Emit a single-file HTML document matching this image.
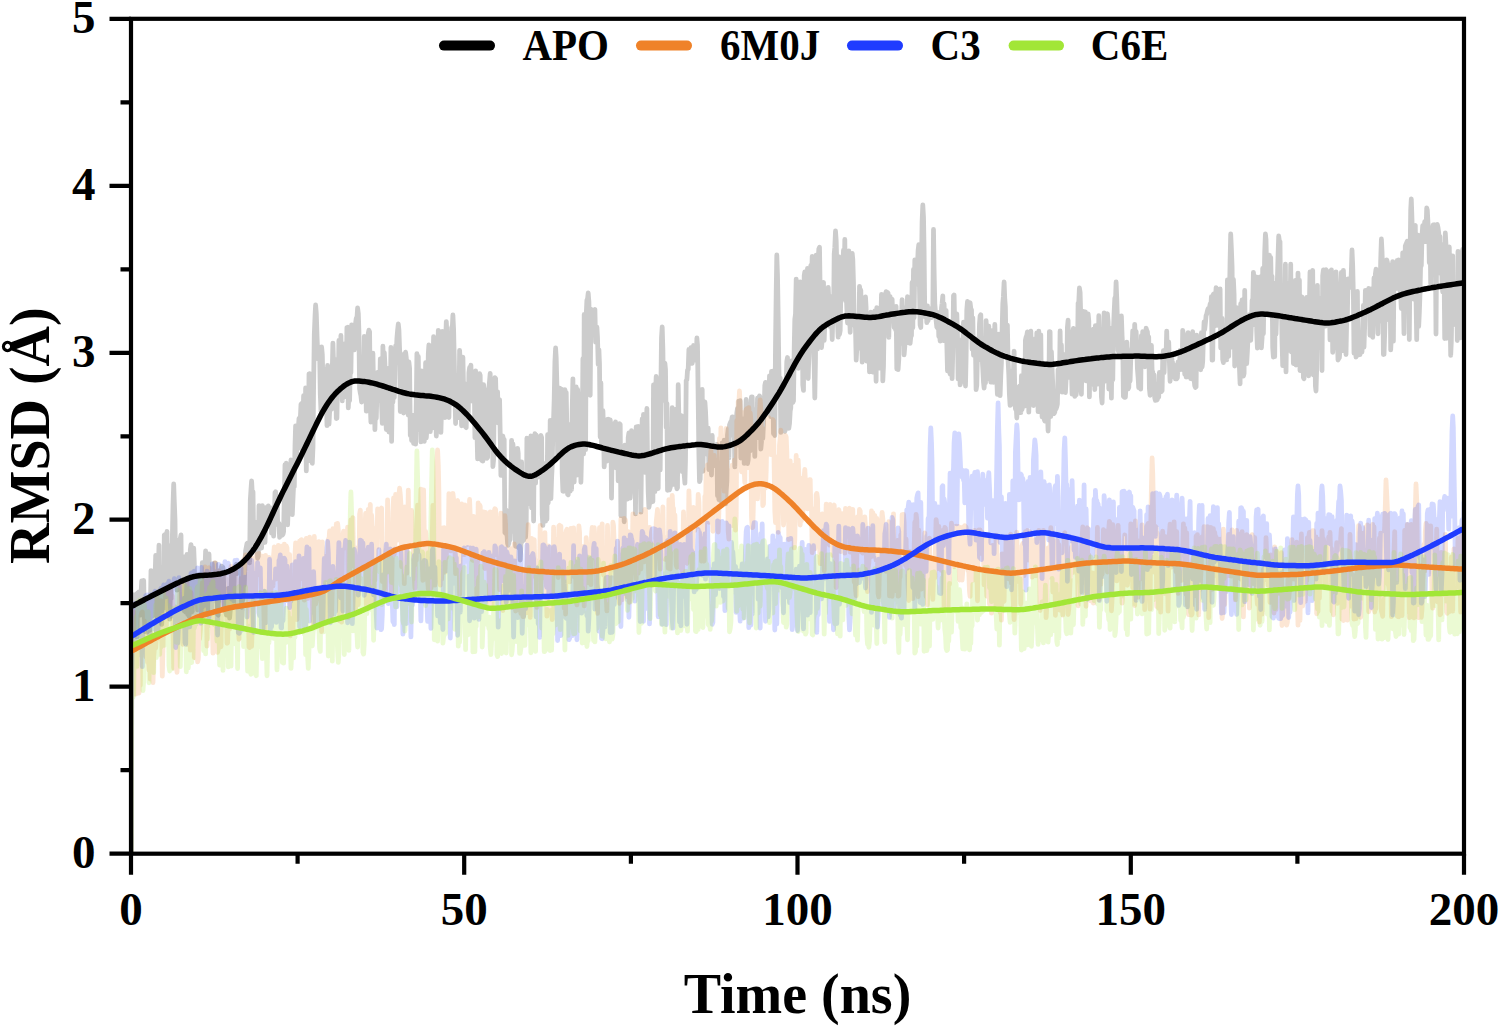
<!DOCTYPE html><html><head><meta charset="utf-8"><style>html,body{margin:0;padding:0;background:#fff;overflow:hidden}svg{display:block}</style></head><body><svg width="1499" height="1027" viewBox="0 0 1499 1027">
<rect width="1499" height="1027" fill="#fff"/>
<defs><clipPath id="c"><rect x="131.0" y="18.8" width="1333.0" height="834.9"/></clipPath></defs>
<g clip-path="url(#c)" fill="none" stroke-linejoin="round" stroke-linecap="round" stroke-width="4.8">
<path d="M131.5 853.7L131.7 599.5 132.3 594.3 133.0 613.9 133.7 620.2 134.3 629.5 135.0 609.3 135.7 610.5 136.3 594.2 137.0 636.9 137.7 592.8 138.3 610.1 139.0 591.9 139.7 607.0 140.3 615.2 141.0 594.2 141.7 580.8 142.3 593.6 143.0 601.0 143.7 580.5 144.3 615.9 145.0 631.5 145.7 601.6 146.3 618.8 147.0 632.0 147.7 629.7 148.3 623.9 149.0 629.1 149.7 630.3 150.3 613.5 151.0 570.6 151.7 582.2 152.3 616.3 153.0 591.4 153.7 577.4 154.3 605.0 155.0 579.5 155.7 555.4 156.3 583.9 157.0 617.0 157.7 581.8 158.3 571.0 159.0 545.1 159.7 615.4 160.3 615.7 161.0 619.1 161.7 624.4 162.3 607.6 163.0 566.9 163.7 608.1 164.3 535.1 165.0 534.5 165.7 539.8 166.3 546.3 167.0 531.4 167.7 611.0 168.3 564.7 169.0 545.6 169.7 619.2 170.3 597.5 171.0 598.6 171.7 558.1 172.3 541.2 173.0 505.2 173.7 484.0 174.3 501.8 175.0 519.5 175.7 581.7 176.3 558.8 177.0 590.1 177.7 540.4 178.3 545.6 179.0 570.9 179.7 554.3 180.3 538.5 181.0 534.9 181.7 608.1 182.3 561.1 183.0 558.0 183.7 578.7 184.3 611.0 185.0 556.7 185.7 612.2 186.3 583.8 187.0 554.5 187.7 614.4 188.3 607.5 189.0 616.1 189.7 597.3 190.3 549.8 191.0 544.6 191.7 612.2 192.3 611.1 193.0 577.9 193.7 548.2 194.3 562.4 195.0 603.3 195.7 583.1 196.3 585.4 197.0 596.0 197.6 609.8 198.3 582.2 199.0 574.4 199.6 584.2 200.3 591.7 201.0 613.7 201.6 608.1 202.3 562.7 203.0 585.8 203.6 613.9 204.3 568.4 205.0 567.9 205.6 550.8 206.3 564.9 207.0 598.1 207.6 614.5 208.3 566.3 209.0 554.0 209.6 577.1 210.3 597.0 211.0 569.0 211.6 594.6 212.3 592.5 213.0 595.2 213.6 579.6 214.3 563.1 215.0 568.9 215.6 563.2 216.3 575.9 217.0 570.1 217.6 614.1 218.3 615.1 219.0 579.6 219.6 593.3 220.3 573.7 221.0 570.9 221.6 566.2 222.3 567.4 223.0 567.5 223.6 582.7 224.3 604.6 225.0 611.1 225.6 609.4 226.3 615.0 227.0 614.0 227.6 601.4 228.3 588.3 229.0 597.6 229.6 618.1 230.3 609.8 231.0 593.9 231.6 574.9 232.3 574.9 233.0 595.0 233.6 606.6 234.3 568.1 235.0 568.0 235.6 565.4 236.3 564.4 237.0 573.5 237.6 569.3 238.3 567.2 239.0 564.9 239.6 564.3 240.3 566.5 241.0 567.6 241.6 607.3 242.3 593.0 243.0 599.6 243.6 577.8 244.3 585.0 245.0 560.8 245.6 550.8 246.3 547.2 247.0 543.4 247.6 543.0 248.3 553.1 249.0 555.4 249.6 562.8 250.3 500.1 251.0 489.4 251.6 481.0 252.3 494.2 253.0 491.9 253.6 535.9 254.3 543.9 255.0 531.2 255.6 545.5 256.3 522.4 257.0 540.0 257.6 558.1 258.3 556.2 259.0 505.6 259.6 512.2 260.3 543.7 261.0 526.1 261.6 548.0 262.3 505.6 263.0 543.0 263.6 518.8 264.3 511.5 265.0 542.3 265.6 525.7 266.3 507.5 267.0 508.7 267.6 512.4 268.3 506.0 269.0 511.5 269.6 512.6 270.3 518.2 271.0 507.8 271.6 533.1 272.3 508.5 273.0 522.3 273.6 536.1 274.3 517.6 275.0 492.7 275.6 491.8 276.3 513.9 277.0 497.1 277.6 520.5 278.3 525.2 279.0 523.4 279.6 537.3 280.3 530.0 281.0 534.2 281.6 532.7 282.3 535.2 283.0 534.2 283.6 531.7 284.3 497.1 285.0 464.7 285.6 479.3 286.3 463.1 287.0 485.1 287.6 524.8 288.3 504.4 289.0 478.9 289.6 499.1 290.3 480.1 291.0 459.9 291.6 501.3 292.3 514.6 293.0 498.4 293.6 485.4 294.3 486.7 295.0 445.8 295.6 425.8 296.3 462.8 297.0 443.4 297.6 431.0 298.3 428.5 299.0 418.4 299.6 447.9 300.3 418.8 301.0 404.2 301.6 403.5 302.3 451.3 303.0 416.4 303.6 395.7 304.3 403.1 305.0 450.5 305.6 388.0 306.3 470.9 307.0 414.4 307.6 403.9 308.3 461.0 309.0 373.8 309.6 373.7 310.3 444.3 311.0 374.1 311.6 397.8 312.3 463.3 313.0 446.7 313.6 386.4 314.3 334.0 315.0 316.9 315.6 305.0 316.3 313.6 317.0 335.2 317.6 351.1 318.3 359.0 319.0 356.0 319.6 350.6 320.3 394.4 321.0 411.4 321.6 346.9 322.3 354.4 323.0 385.3 323.6 369.0 324.3 392.0 325.0 377.4 325.6 411.2 326.3 388.4 327.0 425.7 327.6 365.4 328.3 394.9 329.0 424.2 329.6 412.1 330.3 409.3 330.9 378.0 331.6 409.2 332.3 369.1 332.9 343.1 333.6 364.1 334.3 358.8 334.9 379.0 335.6 362.1 336.3 418.5 336.9 418.3 337.6 381.6 338.3 381.7 338.9 340.5 339.6 382.7 340.3 376.9 340.9 335.5 341.6 363.7 342.3 400.9 342.9 386.8 343.6 379.0 344.3 343.9 344.9 353.2 345.6 396.5 346.3 373.5 346.9 327.7 347.6 327.3 348.3 407.9 348.9 395.5 349.6 400.8 350.3 367.1 350.9 372.8 351.6 325.0 352.3 326.3 352.9 327.5 353.6 338.3 354.3 349.8 354.9 338.9 355.6 323.2 356.3 318.1 356.9 319.3 357.6 308.0 358.3 313.2 358.9 330.9 359.6 388.6 360.3 393.1 360.9 395.8 361.6 402.1 362.3 382.4 362.9 360.6 363.6 380.2 364.3 336.3 364.9 347.2 365.6 355.7 366.3 411.2 366.9 404.3 367.6 365.4 368.3 333.3 368.9 330.2 369.6 331.7 370.3 405.2 370.9 422.1 371.6 395.6 372.3 387.6 372.9 353.2 373.6 388.5 374.3 388.5 374.9 429.6 375.6 406.7 376.3 418.3 376.9 393.5 377.6 372.5 378.3 400.5 378.9 386.4 379.6 396.0 380.3 358.8 380.9 360.3 381.6 405.1 382.3 423.4 382.9 346.2 383.6 372.9 384.3 352.6 384.9 363.6 385.6 412.8 386.3 429.5 386.9 411.5 387.6 388.5 388.3 368.3 388.9 432.1 389.6 426.1 390.3 407.1 390.9 347.5 391.6 441.4 392.3 384.0 392.9 402.1 393.6 367.3 394.3 397.5 394.9 366.2 395.6 346.0 396.3 352.1 396.9 338.5 397.6 330.2 398.3 324.0 398.9 329.7 399.6 349.0 400.3 411.5 400.9 392.0 401.6 391.5 402.3 362.2 402.9 376.2 403.6 413.0 404.3 353.6 404.9 355.5 405.6 352.2 406.3 357.8 406.9 383.7 407.6 406.2 408.3 415.0 408.9 361.9 409.6 368.3 410.3 435.6 410.9 416.6 411.6 440.5 412.3 415.2 412.9 438.4 413.6 443.3 414.3 425.5 414.9 418.1 415.6 444.1 416.3 401.2 416.9 353.6 417.6 429.8 418.3 356.5 418.9 408.4 419.6 419.9 420.3 409.0 420.9 441.9 421.6 370.9 422.3 371.7 422.9 421.5 423.6 420.4 424.3 441.3 424.9 428.1 425.6 362.7 426.3 437.8 426.9 429.3 427.6 399.3 428.3 353.6 428.9 345.0 429.6 407.4 430.3 431.6 430.9 399.2 431.6 420.4 432.3 428.1 432.9 368.9 433.6 336.6 434.3 359.0 434.9 401.6 435.6 365.9 436.3 436.1 436.9 421.4 437.6 430.5 438.3 330.3 438.9 335.6 439.6 365.5 440.3 399.6 440.9 432.4 441.6 406.7 442.3 331.3 442.9 402.1 443.6 358.8 444.3 337.8 444.9 417.7 445.6 342.6 446.3 321.6 446.9 334.1 447.6 361.7 448.3 334.0 448.9 417.5 449.6 382.6 450.3 336.0 450.9 404.4 451.6 327.5 452.3 327.7 452.9 315.0 453.6 329.2 454.3 362.2 454.9 393.5 455.6 423.5 456.3 375.5 456.9 417.4 457.6 394.1 458.3 417.5 458.9 413.8 459.6 350.3 460.3 365.7 460.9 400.3 461.6 425.8 462.3 368.1 462.9 357.2 463.6 390.1 464.2 383.1 464.9 422.2 465.6 426.8 466.2 427.6 466.9 399.9 467.6 387.2 468.2 417.0 468.9 372.5 469.6 367.5 470.2 379.9 470.9 365.1 471.6 395.0 472.2 401.1 472.9 381.7 473.6 392.2 474.2 373.6 474.9 437.7 475.6 370.9 476.2 425.5 476.9 427.5 477.6 458.9 478.2 408.9 478.9 375.0 479.6 373.7 480.2 375.4 480.9 456.9 481.6 460.3 482.2 451.7 482.9 461.0 483.6 384.7 484.2 391.8 484.9 403.4 485.6 389.8 486.2 446.3 486.9 458.3 487.6 457.4 488.2 393.2 488.9 388.3 489.6 380.4 490.2 373.4 490.9 444.9 491.6 447.6 492.2 418.3 492.9 466.6 493.6 459.8 494.2 392.3 494.9 377.6 495.6 378.5 496.2 401.3 496.9 419.3 497.6 391.8 498.2 423.0 498.9 416.4 499.6 399.7 500.2 433.7 500.9 475.4 501.6 467.0 502.2 439.3 502.9 436.2 503.6 447.6 504.2 439.5 504.9 532.5 505.6 533.2 506.2 510.2 506.9 533.1 507.6 543.5 508.2 545.2 508.9 542.8 509.6 524.6 510.2 539.6 510.9 498.9 511.6 440.3 512.2 467.4 512.9 444.0 513.6 452.1 514.2 531.7 514.9 523.0 515.6 546.3 516.2 473.0 516.9 528.4 517.6 448.4 518.2 453.3 518.9 547.9 519.6 539.5 520.2 560.0 520.9 545.9 521.6 461.9 522.2 541.6 522.9 524.2 523.6 540.3 524.2 517.5 524.9 537.3 525.6 537.1 526.2 524.5 526.9 438.2 527.6 492.8 528.2 454.7 528.9 479.8 529.6 503.7 530.2 461.6 530.9 436.0 531.6 507.8 532.2 467.9 532.9 468.3 533.6 521.0 534.2 442.2 534.9 433.7 535.6 483.1 536.2 435.2 536.9 455.6 537.6 477.3 538.2 437.9 538.9 451.2 539.6 459.4 540.2 437.3 540.9 435.4 541.6 437.6 542.2 514.5 542.9 525.4 543.6 463.3 544.2 512.2 544.9 499.9 545.6 521.2 546.2 511.8 546.9 519.3 547.6 434.7 548.2 502.8 548.9 482.4 549.6 477.9 550.2 420.3 550.9 498.7 551.6 478.1 552.2 465.9 552.9 428.1 553.6 418.3 554.2 398.5 554.9 362.1 555.6 348.0 556.2 357.9 556.9 384.8 557.6 454.6 558.2 420.8 558.9 403.1 559.6 388.2 560.2 399.8 560.9 396.5 561.6 389.2 562.2 473.5 562.9 491.1 563.6 491.3 564.2 469.2 564.9 389.6 565.6 394.2 566.2 392.6 566.9 429.9 567.6 494.2 568.2 494.8 568.9 463.0 569.6 444.6 570.2 491.1 570.9 424.1 571.6 489.4 572.2 409.3 572.9 378.8 573.6 449.3 574.2 482.1 574.9 400.0 575.6 471.1 576.2 386.9 576.9 475.2 577.6 389.3 578.2 398.1 578.9 422.7 579.6 461.2 580.2 402.0 580.9 482.3 581.6 454.3 582.2 441.4 582.9 358.7 583.6 454.0 584.2 314.5 584.9 346.7 585.6 449.7 586.2 315.0 586.9 300.2 587.6 298.6 588.2 293.0 588.9 302.0 589.6 345.7 590.2 395.3 590.9 309.1 591.6 313.5 592.2 324.8 592.9 316.6 593.6 325.3 594.2 311.1 594.9 309.4 595.6 342.1 596.2 340.3 596.9 327.2 597.5 337.3 598.2 364.5 598.9 349.7 599.5 364.2 600.2 437.0 600.9 383.0 601.5 446.3 602.2 447.9 602.9 410.6 603.5 428.4 604.2 466.9 604.9 454.1 605.5 461.8 606.2 420.0 606.9 447.5 607.5 460.8 608.2 419.1 608.9 432.5 609.5 419.9 610.2 419.8 610.9 427.0 611.5 498.1 612.2 443.4 612.9 427.7 613.5 423.9 614.2 433.0 614.9 423.2 615.5 422.0 616.2 468.0 616.9 425.2 617.5 432.4 618.2 480.9 618.9 476.2 619.5 423.7 620.2 424.4 620.9 515.7 621.5 473.8 622.2 470.2 622.9 471.5 623.5 483.2 624.2 521.8 624.9 445.2 625.5 496.2 626.2 481.6 626.9 491.3 627.5 499.0 628.2 437.5 628.9 432.9 629.5 461.5 630.2 498.0 630.9 487.5 631.5 430.7 632.2 435.3 632.9 432.3 633.5 448.0 634.2 452.8 634.9 435.6 635.5 513.9 636.2 426.9 636.9 468.3 637.5 482.4 638.2 426.5 638.9 433.3 639.5 436.6 640.2 468.0 640.9 512.2 641.5 457.6 642.2 419.0 642.9 457.4 643.5 414.3 644.2 458.6 644.9 472.3 645.5 419.5 646.2 424.1 646.9 408.5 647.5 455.9 648.2 491.8 648.9 507.4 649.5 503.8 650.2 501.0 650.9 502.3 651.5 455.1 652.2 475.1 652.9 501.5 653.5 384.9 654.2 441.6 654.9 491.7 655.5 393.7 656.2 376.5 656.9 453.4 657.5 488.5 658.2 488.5 658.9 390.3 659.5 437.6 660.2 470.1 660.9 387.0 661.5 337.7 662.2 327.0 662.9 350.1 663.5 400.4 664.2 370.9 664.9 363.1 665.5 369.5 666.2 427.5 666.9 403.3 667.5 490.3 668.2 473.6 668.9 488.2 669.5 489.9 670.2 487.6 670.9 484.4 671.5 450.4 672.2 407.7 672.9 433.5 673.5 484.4 674.2 454.9 674.9 472.7 675.5 409.5 676.2 482.1 676.9 488.8 677.5 487.7 678.2 384.7 678.9 419.6 679.5 462.8 680.2 416.3 680.9 427.4 681.5 415.6 682.2 471.6 682.9 458.3 683.5 450.3 684.2 474.9 684.9 483.2 685.5 459.7 686.2 380.6 686.9 379.6 687.5 370.4 688.2 369.3 688.9 349.4 689.5 361.8 690.2 353.1 690.9 347.7 691.5 357.6 692.2 363.4 692.9 349.4 693.5 345.5 694.2 350.9 694.9 356.2 695.5 351.2 696.2 360.2 696.9 338.0 697.5 345.3 698.2 400.9 698.9 455.0 699.5 481.6 700.2 479.2 700.9 442.6 701.5 468.0 702.2 389.4 702.9 471.3 703.5 437.8 704.2 411.8 704.9 401.9 705.5 410.5 706.2 426.4 706.9 439.2 707.5 454.5 708.2 428.2 708.9 469.6 709.5 447.3 710.2 462.8 710.9 459.8 711.5 475.0 712.2 435.5 712.9 466.1 713.5 461.0 714.2 455.6 714.9 449.5 715.5 450.3 716.2 452.9 716.9 444.4 717.5 495.6 718.2 483.7 718.9 499.6 719.5 483.1 720.2 500.4 720.9 501.0 721.5 489.2 722.2 442.8 722.9 447.0 723.5 454.4 724.2 440.1 724.9 480.5 725.5 503.8 726.2 490.8 726.9 480.8 727.5 435.0 728.2 429.0 728.9 457.9 729.5 425.0 730.2 422.9 730.9 421.4 731.5 421.0 732.2 416.8 732.8 416.8 733.5 435.6 734.2 423.6 734.8 466.9 735.5 422.8 736.2 423.4 736.8 412.9 737.5 408.5 738.2 445.2 738.8 401.1 739.5 443.0 740.2 400.7 740.8 458.0 741.5 426.4 742.2 443.8 742.8 419.0 743.5 430.2 744.2 463.4 744.8 460.0 745.5 424.4 746.2 399.5 746.8 447.3 747.5 463.5 748.2 459.7 748.8 446.7 749.5 444.3 750.2 450.8 750.8 405.3 751.5 396.8 752.2 396.8 752.8 432.6 753.5 420.8 754.2 431.0 754.8 456.4 755.5 409.4 756.2 414.7 756.8 437.9 757.5 398.2 758.2 398.7 758.8 397.4 759.5 395.9 760.2 397.5 760.8 449.1 761.5 441.8 762.2 401.4 762.8 438.4 763.5 422.8 764.2 410.0 764.8 385.5 765.5 382.4 766.2 383.0 766.8 406.4 767.5 384.4 768.2 384.9 768.8 406.0 769.5 375.9 770.2 378.9 770.8 416.7 771.5 371.3 772.2 387.8 772.8 371.1 773.5 433.8 774.2 415.2 774.8 435.5 775.5 345.7 776.2 292.1 776.8 255.0 777.5 275.3 778.2 317.6 778.8 364.1 779.5 396.4 780.2 377.8 780.8 432.4 781.5 413.5 782.2 418.2 782.8 384.3 783.5 383.4 784.2 426.8 784.8 431.4 785.5 429.3 786.2 381.6 786.8 361.4 787.5 357.5 788.2 426.2 788.8 428.3 789.5 423.7 790.2 411.2 790.8 407.8 791.5 360.8 792.2 364.6 792.8 402.5 793.5 400.9 794.2 348.6 794.8 319.3 795.5 314.0 796.2 279.1 796.8 293.9 797.5 298.1 798.2 368.3 798.8 354.7 799.5 299.8 800.2 281.9 800.8 296.9 801.5 288.7 802.2 296.1 802.8 384.9 803.5 390.4 804.2 275.7 804.8 271.9 805.5 292.0 806.2 372.3 806.8 373.3 807.5 268.3 808.2 378.5 808.8 356.6 809.5 273.1 810.2 278.0 810.8 265.4 811.5 283.7 812.2 256.4 812.8 285.9 813.5 349.7 814.2 366.3 814.8 398.0 815.5 358.4 816.2 255.1 816.8 302.0 817.5 349.0 818.2 260.1 818.8 249.1 819.5 247.3 820.2 293.6 820.8 344.4 821.5 347.6 822.2 339.7 822.8 302.4 823.5 282.3 824.2 340.3 824.8 323.9 825.5 318.3 826.2 312.1 826.8 310.1 827.5 323.3 828.2 287.3 828.8 299.4 829.5 295.8 830.2 326.7 830.8 301.5 831.5 315.0 832.2 339.5 832.8 318.1 833.5 322.1 834.2 254.2 834.8 247.2 835.5 231.0 836.2 241.1 836.8 265.0 837.5 323.4 838.2 337.2 838.8 256.7 839.5 334.3 840.2 330.6 840.8 294.2 841.5 286.6 842.2 274.7 842.8 266.8 843.5 250.2 844.2 279.0 844.8 239.5 845.5 300.7 846.2 291.1 846.8 307.9 847.5 323.0 848.2 296.2 848.8 250.8 849.5 313.2 850.2 332.3 850.8 287.6 851.5 276.4 852.2 253.3 852.8 259.5 853.5 283.0 854.2 325.2 854.8 316.4 855.5 328.8 856.2 360.2 856.8 348.5 857.5 339.3 858.2 337.2 858.8 348.1 859.5 286.3 860.2 292.8 860.8 290.2 861.5 336.3 862.2 362.2 862.8 350.4 863.5 320.5 864.1 339.6 864.8 338.6 865.5 296.9 866.1 307.7 866.8 361.2 867.5 358.8 868.1 361.5 868.8 332.2 869.5 371.9 870.1 350.9 870.8 312.2 871.5 331.3 872.1 370.1 872.8 371.9 873.5 355.4 874.1 330.5 874.8 311.0 875.5 347.7 876.1 381.3 876.8 307.6 877.5 311.2 878.1 312.6 878.8 319.5 879.5 368.2 880.1 357.1 880.8 321.8 881.5 294.3 882.1 301.4 882.8 380.9 883.5 366.1 884.1 324.6 884.8 294.5 885.5 295.4 886.1 291.7 886.8 292.2 887.5 292.5 888.1 293.1 888.8 337.4 889.5 298.3 890.1 296.5 890.8 312.1 891.5 299.0 892.1 299.2 892.8 316.5 893.5 315.9 894.1 327.3 894.8 312.4 895.5 329.7 896.1 306.4 896.8 368.9 897.5 350.3 898.1 369.6 898.8 359.1 899.5 316.2 900.1 315.7 900.8 318.3 901.5 318.3 902.1 299.6 902.8 343.5 903.5 307.5 904.1 354.9 904.8 346.4 905.5 322.1 906.1 342.2 906.8 315.5 907.5 296.6 908.1 342.6 908.8 330.7 909.5 332.1 910.1 343.4 910.8 336.7 911.5 335.5 912.1 282.5 912.8 327.8 913.5 269.4 914.1 317.7 914.8 259.9 915.5 270.8 916.1 284.6 916.8 270.7 917.5 265.1 918.1 250.5 918.8 244.6 919.5 289.4 920.1 324.8 920.8 327.5 921.5 265.1 922.1 221.8 922.8 205.0 923.5 216.8 924.1 251.3 924.8 316.8 925.5 316.8 926.1 305.8 926.8 322.6 927.5 306.0 928.1 320.8 928.8 314.4 929.5 314.7 930.1 311.9 930.8 317.0 931.5 317.5 932.1 307.8 932.8 314.3 933.5 229.5 934.1 270.6 934.8 303.8 935.5 312.2 936.1 320.5 936.8 326.9 937.5 328.0 938.1 312.3 938.8 336.4 939.5 328.3 940.1 341.0 940.8 328.2 941.5 308.0 942.1 303.2 942.8 295.9 943.5 340.6 944.1 303.9 944.8 338.2 945.5 327.8 946.1 310.3 946.8 343.5 947.5 370.9 948.1 343.0 948.8 368.4 949.5 371.7 950.1 374.0 950.8 327.3 951.5 349.7 952.1 378.7 952.8 351.3 953.5 295.8 954.1 295.0 954.8 332.2 955.5 339.5 956.1 321.4 956.8 313.8 957.5 336.1 958.1 379.0 958.8 341.4 959.5 340.0 960.1 384.9 960.8 382.3 961.5 359.5 962.1 362.3 962.8 343.2 963.5 322.1 964.1 323.8 964.8 354.5 965.5 386.0 966.1 357.0 966.8 309.6 967.5 301.5 968.1 316.6 968.8 332.8 969.5 304.4 970.1 302.7 970.8 308.6 971.5 309.9 972.1 349.1 972.8 317.8 973.5 355.3 974.1 347.9 974.8 338.8 975.5 351.3 976.1 389.6 976.8 385.3 977.5 349.6 978.1 338.7 978.8 346.5 979.5 323.6 980.1 315.9 980.8 314.7 981.5 360.2 982.1 357.4 982.8 368.5 983.5 382.2 984.1 388.1 984.8 378.3 985.5 382.9 986.1 320.6 986.8 345.1 987.5 364.3 988.1 373.9 988.8 326.2 989.5 378.9 990.1 373.6 990.8 382.1 991.5 376.4 992.1 366.0 992.8 330.3 993.5 382.4 994.1 367.2 994.8 324.5 995.5 346.4 996.1 352.9 996.8 379.1 997.4 394.3 998.1 388.4 998.8 334.1 999.4 367.7 1000.1 395.7 1000.8 376.0 1001.4 362.8 1002.1 329.8 1002.8 303.7 1003.4 296.4 1004.1 282.0 1004.8 299.5 1005.4 307.2 1006.1 350.9 1006.8 328.2 1007.4 325.1 1008.1 360.7 1008.8 374.9 1009.4 394.6 1010.1 405.4 1010.8 398.6 1011.4 389.9 1012.1 404.1 1012.8 370.8 1013.4 372.1 1014.1 351.2 1014.8 392.1 1015.4 408.8 1016.1 404.1 1016.8 418.0 1017.4 404.1 1018.1 387.7 1018.8 387.2 1019.4 386.3 1020.1 398.2 1020.8 412.7 1021.4 375.7 1022.1 409.4 1022.8 396.1 1023.4 386.2 1024.1 360.2 1024.8 406.1 1025.4 340.2 1026.1 337.1 1026.8 335.4 1027.4 331.8 1028.1 359.8 1028.8 412.2 1029.4 379.1 1030.1 333.3 1030.8 331.1 1031.4 353.1 1032.1 359.7 1032.8 345.5 1033.4 405.6 1034.1 400.5 1034.8 403.2 1035.4 338.6 1036.1 381.8 1036.8 332.8 1037.4 351.4 1038.1 411.7 1038.8 331.1 1039.4 396.6 1040.1 371.2 1040.8 334.8 1041.4 392.5 1042.1 416.9 1042.8 363.7 1043.4 379.2 1044.1 419.0 1044.8 421.1 1045.4 417.4 1046.1 364.1 1046.8 396.5 1047.4 411.6 1048.1 431.0 1048.8 401.5 1049.4 331.6 1050.1 331.8 1050.8 416.5 1051.4 351.6 1052.1 369.6 1052.8 385.6 1053.4 411.0 1054.1 413.6 1054.8 412.0 1055.4 404.0 1056.1 408.8 1056.8 406.6 1057.4 404.0 1058.1 369.6 1058.8 382.3 1059.4 383.0 1060.1 331.0 1060.8 371.3 1061.4 345.0 1062.1 392.2 1062.8 366.3 1063.4 358.5 1064.1 354.7 1064.8 369.7 1065.4 392.5 1066.1 379.3 1066.8 374.4 1067.4 327.3 1068.1 320.2 1068.8 377.3 1069.4 332.2 1070.1 363.6 1070.8 336.1 1071.4 367.4 1072.1 394.2 1072.8 332.0 1073.4 328.3 1074.1 388.5 1074.8 396.4 1075.4 393.9 1076.1 394.9 1076.8 390.0 1077.4 360.9 1078.1 303.2 1078.8 301.8 1079.4 288.0 1080.1 292.3 1080.8 317.0 1081.4 394.3 1082.1 355.7 1082.8 342.5 1083.4 311.5 1084.1 312.2 1084.8 317.2 1085.4 312.0 1086.1 380.9 1086.8 358.4 1087.4 370.9 1088.1 313.8 1088.8 321.1 1089.4 396.9 1090.1 345.7 1090.8 384.8 1091.4 340.1 1092.1 369.7 1092.8 352.3 1093.4 329.2 1094.1 341.5 1094.8 389.6 1095.4 325.6 1096.1 335.2 1096.8 359.0 1097.4 335.9 1098.1 384.1 1098.8 315.7 1099.4 344.4 1100.1 349.4 1100.8 350.6 1101.4 396.8 1102.1 403.0 1102.8 379.6 1103.4 354.8 1104.1 313.0 1104.8 319.3 1105.4 381.2 1106.1 338.3 1106.8 316.8 1107.4 313.8 1108.1 321.6 1108.8 389.0 1109.4 327.9 1110.1 384.7 1110.8 343.1 1111.4 398.1 1112.1 340.8 1112.8 379.8 1113.4 331.3 1114.1 313.1 1114.8 298.2 1115.4 302.5 1116.1 282.0 1116.8 299.1 1117.4 319.6 1118.1 350.3 1118.8 352.3 1119.4 350.2 1120.1 339.5 1120.8 330.4 1121.4 316.0 1122.1 336.2 1122.8 349.0 1123.4 396.2 1124.1 397.1 1124.8 396.4 1125.4 397.1 1126.1 385.2 1126.8 342.2 1127.4 382.3 1128.1 388.9 1128.8 387.5 1129.4 368.9 1130.1 381.0 1130.8 357.6 1131.4 350.8 1132.1 346.6 1132.7 330.8 1133.4 345.6 1134.1 352.9 1134.7 324.3 1135.4 344.0 1136.1 331.4 1136.7 343.5 1137.4 368.5 1138.1 377.2 1138.7 387.6 1139.4 369.4 1140.1 385.3 1140.7 389.1 1141.4 335.6 1142.1 354.6 1142.7 331.6 1143.4 339.7 1144.1 331.6 1144.7 366.8 1145.4 352.3 1146.1 328.2 1146.7 330.1 1147.4 331.7 1148.1 341.8 1148.7 336.9 1149.4 388.6 1150.1 395.3 1150.7 372.4 1151.4 345.3 1152.1 370.5 1152.7 371.7 1153.4 379.1 1154.1 374.9 1154.7 397.6 1155.4 400.4 1156.1 388.7 1156.7 400.2 1157.4 399.4 1158.1 395.7 1158.7 397.1 1159.4 372.5 1160.1 383.7 1160.7 377.5 1161.4 391.5 1162.1 390.6 1162.7 359.6 1163.4 350.7 1164.1 372.7 1164.7 353.3 1165.4 349.6 1166.1 354.6 1166.7 331.1 1167.4 357.2 1168.1 347.7 1168.7 341.9 1169.4 362.3 1170.1 381.3 1170.7 355.9 1171.4 355.2 1172.1 360.9 1172.7 363.0 1173.4 364.4 1174.1 377.1 1174.7 365.6 1175.4 378.8 1176.1 375.9 1176.7 378.9 1177.4 377.7 1178.1 361.9 1178.7 369.0 1179.4 369.9 1180.1 350.3 1180.7 364.3 1181.4 369.3 1182.1 369.5 1182.7 330.4 1183.4 334.3 1184.1 338.9 1184.7 374.1 1185.4 356.3 1186.1 377.0 1186.7 361.3 1187.4 376.8 1188.1 332.7 1188.7 376.7 1189.4 342.9 1190.1 336.2 1190.7 378.6 1191.4 375.2 1192.1 336.8 1192.7 331.7 1193.4 379.8 1194.1 378.9 1194.7 385.6 1195.4 387.4 1196.1 386.9 1196.7 335.1 1197.4 344.0 1198.1 358.4 1198.7 366.6 1199.4 342.8 1200.1 339.0 1200.7 369.8 1201.4 332.7 1202.1 367.1 1202.7 361.8 1203.4 338.2 1204.1 321.9 1204.7 329.5 1205.4 323.3 1206.1 315.5 1206.7 314.3 1207.4 311.0 1208.1 308.7 1208.7 311.5 1209.4 308.5 1210.1 304.0 1210.7 309.9 1211.4 296.6 1212.1 360.1 1212.7 359.9 1213.4 294.2 1214.1 293.7 1214.7 326.1 1215.4 300.7 1216.1 287.7 1216.7 322.7 1217.4 291.5 1218.1 316.8 1218.7 325.5 1219.4 322.3 1220.1 289.0 1220.7 348.1 1221.4 347.8 1222.1 318.4 1222.7 359.4 1223.4 362.6 1224.1 344.4 1224.7 341.5 1225.4 345.1 1226.1 335.3 1226.7 359.9 1227.4 280.0 1228.1 346.8 1228.7 356.3 1229.4 299.9 1230.1 260.4 1230.7 234.0 1231.4 249.1 1232.1 267.3 1232.7 347.4 1233.4 279.3 1234.1 294.5 1234.7 366.0 1235.4 307.2 1236.1 346.0 1236.7 307.6 1237.4 318.4 1238.1 322.1 1238.7 320.6 1239.4 366.9 1240.1 383.8 1240.7 303.7 1241.4 312.3 1242.1 299.8 1242.7 339.3 1243.4 376.1 1244.1 373.5 1244.7 290.4 1245.4 349.5 1246.1 343.8 1246.7 363.7 1247.4 351.3 1248.1 335.4 1248.7 325.9 1249.4 314.6 1250.1 335.8 1250.7 340.3 1251.4 323.5 1252.1 300.4 1252.7 305.4 1253.4 272.3 1254.1 280.2 1254.7 288.5 1255.4 325.0 1256.1 276.9 1256.7 330.3 1257.4 348.1 1258.1 346.5 1258.7 300.9 1259.4 339.5 1260.1 276.9 1260.7 299.8 1261.4 347.9 1262.1 337.6 1262.7 268.5 1263.4 333.7 1264.0 293.0 1264.7 252.2 1265.4 234.0 1266.0 239.4 1266.7 271.7 1267.4 313.0 1268.0 298.5 1268.7 267.8 1269.4 255.2 1270.0 277.4 1270.7 257.3 1271.4 291.6 1272.0 276.1 1272.7 347.5 1273.4 357.0 1274.0 300.3 1274.7 356.7 1275.4 283.2 1276.0 334.1 1276.7 312.9 1277.4 279.9 1278.0 257.6 1278.7 236.0 1279.4 241.0 1280.0 241.6 1280.7 316.8 1281.4 299.4 1282.0 339.7 1282.7 365.6 1283.4 322.3 1284.0 356.7 1284.7 328.7 1285.4 264.2 1286.0 371.9 1286.7 326.0 1287.4 283.4 1288.0 350.5 1288.7 293.5 1289.4 286.2 1290.0 311.7 1290.7 264.2 1291.4 352.1 1292.0 295.1 1292.7 317.7 1293.4 363.5 1294.0 343.1 1294.7 337.6 1295.4 280.4 1296.0 365.0 1296.7 341.1 1297.4 343.8 1298.0 273.1 1298.7 337.3 1299.4 280.1 1300.0 370.6 1300.7 315.5 1301.4 312.8 1302.0 296.8 1302.7 339.5 1303.4 377.5 1304.0 378.8 1304.7 300.5 1305.4 301.0 1306.0 358.2 1306.7 297.4 1307.4 348.8 1308.0 366.1 1308.7 375.8 1309.4 303.5 1310.0 272.0 1310.7 338.6 1311.4 319.7 1312.0 285.8 1312.7 270.5 1313.4 375.1 1314.0 355.7 1314.7 317.8 1315.4 385.9 1316.0 391.0 1316.7 367.7 1317.4 285.4 1318.0 340.1 1318.7 307.9 1319.4 347.2 1320.0 298.5 1320.7 302.0 1321.4 329.8 1322.0 370.5 1322.7 275.6 1323.4 270.0 1324.0 271.0 1324.7 317.0 1325.4 326.2 1326.0 269.7 1326.7 270.6 1327.4 310.4 1328.0 297.7 1328.7 291.9 1329.4 301.1 1330.0 339.9 1330.7 271.1 1331.4 269.9 1332.0 285.9 1332.7 352.3 1333.4 341.8 1334.0 320.7 1334.7 276.5 1335.4 306.3 1336.0 271.8 1336.7 287.9 1337.4 338.7 1338.0 360.0 1338.7 358.5 1339.4 357.5 1340.0 348.5 1340.7 320.7 1341.4 272.3 1342.0 298.6 1342.7 350.7 1343.4 270.3 1344.0 287.5 1344.7 320.0 1345.4 332.0 1346.0 354.5 1346.7 318.9 1347.4 315.2 1348.0 278.9 1348.7 280.2 1349.4 284.7 1350.0 280.6 1350.7 287.4 1351.4 269.5 1352.0 250.0 1352.7 265.9 1353.4 296.3 1354.0 353.3 1354.7 333.8 1355.4 337.8 1356.0 357.1 1356.7 348.5 1357.4 291.4 1358.0 355.1 1358.7 353.9 1359.4 344.5 1360.0 354.5 1360.7 350.4 1361.4 333.2 1362.0 352.0 1362.7 325.0 1363.4 305.4 1364.0 347.3 1364.7 324.5 1365.4 290.4 1366.0 313.4 1366.7 302.6 1367.4 292.3 1368.0 311.7 1368.7 288.5 1369.4 290.1 1370.0 335.3 1370.7 307.2 1371.4 288.9 1372.0 288.9 1372.7 337.3 1373.4 315.5 1374.0 278.0 1374.7 287.5 1375.4 273.8 1376.0 269.2 1376.7 293.3 1377.4 293.7 1378.0 333.8 1378.7 288.4 1379.4 321.8 1380.0 293.9 1380.7 260.2 1381.4 239.0 1382.0 251.3 1382.7 272.0 1383.4 354.5 1384.0 354.3 1384.7 332.9 1385.4 303.5 1386.0 320.1 1386.7 259.8 1387.4 262.1 1388.0 290.6 1388.7 275.8 1389.4 264.9 1390.0 275.6 1390.7 349.9 1391.4 334.3 1392.0 326.4 1392.7 261.6 1393.4 341.2 1394.0 266.0 1394.7 287.1 1395.4 267.5 1396.0 288.5 1396.7 278.2 1397.3 260.3 1398.0 268.4 1398.7 260.0 1399.3 273.3 1400.0 290.4 1400.7 296.3 1401.3 308.5 1402.0 288.2 1402.7 252.8 1403.3 293.7 1404.0 333.6 1404.7 288.9 1405.3 245.9 1406.0 244.3 1406.7 242.6 1407.3 241.3 1408.0 264.0 1408.7 253.6 1409.3 339.6 1410.0 263.0 1410.7 210.1 1411.3 199.0 1412.0 220.2 1412.7 261.8 1413.3 299.0 1414.0 235.7 1414.7 226.1 1415.3 225.5 1416.0 295.4 1416.7 339.6 1417.3 300.1 1418.0 235.1 1418.7 326.4 1419.3 313.3 1420.0 293.5 1420.7 259.7 1421.3 265.8 1422.0 236.3 1422.7 225.7 1423.3 232.0 1424.0 228.4 1424.7 221.7 1425.3 241.5 1426.0 231.0 1426.7 208.0 1427.3 210.1 1428.0 223.4 1428.7 227.6 1429.3 262.6 1430.0 228.1 1430.7 283.7 1431.3 238.3 1432.0 241.2 1432.7 247.2 1433.3 224.9 1434.0 224.7 1434.7 270.8 1435.3 235.8 1436.0 334.1 1436.7 242.9 1437.3 224.5 1438.0 227.6 1438.7 232.5 1439.3 248.8 1440.0 236.5 1440.7 273.5 1441.3 244.1 1442.0 280.8 1442.7 291.8 1443.3 262.0 1444.0 261.9 1444.7 338.6 1445.3 233.0 1446.0 245.2 1446.7 338.3 1447.3 248.4 1448.0 263.8 1448.7 258.9 1449.3 247.0 1450.0 310.1 1450.7 355.4 1451.3 342.2 1452.0 301.0 1452.7 255.9 1453.3 324.8 1454.0 324.2 1454.7 290.5 1455.3 311.9 1456.0 321.4 1456.7 288.7 1457.3 340.5 1458.0 251.3 1458.7 314.9 1459.3 303.8 1460.0 314.6 1460.7 337.8 1461.3 276.4 1462.0 256.0 1462.7 249.5 1463.3 258.1 1464.0 311.8" stroke="#000" stroke-opacity="0.2"/>
<path d="M131.5 853.7L131.7 623.6 132.3 627.8 133.0 628.8 133.7 611.6 134.3 665.5 135.0 670.8 135.7 694.2 136.3 676.2 137.0 642.9 137.7 653.9 138.3 648.8 139.0 693.0 139.7 668.8 140.3 685.3 141.0 615.5 141.7 612.5 142.3 612.0 143.0 639.3 143.7 628.8 144.3 620.9 145.0 647.3 145.7 656.5 146.3 650.4 147.0 656.1 147.7 662.6 148.3 656.8 149.0 670.0 149.7 632.7 150.3 679.1 151.0 633.0 151.7 651.5 152.3 658.8 153.0 682.7 153.7 656.9 154.3 649.5 155.0 639.7 155.7 648.0 156.3 639.4 157.0 595.3 157.7 603.4 158.3 638.0 159.0 603.5 159.7 628.3 160.3 605.3 161.0 600.6 161.7 635.4 162.3 676.2 163.0 647.8 163.7 613.8 164.3 633.9 165.0 611.1 165.7 593.9 166.3 632.9 167.0 593.9 167.7 587.7 168.3 587.8 169.0 587.5 169.7 587.1 170.3 585.0 171.0 593.1 171.7 610.1 172.3 595.8 173.0 631.6 173.7 668.2 174.3 664.4 175.0 628.9 175.7 607.0 176.3 660.2 177.0 672.3 177.7 649.0 178.3 630.7 179.0 626.2 179.7 597.6 180.3 582.4 181.0 590.8 181.7 588.1 182.3 629.3 183.0 644.3 183.7 605.5 184.3 586.2 185.0 581.2 185.7 581.0 186.3 580.2 187.0 579.4 187.7 644.6 188.3 643.7 189.0 616.4 189.7 591.6 190.3 650.2 191.0 592.7 191.7 620.1 192.3 623.1 193.0 618.2 193.7 602.4 194.3 657.5 195.0 606.0 195.7 617.5 196.3 639.0 197.0 635.9 197.6 661.9 198.3 658.9 199.0 625.5 199.6 639.1 200.3 631.1 201.0 620.3 201.6 615.9 202.3 583.0 203.0 602.5 203.6 614.2 204.3 599.2 205.0 566.8 205.6 594.1 206.3 589.6 207.0 646.1 207.6 577.4 208.3 574.4 209.0 567.7 209.6 588.9 210.3 625.5 211.0 583.2 211.6 577.4 212.3 621.8 213.0 653.2 213.6 611.6 214.3 611.8 215.0 562.6 215.6 602.5 216.3 619.0 217.0 615.6 217.6 652.4 218.3 648.7 219.0 570.8 219.6 607.7 220.3 620.5 221.0 646.8 221.6 603.2 222.3 581.4 223.0 580.0 223.6 606.9 224.3 586.8 225.0 573.6 225.6 606.2 226.3 579.1 227.0 643.3 227.6 642.9 228.3 615.3 229.0 604.8 229.6 629.2 230.3 599.9 231.0 566.3 231.6 577.2 232.3 584.7 233.0 570.9 233.6 578.2 234.3 624.7 235.0 612.7 235.6 569.5 236.3 620.9 237.0 604.7 237.6 608.7 238.3 629.3 239.0 639.3 239.6 604.2 240.3 584.6 241.0 578.5 241.6 625.7 242.3 606.2 243.0 582.3 243.6 560.0 244.3 558.9 245.0 557.5 245.6 554.9 246.3 555.3 247.0 592.1 247.6 578.0 248.3 600.6 249.0 647.1 249.6 647.5 250.3 556.0 251.0 602.9 251.6 646.4 252.3 625.6 253.0 558.4 253.6 580.4 254.3 573.0 255.0 598.9 255.6 595.0 256.3 555.9 257.0 554.3 257.6 572.9 258.3 560.1 259.0 553.4 259.6 574.7 260.3 566.4 261.0 568.2 261.6 601.0 262.3 556.1 263.0 574.6 263.6 598.9 264.3 631.0 265.0 632.5 265.6 555.5 266.3 600.0 267.0 573.4 267.6 596.3 268.3 565.8 269.0 557.5 269.6 596.6 270.3 596.2 271.0 590.1 271.6 578.9 272.3 573.7 273.0 585.9 273.6 555.2 274.3 546.8 275.0 548.2 275.6 579.1 276.3 561.2 277.0 566.1 277.6 555.2 278.3 545.5 279.0 553.7 279.6 562.7 280.3 593.7 281.0 587.0 281.6 593.5 282.3 545.8 283.0 549.8 283.6 578.5 284.3 544.2 285.0 592.7 285.6 550.6 286.3 545.9 287.0 548.1 287.6 573.9 288.3 578.5 289.0 592.0 289.6 554.7 290.3 635.9 291.0 609.0 291.6 589.0 292.3 593.1 293.0 632.8 293.6 593.7 294.3 597.0 295.0 554.7 295.6 543.0 296.3 549.0 297.0 619.5 297.6 590.9 298.3 596.5 299.0 557.8 299.6 541.1 300.3 545.2 301.0 539.8 301.6 539.7 302.3 541.5 303.0 579.4 303.6 560.9 304.3 600.2 305.0 544.2 305.6 544.0 306.3 538.4 307.0 540.4 307.6 598.5 308.3 550.4 309.0 540.5 309.6 537.2 310.3 571.8 311.0 588.8 311.6 567.8 312.3 599.9 313.0 626.0 313.6 622.8 314.3 536.5 315.0 574.9 315.6 604.0 316.3 600.2 317.0 586.2 317.6 543.1 318.3 541.8 319.0 541.6 319.6 566.8 320.3 572.3 321.0 595.8 321.6 631.6 322.3 541.8 323.0 585.9 323.6 555.8 324.3 584.0 325.0 587.1 325.6 584.3 326.3 620.5 327.0 585.4 327.6 566.8 328.3 539.3 329.0 540.1 329.6 530.8 330.3 537.2 330.9 545.5 331.6 616.7 332.3 586.6 332.9 528.7 333.6 540.4 334.3 533.3 334.9 563.1 335.6 577.0 336.3 524.0 336.9 533.9 337.6 523.5 338.3 529.8 338.9 564.4 339.6 620.9 340.3 577.2 340.9 617.9 341.6 622.1 342.3 556.1 342.9 535.0 343.6 531.1 344.3 542.2 344.9 547.9 345.6 534.5 346.3 540.7 346.9 544.0 347.6 527.1 348.3 617.4 348.9 562.7 349.6 572.7 350.3 536.9 350.9 519.8 351.6 566.2 352.3 527.0 352.9 517.6 353.6 563.5 354.3 566.1 354.9 547.5 355.6 609.5 356.3 577.7 356.9 555.0 357.6 563.0 358.3 604.6 358.9 575.7 359.6 514.1 360.3 510.1 360.9 528.8 361.6 563.6 362.3 553.4 362.9 548.5 363.6 562.7 364.3 565.8 364.9 533.1 365.6 513.4 366.3 604.9 366.9 533.1 367.6 534.4 368.3 509.4 368.9 522.9 369.6 521.0 370.3 504.3 370.9 605.2 371.6 515.2 372.3 527.8 372.9 597.4 373.6 605.7 374.3 560.4 374.9 580.2 375.6 528.6 376.3 529.1 376.9 547.4 377.6 509.0 378.3 521.0 378.9 510.1 379.6 509.6 380.3 518.9 380.9 512.7 381.6 508.0 382.3 581.5 382.9 562.0 383.6 553.9 384.3 566.8 384.9 598.4 385.6 589.1 386.3 550.6 386.9 548.0 387.6 499.8 388.3 547.4 388.9 552.8 389.6 572.4 390.3 562.5 390.9 568.8 391.6 595.8 392.3 549.5 392.9 512.4 393.6 497.9 394.3 554.4 394.9 547.8 395.6 494.5 396.3 523.0 396.9 518.7 397.6 540.2 398.3 500.5 398.9 495.7 399.6 488.2 400.3 494.7 400.9 503.6 401.6 566.6 402.3 560.4 402.9 562.6 403.6 549.2 404.3 583.7 404.9 507.0 405.6 560.0 406.3 539.9 406.9 573.1 407.6 539.1 408.3 490.1 408.9 540.8 409.6 535.0 410.3 539.0 410.9 528.8 411.6 510.5 412.3 543.1 412.9 543.2 413.6 556.2 414.3 577.3 414.9 588.2 415.6 536.6 416.3 560.1 416.9 523.6 417.6 505.1 418.3 551.5 418.9 506.1 419.6 544.2 420.3 510.0 420.9 489.1 421.6 538.4 422.3 565.5 422.9 580.3 423.6 489.9 424.3 537.9 424.9 579.1 425.6 531.4 426.3 543.2 426.9 544.8 427.6 580.1 428.3 589.0 428.9 587.5 429.6 586.6 430.3 588.8 430.9 588.0 431.6 584.6 432.3 533.2 432.9 505.5 433.6 510.8 434.3 544.0 434.9 585.2 435.6 544.1 436.3 494.3 436.9 461.8 437.6 450.0 438.3 465.1 438.9 492.1 439.6 581.0 440.3 585.2 440.9 540.2 441.6 579.2 442.3 553.3 442.9 527.8 443.6 528.2 444.3 527.7 444.9 572.2 445.6 556.5 446.3 557.8 446.9 537.0 447.6 536.1 448.3 542.2 448.9 493.6 449.6 503.4 450.3 541.3 450.9 550.9 451.6 543.5 452.3 547.8 452.9 493.4 453.6 499.4 454.3 531.9 454.9 547.4 455.6 573.7 456.3 552.1 456.9 501.3 457.6 500.6 458.3 525.7 458.9 533.6 459.6 594.4 460.3 545.0 460.9 552.0 461.6 504.0 462.3 542.9 462.9 554.4 463.6 546.0 464.2 554.6 464.9 505.0 465.6 515.1 466.2 514.3 466.9 511.8 467.6 544.5 468.2 518.0 468.9 526.9 469.6 499.5 470.2 516.9 470.9 520.8 471.6 552.6 472.2 559.9 472.9 560.2 473.6 516.5 474.2 540.6 474.9 518.7 475.6 551.7 476.2 557.2 476.9 602.1 477.6 550.8 478.2 502.8 478.9 525.3 479.6 504.8 480.2 506.4 480.9 549.8 481.6 516.8 482.2 557.2 482.9 556.3 483.6 511.9 484.2 523.0 484.9 568.5 485.6 512.3 486.2 564.2 486.9 558.7 487.6 558.5 488.2 557.3 488.9 569.0 489.6 603.4 490.2 511.9 490.9 559.1 491.6 569.9 492.2 608.8 492.9 562.8 493.6 516.2 494.2 511.4 494.9 508.7 495.6 509.7 496.2 521.6 496.9 554.9 497.6 518.4 498.2 549.5 498.9 560.6 499.6 589.6 500.2 564.4 500.9 513.2 501.6 539.7 502.2 540.7 502.9 610.6 503.6 537.8 504.2 533.4 504.9 515.6 505.6 525.1 506.2 570.4 506.9 607.3 507.6 565.3 508.2 564.6 508.9 588.0 509.6 571.6 510.2 582.5 510.9 548.7 511.6 569.9 512.2 607.5 512.9 590.5 513.6 601.8 514.2 543.9 514.9 574.4 515.6 611.0 516.2 588.1 516.9 583.7 517.6 570.7 518.2 573.4 518.9 610.0 519.6 590.5 520.2 588.2 520.9 613.4 521.6 606.0 522.2 574.4 522.9 616.6 523.6 616.7 524.2 608.1 524.9 591.9 525.6 570.6 526.2 612.9 526.9 573.2 527.6 552.5 528.2 524.7 528.9 569.2 529.6 599.3 530.2 617.4 530.9 575.5 531.6 538.3 532.2 576.8 532.9 569.8 533.6 551.1 534.2 539.6 534.9 574.3 535.6 560.3 536.2 573.0 536.9 607.4 537.6 575.7 538.2 570.5 538.9 603.0 539.6 571.6 540.2 525.4 540.9 594.0 541.6 554.6 542.2 538.1 542.9 558.6 543.6 558.9 544.2 571.7 544.9 532.6 545.6 578.8 546.2 575.9 546.9 616.2 547.6 572.7 548.2 545.9 548.9 603.5 549.6 601.0 550.2 562.9 550.9 577.2 551.6 609.1 552.2 619.5 552.9 578.2 553.6 527.2 554.2 555.6 554.9 542.6 555.6 539.1 556.2 559.0 556.9 554.5 557.6 556.8 558.2 577.5 558.9 526.2 559.6 525.4 560.2 527.6 560.9 526.1 561.6 569.9 562.2 572.9 562.9 534.0 563.6 584.4 564.2 608.2 564.9 566.7 565.6 614.1 566.2 531.0 566.9 529.3 567.6 533.7 568.2 533.0 568.9 572.4 569.6 581.9 570.2 538.7 570.9 528.5 571.6 541.2 572.2 550.6 572.9 572.2 573.6 527.8 574.2 576.7 574.9 577.6 575.6 572.4 576.2 600.1 576.9 604.8 577.6 599.7 578.2 538.7 578.9 525.9 579.6 532.7 580.2 595.0 580.9 588.8 581.6 573.7 582.2 571.7 582.9 572.5 583.6 546.3 584.2 605.9 584.9 582.3 585.6 566.8 586.2 537.6 586.9 545.8 587.6 561.4 588.2 571.5 588.9 582.8 589.6 572.3 590.2 573.2 590.9 584.7 591.6 534.3 592.2 527.4 592.9 558.4 593.6 537.2 594.2 527.6 594.9 537.7 595.6 552.4 596.2 544.0 596.9 603.8 597.5 613.4 598.2 571.6 598.9 565.4 599.5 527.7 600.2 569.9 600.9 537.5 601.5 530.7 602.2 523.8 602.9 569.6 603.5 575.0 604.2 568.7 604.9 567.0 605.5 594.4 606.2 594.8 606.9 610.9 607.5 525.5 608.2 555.1 608.9 567.5 609.5 584.6 610.2 573.7 610.9 551.0 611.5 569.2 612.2 569.9 612.9 522.2 613.5 525.4 614.2 543.7 614.9 569.7 615.5 569.3 616.2 587.9 616.9 569.0 617.5 586.3 618.2 597.5 618.9 584.2 619.5 603.3 620.2 570.0 620.9 518.9 621.5 557.8 622.2 599.8 622.9 537.7 623.5 552.6 624.2 518.3 624.9 522.8 625.5 520.2 626.2 562.0 626.9 596.7 627.5 565.9 628.2 531.6 628.9 568.3 629.5 602.4 630.2 589.9 630.9 581.2 631.5 569.0 632.2 559.8 632.9 514.0 633.5 523.2 634.2 558.4 634.9 572.7 635.5 528.4 636.2 579.1 636.9 517.2 637.5 530.0 638.2 573.3 638.9 550.7 639.5 544.7 640.2 514.4 640.9 569.0 641.5 550.0 642.2 544.7 642.9 515.1 643.5 557.6 644.2 561.9 644.9 509.5 645.5 510.3 646.2 556.3 646.9 532.6 647.5 556.5 648.2 561.2 648.9 580.2 649.5 527.4 650.2 553.6 650.9 550.6 651.5 549.6 652.2 585.6 652.9 581.6 653.5 543.7 654.2 584.7 654.9 548.7 655.5 548.0 656.2 521.9 656.9 515.5 657.5 509.5 658.2 532.9 658.9 541.8 659.5 558.1 660.2 569.1 660.9 536.9 661.5 552.1 662.2 520.1 662.9 507.0 663.5 549.0 664.2 536.8 664.9 559.3 665.5 542.9 666.2 558.6 666.9 543.1 667.5 541.5 668.2 568.1 668.9 499.6 669.5 500.3 670.2 569.2 670.9 539.7 671.5 542.8 672.2 495.4 672.9 509.6 673.5 508.4 674.2 530.9 674.9 514.8 675.5 543.3 676.2 565.1 676.9 567.2 677.5 564.4 678.2 534.8 678.9 536.4 679.5 543.4 680.2 553.9 680.9 568.2 681.5 547.6 682.2 576.7 682.9 561.6 683.5 512.0 684.2 537.4 684.9 559.7 685.5 540.4 686.2 562.2 686.9 563.2 687.5 528.5 688.2 549.3 688.9 490.9 689.5 508.3 690.2 532.8 690.9 553.1 691.5 544.6 692.2 569.7 692.9 537.6 693.5 507.4 694.2 509.8 694.9 530.5 695.5 518.6 696.2 511.6 696.9 524.5 697.5 521.7 698.2 494.3 698.9 502.1 699.5 526.9 700.2 524.7 700.9 521.6 701.5 561.1 702.2 533.6 702.9 531.4 703.5 561.2 704.2 560.8 704.9 496.3 705.5 511.3 706.2 469.3 706.9 509.2 707.5 464.9 708.2 474.9 708.9 522.3 709.5 508.0 710.2 462.3 710.9 450.6 711.5 460.2 712.2 503.6 712.9 531.3 713.5 497.7 714.2 455.3 714.9 474.5 715.5 496.1 716.2 463.3 716.9 460.2 717.5 466.8 718.2 532.0 718.9 511.2 719.5 438.3 720.2 469.7 720.9 427.8 721.5 439.5 722.2 485.9 722.9 473.4 723.5 452.2 724.2 491.1 724.9 481.8 725.5 489.9 726.2 428.5 726.9 480.2 727.5 469.8 728.2 531.0 728.9 539.1 729.5 497.4 730.2 516.6 730.9 497.5 731.5 475.2 732.2 465.2 732.8 525.7 733.5 496.7 734.2 460.2 734.8 497.4 735.5 530.1 736.2 516.4 736.8 420.7 737.5 452.6 738.2 401.1 738.8 404.3 739.5 391.0 740.2 409.2 740.8 436.5 741.5 471.8 742.2 412.4 742.8 431.5 743.5 420.6 744.2 470.1 744.8 482.7 745.5 422.7 746.2 409.4 746.8 408.8 747.5 410.1 748.2 467.6 748.8 407.7 749.5 423.7 750.2 412.8 750.8 419.5 751.5 516.8 752.2 527.6 752.8 527.3 753.5 500.2 754.2 435.0 754.8 467.1 755.5 426.4 756.2 494.8 756.8 485.3 757.5 498.9 758.2 471.0 758.8 449.8 759.5 413.9 760.2 400.0 760.8 409.2 761.5 435.2 762.2 473.9 762.8 505.6 763.5 503.9 764.2 439.6 764.8 428.8 765.5 488.0 766.2 471.4 766.8 435.6 767.5 419.9 768.2 419.9 768.8 417.6 769.5 427.9 770.2 437.7 770.8 454.7 771.5 421.8 772.2 422.7 772.8 419.5 773.5 420.9 774.2 468.3 774.8 510.6 775.5 522.7 776.2 513.0 776.8 457.2 777.5 498.6 778.2 532.3 778.8 488.5 779.5 445.2 780.2 438.1 780.8 430.1 781.5 446.8 782.2 484.1 782.8 487.5 783.5 525.0 784.2 517.7 784.8 447.9 785.5 435.4 786.2 437.0 786.8 451.1 787.5 489.0 788.2 471.5 788.8 539.5 789.5 492.8 790.2 460.8 790.8 483.2 791.5 488.9 792.2 538.9 792.8 487.7 793.5 465.5 794.2 547.9 794.8 539.6 795.5 500.1 796.2 455.5 796.8 507.7 797.5 506.3 798.2 460.1 798.8 474.7 799.5 506.1 800.2 525.0 800.8 507.4 801.5 520.8 802.2 478.1 802.8 514.6 803.5 497.2 804.2 476.8 804.8 469.4 805.5 482.6 806.2 501.9 806.8 498.5 807.5 508.9 808.2 483.2 808.8 508.2 809.5 479.7 810.2 479.6 810.8 508.2 811.5 508.1 812.2 552.7 812.8 520.3 813.5 516.2 814.2 529.0 814.8 548.9 815.5 533.9 816.2 494.6 816.8 493.4 817.5 498.4 818.2 532.2 818.8 525.5 819.5 543.3 820.2 563.7 820.8 561.9 821.5 524.5 822.2 514.0 822.8 514.3 823.5 550.0 824.2 570.6 824.8 516.7 825.5 533.3 826.2 504.2 826.8 536.6 827.5 507.9 828.2 515.2 828.8 542.8 829.5 545.0 830.2 504.5 830.8 505.9 831.5 521.9 832.2 519.6 832.8 555.4 833.5 506.1 834.2 505.1 834.8 520.1 835.5 513.0 836.2 587.6 836.8 519.2 837.5 513.7 838.2 512.8 838.8 509.6 839.5 513.5 840.2 549.8 840.8 551.5 841.5 545.0 842.2 513.7 842.8 520.3 843.5 550.4 844.2 520.0 844.8 553.1 845.5 508.3 846.2 511.2 846.8 536.1 847.5 519.0 848.2 509.6 848.8 510.8 849.5 508.3 850.2 552.1 850.8 511.8 851.5 531.9 852.2 515.4 852.8 509.5 853.5 555.5 854.2 582.0 854.8 564.2 855.5 588.9 856.2 595.7 856.8 557.5 857.5 516.9 858.2 549.6 858.8 526.8 859.5 509.4 860.2 510.9 860.8 531.1 861.5 552.1 862.2 529.1 862.8 553.1 863.5 528.2 864.1 532.5 864.8 517.0 865.5 526.3 866.1 543.0 866.8 571.4 867.5 591.6 868.1 568.4 868.8 563.0 869.5 553.5 870.1 553.6 870.8 556.9 871.5 511.0 872.1 516.9 872.8 512.6 873.5 556.2 874.1 522.2 874.8 515.5 875.5 524.2 876.1 560.2 876.8 518.4 877.5 556.1 878.1 593.7 878.8 596.9 879.5 565.9 880.1 566.4 880.8 528.9 881.5 522.0 882.1 512.3 882.8 518.5 883.5 526.9 884.1 538.8 884.8 560.2 885.5 569.5 886.1 571.3 886.8 553.5 887.5 566.5 888.1 554.5 888.8 521.7 889.5 595.9 890.1 588.5 890.8 590.7 891.5 563.2 892.1 596.3 892.8 588.1 893.5 513.8 894.1 567.3 894.8 556.0 895.5 554.6 896.1 560.1 896.8 591.3 897.5 540.4 898.1 596.1 898.8 595.8 899.5 575.7 900.1 577.1 900.8 534.8 901.5 557.4 902.1 514.7 902.8 532.7 903.5 514.4 904.1 522.3 904.8 556.5 905.5 565.3 906.1 539.1 906.8 567.8 907.5 562.8 908.1 584.9 908.8 600.5 909.5 562.3 910.1 551.7 910.8 589.4 911.5 557.9 912.1 560.1 912.8 598.7 913.5 591.4 914.1 552.1 914.8 522.1 915.5 530.5 916.1 514.3 916.8 519.9 917.5 561.3 918.1 596.6 918.8 530.2 919.5 560.7 920.1 566.0 920.8 580.8 921.5 589.2 922.1 580.8 922.8 561.3 923.5 550.5 924.1 549.1 924.8 532.9 925.5 569.9 926.1 596.4 926.8 576.4 927.5 604.8 928.1 562.3 928.8 546.0 929.5 538.1 930.1 579.7 930.8 574.7 931.5 565.0 932.1 589.6 932.8 599.3 933.5 578.0 934.1 563.5 934.8 577.6 935.5 544.6 936.1 519.6 936.8 524.9 937.5 555.1 938.1 568.6 938.8 526.3 939.5 541.6 940.1 544.6 940.8 552.9 941.5 570.4 942.1 530.7 942.8 564.7 943.5 565.0 944.1 608.7 944.8 527.5 945.5 528.5 946.1 550.1 946.8 570.6 947.5 576.2 948.1 607.6 948.8 566.8 949.5 584.1 950.1 552.2 950.8 539.2 951.5 523.2 952.1 528.6 952.8 533.7 953.5 530.8 954.1 566.8 954.8 564.5 955.5 539.6 956.1 526.2 956.8 526.6 957.5 543.2 958.1 526.4 958.8 541.4 959.5 580.0 960.1 527.4 960.8 534.5 961.5 558.8 962.1 580.1 962.8 570.7 963.5 526.8 964.1 535.5 964.8 525.7 965.5 529.9 966.1 527.1 966.8 534.6 967.5 560.9 968.1 570.8 968.8 571.1 969.5 591.4 970.1 596.4 970.8 558.4 971.5 531.3 972.1 542.1 972.8 555.6 973.5 580.1 974.1 537.4 974.8 530.4 975.5 573.9 976.1 563.5 976.8 567.7 977.5 600.8 978.1 533.6 978.8 530.0 979.5 534.5 980.1 529.8 980.8 553.3 981.5 552.1 982.1 532.4 982.8 553.1 983.5 550.0 984.1 584.9 984.8 561.5 985.5 534.5 986.1 580.5 986.8 596.2 987.5 582.4 988.1 538.6 988.8 577.4 989.5 604.3 990.1 588.0 990.8 556.6 991.5 613.2 992.1 591.3 992.8 545.4 993.5 575.8 994.1 586.9 994.8 566.4 995.5 606.4 996.1 535.2 996.8 542.3 997.4 575.7 998.1 575.7 998.8 576.3 999.4 580.9 1000.1 612.5 1000.8 595.6 1001.4 620.1 1002.1 553.8 1002.8 601.3 1003.4 599.5 1004.1 601.2 1004.8 559.0 1005.4 576.1 1006.1 536.6 1006.8 566.0 1007.4 563.1 1008.1 574.9 1008.8 578.9 1009.4 544.0 1010.1 535.5 1010.8 534.3 1011.4 583.1 1012.1 564.7 1012.8 593.3 1013.4 604.0 1014.1 619.7 1014.8 605.5 1015.4 565.8 1016.1 534.9 1016.8 532.2 1017.4 565.3 1018.1 581.4 1018.8 568.6 1019.4 563.8 1020.1 553.9 1020.8 604.0 1021.4 577.2 1022.1 545.5 1022.8 543.5 1023.4 552.7 1024.1 575.6 1024.8 562.0 1025.4 531.7 1026.1 532.9 1026.8 531.5 1027.4 530.5 1028.1 560.0 1028.8 539.3 1029.4 538.8 1030.1 531.8 1030.8 553.4 1031.4 568.6 1032.1 577.1 1032.8 558.4 1033.4 561.5 1034.1 561.3 1034.8 539.7 1035.4 555.9 1036.1 575.8 1036.8 569.7 1037.4 574.3 1038.1 543.6 1038.8 530.4 1039.4 539.0 1040.1 610.5 1040.8 550.7 1041.4 557.3 1042.1 577.9 1042.8 574.5 1043.4 530.3 1044.1 581.7 1044.8 602.3 1045.4 578.7 1046.1 617.6 1046.8 607.2 1047.4 551.6 1048.1 548.0 1048.8 552.7 1049.4 575.4 1050.1 577.1 1050.8 527.7 1051.4 540.9 1052.1 532.2 1052.8 592.0 1053.4 572.7 1054.1 568.3 1054.8 567.1 1055.4 615.3 1056.1 596.1 1056.8 540.3 1057.4 541.1 1058.1 577.1 1058.8 544.6 1059.4 610.1 1060.1 570.6 1060.8 564.7 1061.4 584.8 1062.1 605.6 1062.8 615.0 1063.4 602.5 1064.1 534.5 1064.8 532.7 1065.4 542.7 1066.1 539.1 1066.8 574.8 1067.4 558.7 1068.1 614.5 1068.8 608.8 1069.4 600.5 1070.1 580.4 1070.8 571.2 1071.4 547.2 1072.1 572.8 1072.8 542.4 1073.4 568.5 1074.1 541.8 1074.8 560.0 1075.4 540.1 1076.1 546.2 1076.8 573.9 1077.4 568.3 1078.1 605.8 1078.8 585.7 1079.4 569.1 1080.1 586.5 1080.8 591.9 1081.4 555.7 1082.1 536.8 1082.8 526.8 1083.4 570.9 1084.1 582.3 1084.8 555.0 1085.4 535.2 1086.1 606.3 1086.8 530.9 1087.4 527.8 1088.1 592.5 1088.8 554.9 1089.4 574.2 1090.1 577.8 1090.8 600.9 1091.4 600.7 1092.1 591.2 1092.8 573.0 1093.4 603.2 1094.1 577.2 1094.8 589.7 1095.4 583.1 1096.1 594.5 1096.8 585.0 1097.4 527.5 1098.1 585.1 1098.8 599.8 1099.4 567.1 1100.1 566.7 1100.8 584.4 1101.4 545.3 1102.1 574.3 1102.8 565.8 1103.4 529.7 1104.1 530.7 1104.8 553.3 1105.4 555.0 1106.1 548.3 1106.8 531.3 1107.4 572.0 1108.1 530.9 1108.8 528.8 1109.4 521.3 1110.1 523.7 1110.8 524.9 1111.4 610.8 1112.1 598.7 1112.8 524.7 1113.4 532.6 1114.1 565.7 1114.8 545.0 1115.4 559.4 1116.1 552.7 1116.8 580.9 1117.4 565.1 1118.1 525.3 1118.8 541.7 1119.4 555.2 1120.1 576.6 1120.8 557.7 1121.4 572.3 1122.1 603.2 1122.8 592.0 1123.4 577.0 1124.1 556.5 1124.8 534.8 1125.4 564.7 1126.1 569.9 1126.8 549.0 1127.4 585.3 1128.1 577.7 1128.8 574.0 1129.4 567.8 1130.1 574.3 1130.8 523.8 1131.4 524.4 1132.1 542.7 1132.7 587.8 1133.4 576.5 1134.1 547.8 1134.7 605.5 1135.4 520.9 1136.1 541.5 1136.7 555.5 1137.4 540.5 1138.1 597.1 1138.7 569.8 1139.4 566.1 1140.1 541.1 1140.7 578.7 1141.4 544.6 1142.1 524.8 1142.7 536.0 1143.4 567.5 1144.1 585.4 1144.7 609.6 1145.4 594.1 1146.1 566.2 1146.7 527.4 1147.4 525.3 1148.1 523.6 1148.7 566.3 1149.4 576.4 1150.1 609.1 1150.7 531.3 1151.4 488.3 1152.1 458.0 1152.7 472.7 1153.4 507.4 1154.1 572.2 1154.7 557.0 1155.4 526.4 1156.1 527.4 1156.7 606.6 1157.4 533.2 1158.1 569.9 1158.7 608.4 1159.4 595.6 1160.1 541.5 1160.7 612.2 1161.4 544.8 1162.1 540.6 1162.7 531.2 1163.4 574.6 1164.1 576.6 1164.7 593.4 1165.4 536.6 1166.1 570.8 1166.7 555.6 1167.4 572.4 1168.1 611.1 1168.7 564.7 1169.4 533.9 1170.1 524.1 1170.7 567.2 1171.4 567.2 1172.1 538.8 1172.7 540.6 1173.4 549.0 1174.1 521.9 1174.7 556.3 1175.4 537.4 1176.1 571.8 1176.7 531.7 1177.4 567.4 1178.1 593.4 1178.7 551.0 1179.4 556.1 1180.1 568.9 1180.7 569.6 1181.4 580.4 1182.1 552.3 1182.7 549.7 1183.4 523.8 1184.1 568.0 1184.7 527.8 1185.4 536.2 1186.1 594.4 1186.7 532.9 1187.4 605.3 1188.1 570.3 1188.7 614.6 1189.4 589.4 1190.1 589.0 1190.7 590.2 1191.4 615.2 1192.1 614.0 1192.7 562.1 1193.4 557.0 1194.1 570.2 1194.7 575.7 1195.4 595.5 1196.1 536.2 1196.7 562.0 1197.4 534.6 1198.1 599.0 1198.7 614.9 1199.4 550.3 1200.1 589.5 1200.7 577.2 1201.4 561.1 1202.1 536.8 1202.7 537.5 1203.4 539.2 1204.1 526.6 1204.7 535.2 1205.4 531.2 1206.1 549.3 1206.7 553.9 1207.4 526.6 1208.1 547.3 1208.7 617.7 1209.4 577.8 1210.1 563.5 1210.7 527.3 1211.4 550.8 1212.1 589.4 1212.7 573.5 1213.4 528.7 1214.1 563.1 1214.7 532.4 1215.4 538.2 1216.1 537.0 1216.7 575.6 1217.4 565.6 1218.1 588.5 1218.7 574.6 1219.4 581.6 1220.1 539.2 1220.7 573.9 1221.4 574.0 1222.1 618.5 1222.7 612.9 1223.4 529.2 1224.1 555.3 1224.7 604.5 1225.4 575.7 1226.1 574.7 1226.7 576.0 1227.4 572.1 1228.1 575.0 1228.7 534.3 1229.4 575.7 1230.1 553.7 1230.7 534.8 1231.4 576.2 1232.1 530.0 1232.7 537.6 1233.4 551.5 1234.1 571.9 1234.7 536.8 1235.4 599.9 1236.1 560.7 1236.7 530.5 1237.4 537.2 1238.1 534.2 1238.7 577.8 1239.4 541.8 1240.1 577.7 1240.7 578.9 1241.4 575.1 1242.1 531.6 1242.7 556.5 1243.4 616.9 1244.1 578.6 1244.7 548.6 1245.4 539.6 1246.1 550.1 1246.7 534.7 1247.4 535.5 1248.1 537.5 1248.7 567.5 1249.4 608.1 1250.1 538.3 1250.7 580.1 1251.4 538.3 1252.1 534.7 1252.7 579.5 1253.4 583.5 1254.1 561.4 1254.7 537.6 1255.4 579.3 1256.1 579.3 1256.7 593.8 1257.4 604.4 1258.1 577.6 1258.7 579.8 1259.4 622.0 1260.1 579.3 1260.7 579.5 1261.4 581.7 1262.1 614.2 1262.7 575.1 1263.4 569.4 1264.0 571.8 1264.7 579.6 1265.4 574.7 1266.0 537.7 1266.7 555.1 1267.4 564.6 1268.0 585.1 1268.7 566.8 1269.4 582.6 1270.0 602.4 1270.7 555.0 1271.4 578.6 1272.0 594.8 1272.7 599.2 1273.4 597.1 1274.0 613.0 1274.7 547.0 1275.4 553.7 1276.0 609.5 1276.7 551.6 1277.4 585.9 1278.0 579.1 1278.7 593.1 1279.4 580.7 1280.0 578.8 1280.7 561.0 1281.4 552.7 1282.0 625.5 1282.7 620.6 1283.4 598.0 1284.0 595.4 1284.7 622.7 1285.4 608.6 1286.0 591.8 1286.7 625.1 1287.4 621.9 1288.0 579.4 1288.7 598.4 1289.4 591.6 1290.0 581.2 1290.7 561.8 1291.4 558.1 1292.0 539.7 1292.7 565.1 1293.4 571.0 1294.0 579.1 1294.7 577.1 1295.4 579.0 1296.0 548.3 1296.7 542.2 1297.4 598.4 1298.0 625.1 1298.7 582.3 1299.4 587.5 1300.0 620.4 1300.7 562.6 1301.4 534.0 1302.0 583.9 1302.7 606.1 1303.4 598.2 1304.0 602.4 1304.7 579.9 1305.4 601.2 1306.0 580.2 1306.7 580.7 1307.4 537.9 1308.0 555.8 1308.7 538.0 1309.4 532.3 1310.0 536.9 1310.7 538.3 1311.4 564.6 1312.0 571.8 1312.7 530.6 1313.4 530.6 1314.0 539.6 1314.7 569.7 1315.4 571.8 1316.0 536.9 1316.7 613.8 1317.4 576.5 1318.0 611.6 1318.7 539.5 1319.4 598.2 1320.0 550.9 1320.7 570.6 1321.4 560.9 1322.0 530.6 1322.7 541.7 1323.4 538.8 1324.0 542.5 1324.7 587.9 1325.4 577.1 1326.0 543.6 1326.7 549.3 1327.4 555.0 1328.0 583.2 1328.7 537.0 1329.4 576.4 1330.0 532.5 1330.7 553.7 1331.4 548.5 1332.0 611.2 1332.7 587.6 1333.4 614.8 1334.0 590.2 1334.7 552.9 1335.4 566.4 1336.0 572.1 1336.7 542.7 1337.4 603.4 1338.0 584.0 1338.7 601.8 1339.4 558.9 1340.0 590.7 1340.7 537.9 1341.4 528.6 1342.0 619.2 1342.7 606.2 1343.4 620.5 1344.0 566.3 1344.7 596.6 1345.4 571.1 1346.0 573.2 1346.7 608.7 1347.4 620.1 1348.0 565.2 1348.7 581.9 1349.4 573.2 1350.0 534.5 1350.7 568.2 1351.4 580.4 1352.0 606.6 1352.7 574.8 1353.4 598.8 1354.0 619.2 1354.7 613.1 1355.4 604.6 1356.0 618.6 1356.7 599.2 1357.4 563.8 1358.0 555.3 1358.7 525.6 1359.4 527.3 1360.0 543.5 1360.7 617.3 1361.4 581.5 1362.0 542.7 1362.7 572.3 1363.4 533.2 1364.0 586.4 1364.7 572.2 1365.4 545.2 1366.0 526.9 1366.7 552.7 1367.4 525.0 1368.0 557.3 1368.7 611.8 1369.4 583.0 1370.0 533.4 1370.7 570.2 1371.4 525.8 1372.0 561.9 1372.7 524.4 1373.4 609.4 1374.0 526.8 1374.7 612.0 1375.4 588.2 1376.0 608.6 1376.7 572.7 1377.4 576.1 1378.0 580.2 1378.7 563.5 1379.4 538.1 1380.0 570.7 1380.7 533.1 1381.4 611.0 1382.0 613.0 1382.7 616.3 1383.4 574.3 1384.0 540.6 1384.7 525.5 1385.4 503.1 1386.0 480.0 1386.7 493.9 1387.4 509.5 1388.0 584.3 1388.7 586.1 1389.4 593.4 1390.0 583.7 1390.7 569.3 1391.4 616.6 1392.0 612.2 1392.7 570.4 1393.4 602.7 1394.0 553.2 1394.7 531.6 1395.4 593.9 1396.0 611.7 1396.7 568.8 1397.3 616.1 1398.0 616.6 1398.7 616.8 1399.3 611.8 1400.0 578.9 1400.7 569.8 1401.3 571.2 1402.0 615.6 1402.7 564.4 1403.3 573.6 1404.0 593.6 1404.7 530.3 1405.3 554.5 1406.0 561.4 1406.7 545.0 1407.3 524.5 1408.0 569.6 1408.7 561.0 1409.3 617.6 1410.0 617.3 1410.7 539.4 1411.3 524.5 1412.0 564.0 1412.7 605.5 1413.3 617.3 1414.0 617.8 1414.7 548.7 1415.3 510.8 1416.0 484.0 1416.7 499.7 1417.3 543.2 1418.0 617.4 1418.7 617.5 1419.3 613.9 1420.0 599.8 1420.7 572.7 1421.3 617.3 1422.0 608.7 1422.7 580.2 1423.3 571.3 1424.0 544.5 1424.7 571.1 1425.3 531.8 1426.0 523.4 1426.7 529.0 1427.3 525.1 1428.0 526.5 1428.7 533.1 1429.3 562.7 1430.0 564.5 1430.7 526.0 1431.3 555.5 1432.0 593.7 1432.7 608.1 1433.3 572.4 1434.0 599.7 1434.7 567.7 1435.3 549.8 1436.0 569.8 1436.7 529.2 1437.3 601.8 1438.0 601.7 1438.7 589.9 1439.3 572.8 1440.0 614.8 1440.7 614.1 1441.3 552.5 1442.0 581.6 1442.7 557.2 1443.3 578.2 1444.0 594.6 1444.7 572.0 1445.3 534.4 1446.0 567.9 1446.7 611.9 1447.3 613.2 1448.0 603.4 1448.7 588.0 1449.3 611.7 1450.0 572.4 1450.7 605.4 1451.3 557.2 1452.0 596.1 1452.7 611.2 1453.3 563.9 1454.0 548.8 1454.7 575.2 1455.3 588.9 1456.0 585.8 1456.7 573.9 1457.3 569.0 1458.0 538.4 1458.7 577.6 1459.3 577.4 1460.0 573.8 1460.7 612.1 1461.3 550.3 1462.0 528.2 1462.7 548.0 1463.3 611.5 1464.0 600.2" stroke="#EF8229" stroke-opacity="0.2"/>
<path d="M131.5 853.7L131.7 677.2 132.3 640.5 133.0 639.2 133.7 609.2 134.3 616.9 135.0 603.3 135.7 612.8 136.3 638.9 137.0 617.9 137.7 611.2 138.3 623.9 139.0 636.1 139.7 608.5 140.3 603.5 141.0 629.4 141.7 636.4 142.3 666.7 143.0 603.7 143.7 629.2 144.3 601.9 145.0 607.2 145.7 595.8 146.3 595.2 147.0 599.5 147.7 594.9 148.3 630.9 149.0 597.9 149.7 639.8 150.3 613.9 151.0 594.7 151.7 597.1 152.3 611.5 153.0 628.7 153.7 627.0 154.3 593.0 155.0 591.3 155.7 602.6 156.3 633.0 157.0 600.1 157.7 634.3 158.3 624.7 159.0 623.7 159.7 590.5 160.3 589.8 161.0 588.4 161.7 590.3 162.3 610.6 163.0 591.4 163.7 585.0 164.3 590.9 165.0 586.8 165.7 596.9 166.3 584.8 167.0 584.4 167.7 583.6 168.3 586.1 169.0 581.2 169.7 591.4 170.3 605.7 171.0 616.3 171.7 587.1 172.3 607.2 173.0 615.6 173.7 585.2 174.3 578.6 175.0 579.6 175.7 647.5 176.3 640.2 177.0 638.7 177.7 643.1 178.3 629.1 179.0 577.6 179.7 599.4 180.3 617.6 181.0 603.8 181.7 607.5 182.3 610.1 183.0 619.7 183.7 610.8 184.3 598.1 185.0 642.7 185.7 644.2 186.3 598.0 187.0 580.3 187.7 607.9 188.3 627.2 189.0 610.0 189.7 626.8 190.3 614.3 191.0 573.4 191.7 584.8 192.3 572.6 193.0 592.9 193.7 587.8 194.3 571.1 195.0 614.0 195.7 610.2 196.3 604.5 197.0 598.3 197.6 567.8 198.3 569.5 199.0 614.5 199.6 604.6 200.3 620.1 201.0 623.1 201.6 567.5 202.3 607.2 203.0 599.9 203.6 605.8 204.3 578.9 205.0 576.2 205.6 589.3 206.3 597.9 207.0 571.2 207.6 605.3 208.3 608.1 209.0 620.2 209.6 573.2 210.3 590.1 211.0 613.0 211.6 608.2 212.3 564.0 213.0 578.5 213.6 570.9 214.3 571.6 215.0 583.0 215.6 601.1 216.3 600.7 217.0 599.7 217.6 635.0 218.3 564.3 219.0 564.7 219.6 572.9 220.3 589.4 221.0 600.1 221.6 570.3 222.3 580.2 223.0 568.5 223.6 607.2 224.3 581.9 225.0 561.7 225.6 570.9 226.3 565.0 227.0 572.6 227.6 563.9 228.3 563.3 229.0 571.9 229.6 597.4 230.3 581.8 231.0 582.2 231.6 599.2 232.3 583.0 233.0 573.7 233.6 600.8 234.3 597.1 235.0 560.3 235.6 560.8 236.3 566.7 237.0 560.2 237.6 574.7 238.3 632.7 239.0 633.3 239.6 633.0 240.3 597.7 241.0 568.1 241.6 630.3 242.3 581.9 243.0 608.7 243.6 596.4 244.3 579.1 245.0 577.3 245.6 592.8 246.3 586.7 247.0 617.0 247.6 598.8 248.3 577.1 249.0 571.2 249.6 559.6 250.3 561.1 251.0 564.1 251.6 560.3 252.3 569.6 253.0 611.5 253.6 632.4 254.3 584.3 255.0 575.6 255.6 573.2 256.3 598.2 257.0 596.0 257.6 562.6 258.3 575.0 259.0 612.7 259.6 615.4 260.3 567.9 261.0 604.6 261.6 632.4 262.3 632.5 263.0 632.3 263.6 594.9 264.3 591.1 265.0 604.0 265.6 622.9 266.3 600.5 267.0 597.2 267.6 603.5 268.3 598.3 269.0 607.4 269.6 559.5 270.3 630.4 271.0 604.9 271.6 626.7 272.3 594.3 273.0 598.0 273.6 593.7 274.3 581.7 275.0 590.7 275.6 568.9 276.3 622.4 277.0 581.8 277.6 596.6 278.3 593.5 279.0 560.2 279.6 560.0 280.3 555.0 281.0 627.7 281.6 627.9 282.3 585.3 283.0 620.6 283.6 605.2 284.3 558.2 285.0 559.9 285.6 600.9 286.3 586.1 287.0 566.2 287.6 576.5 288.3 578.2 289.0 575.6 289.6 607.7 290.3 590.9 291.0 600.9 291.6 581.0 292.3 564.8 293.0 592.4 293.6 570.6 294.3 576.0 295.0 579.6 295.6 561.7 296.3 589.6 297.0 593.6 297.6 590.1 298.3 588.9 299.0 556.0 299.6 626.8 300.3 608.8 301.0 628.2 301.6 621.0 302.3 589.4 303.0 587.5 303.6 558.4 304.3 570.6 305.0 627.8 305.6 627.1 306.3 559.6 307.0 547.0 307.6 559.3 308.3 614.3 309.0 548.7 309.6 621.2 310.3 589.1 311.0 586.7 311.6 582.1 312.3 612.4 313.0 605.9 313.6 571.6 314.3 591.5 315.0 624.0 315.6 601.1 316.3 593.3 317.0 603.2 317.6 620.0 318.3 590.8 319.0 594.5 319.6 622.4 320.3 597.4 321.0 591.1 321.6 587.5 322.3 623.9 323.0 617.3 323.6 583.3 324.3 558.5 325.0 566.2 325.6 579.7 326.3 562.5 327.0 548.0 327.6 541.5 328.3 552.3 329.0 585.2 329.6 576.3 330.3 622.8 330.9 597.8 331.6 598.4 332.3 584.0 332.9 566.3 333.6 575.9 334.3 614.2 334.9 600.8 335.6 611.2 336.3 586.9 336.9 574.7 337.6 596.3 338.3 562.1 338.9 542.6 339.6 571.1 340.3 550.8 340.9 598.0 341.6 590.0 342.3 550.1 342.9 611.0 343.6 592.1 344.3 600.1 344.9 548.7 345.6 540.5 346.3 577.8 346.9 568.2 347.6 622.8 348.3 573.1 348.9 561.1 349.6 542.1 350.3 620.1 350.9 580.4 351.6 581.4 352.3 623.7 352.9 606.2 353.6 582.6 354.3 549.4 354.9 552.9 355.6 581.3 356.3 556.7 356.9 567.1 357.6 584.7 358.3 595.0 358.9 574.3 359.6 562.6 360.3 540.1 360.9 559.7 361.6 540.9 362.3 548.4 362.9 542.8 363.6 583.1 364.3 595.3 364.9 586.7 365.6 554.8 366.3 560.4 366.9 550.2 367.6 557.7 368.3 547.1 368.9 560.3 369.6 587.6 370.3 573.7 370.9 581.5 371.6 544.2 372.3 583.5 372.9 584.5 373.6 594.9 374.3 568.5 374.9 561.5 375.6 566.0 376.3 615.2 376.9 628.0 377.6 601.2 378.3 583.7 378.9 549.6 379.6 626.3 380.3 607.0 380.9 629.7 381.6 629.0 382.3 614.7 382.9 574.9 383.6 590.9 384.3 598.5 384.9 597.1 385.6 553.6 386.3 544.1 386.9 599.0 387.6 599.2 388.3 603.6 388.9 563.4 389.6 567.6 390.3 548.9 390.9 596.3 391.6 591.4 392.3 602.3 392.9 621.8 393.6 599.2 394.3 624.6 394.9 549.1 395.6 556.3 396.3 599.5 396.9 606.8 397.6 551.8 398.3 591.0 398.9 569.6 399.6 560.6 400.3 550.9 400.9 552.1 401.6 575.7 402.3 597.4 402.9 634.2 403.6 602.2 404.3 592.0 404.9 595.2 405.6 595.0 406.3 623.5 406.9 550.6 407.6 591.1 408.3 611.9 408.9 612.8 409.6 602.0 410.3 579.2 410.9 636.9 411.6 597.1 412.3 605.3 412.9 596.6 413.6 559.1 414.3 555.5 414.9 592.8 415.6 587.0 416.3 550.0 416.9 549.0 417.6 550.1 418.3 562.5 418.9 554.6 419.6 565.2 420.3 595.4 420.9 620.9 421.6 593.8 422.3 589.1 422.9 562.4 423.6 596.6 424.3 560.3 424.9 595.5 425.6 561.0 426.3 566.8 426.9 599.7 427.6 621.3 428.3 604.8 428.9 597.7 429.6 568.9 430.3 599.0 430.9 628.4 431.6 599.7 432.3 550.5 432.9 549.0 433.6 571.9 434.3 580.2 434.9 567.1 435.6 594.4 436.3 594.3 436.9 594.8 437.6 615.8 438.3 612.7 438.9 611.9 439.6 595.1 440.3 622.8 440.9 595.8 441.6 612.9 442.3 617.0 442.9 629.5 443.6 549.1 444.3 549.5 444.9 550.1 445.6 551.2 446.3 566.9 446.9 570.9 447.6 564.5 448.3 558.0 448.9 557.4 449.6 550.1 450.3 638.1 450.9 612.2 451.6 565.7 452.3 582.5 452.9 583.7 453.6 551.0 454.3 557.1 454.9 549.0 455.6 556.9 456.3 557.8 456.9 594.8 457.6 635.3 458.3 600.5 458.9 585.7 459.6 594.5 460.3 612.2 460.9 565.9 461.6 568.8 462.3 573.0 462.9 595.1 463.6 549.1 464.2 548.1 464.9 550.3 465.6 561.4 466.2 559.9 466.9 548.2 467.6 547.5 468.2 550.1 468.9 570.0 469.6 620.8 470.2 547.8 470.9 582.6 471.6 551.9 472.2 551.2 472.9 548.1 473.6 578.4 474.2 618.1 474.9 588.6 475.6 560.7 476.2 549.2 476.9 602.3 477.6 594.9 478.2 593.4 478.9 619.4 479.6 595.3 480.2 559.8 480.9 568.7 481.6 611.6 482.2 580.8 482.9 552.8 483.6 552.8 484.2 551.7 484.9 605.5 485.6 566.7 486.2 554.1 486.9 581.3 487.6 584.2 488.2 596.6 488.9 552.3 489.6 576.2 490.2 599.5 490.9 584.7 491.6 578.5 492.2 555.9 492.9 593.3 493.6 595.8 494.2 566.5 494.9 545.9 495.6 547.4 496.2 594.7 496.9 573.8 497.6 592.8 498.2 627.2 498.9 598.8 499.6 593.9 500.2 564.3 500.9 547.3 501.6 546.7 502.2 547.8 502.9 573.2 503.6 577.3 504.2 581.1 504.9 549.0 505.6 592.7 506.2 602.3 506.9 551.9 507.6 555.5 508.2 590.6 508.9 578.5 509.6 572.5 510.2 570.3 510.9 557.0 511.6 561.4 512.2 579.7 512.9 596.5 513.6 637.0 514.2 610.2 514.9 560.8 515.6 563.9 516.2 595.7 516.9 597.7 517.6 617.7 518.2 593.7 518.9 547.0 519.6 546.1 520.2 548.0 520.9 555.1 521.6 593.8 522.2 633.3 522.9 610.4 523.6 616.8 524.2 586.5 524.9 591.5 525.6 608.7 526.2 592.9 526.9 545.2 527.6 592.8 528.2 556.8 528.9 558.5 529.6 583.0 530.2 602.7 530.9 593.6 531.6 580.3 532.2 555.3 532.9 553.6 533.6 558.8 534.2 593.4 534.9 571.4 535.6 593.3 536.2 616.9 536.9 568.0 537.6 594.4 538.2 623.6 538.9 593.4 539.6 637.4 540.2 599.5 540.9 573.3 541.6 593.1 542.2 578.5 542.9 545.1 543.6 544.9 544.2 545.7 544.9 547.8 545.6 579.9 546.2 584.3 546.9 587.2 547.6 571.5 548.2 566.8 548.9 594.5 549.6 547.0 550.2 594.0 550.9 568.8 551.6 549.8 552.2 559.8 552.9 594.9 553.6 593.0 554.2 546.7 554.9 552.3 555.6 589.6 556.2 571.8 556.9 597.9 557.6 640.5 558.2 615.2 558.9 571.7 559.6 554.1 560.2 592.1 560.9 635.5 561.6 570.2 562.2 592.7 562.9 574.9 563.6 561.7 564.2 583.4 564.9 597.1 565.6 617.1 566.2 618.3 566.9 598.7 567.6 610.5 568.2 593.5 568.9 639.7 569.6 638.5 570.2 614.3 570.9 624.7 571.6 618.1 572.2 635.7 572.9 588.2 573.6 545.7 574.2 599.3 574.9 561.3 575.6 626.8 576.2 598.2 576.9 639.8 577.6 598.8 578.2 593.8 578.9 591.6 579.6 555.8 580.2 568.9 580.9 590.5 581.6 613.2 582.2 595.0 582.9 611.5 583.6 603.5 584.2 549.9 584.9 547.0 585.6 559.2 586.2 556.0 586.9 615.8 587.6 590.9 588.2 631.1 588.9 617.8 589.6 585.2 590.2 569.0 590.9 558.3 591.6 567.5 592.2 578.3 592.9 589.6 593.6 547.7 594.2 543.3 594.9 609.2 595.6 591.3 596.2 548.6 596.9 583.7 597.5 588.4 598.2 599.8 598.9 631.1 599.5 597.9 600.2 613.5 600.9 619.5 601.5 638.5 602.2 638.7 602.9 630.2 603.5 628.0 604.2 591.9 604.9 626.9 605.5 588.0 606.2 577.6 606.9 589.7 607.5 577.2 608.2 589.2 608.9 591.6 609.5 591.5 610.2 632.7 610.9 606.0 611.5 577.6 612.2 632.3 612.9 587.6 613.5 601.5 614.2 604.5 614.9 594.3 615.5 588.6 616.2 548.3 616.9 586.8 617.5 541.2 618.2 570.8 618.9 563.5 619.5 554.9 620.2 593.5 620.9 626.5 621.5 594.9 622.2 570.9 622.9 548.1 623.5 585.5 624.2 537.9 624.9 572.1 625.5 593.7 626.2 549.4 626.9 540.5 627.5 599.9 628.2 573.7 628.9 617.3 629.5 589.1 630.2 535.0 630.9 535.3 631.5 538.8 632.2 541.1 632.9 585.4 633.5 571.8 634.2 559.9 634.9 601.2 635.5 572.2 636.2 555.9 636.9 553.5 637.5 544.5 638.2 563.2 638.9 591.5 639.5 573.7 640.2 621.5 640.9 602.2 641.5 547.2 642.2 531.4 642.9 533.4 643.5 621.3 644.2 538.1 644.9 537.1 645.5 551.3 646.2 538.1 646.9 539.4 647.5 584.1 648.2 609.3 648.9 544.1 649.5 623.9 650.2 557.1 650.9 545.7 651.5 532.3 652.2 528.9 652.9 528.9 653.5 528.6 654.2 529.5 654.9 532.2 655.5 529.3 656.2 541.4 656.9 580.2 657.5 572.2 658.2 616.8 658.9 596.3 659.5 529.9 660.2 536.1 660.9 558.5 661.5 582.0 662.2 624.3 662.9 600.9 663.5 602.4 664.2 579.6 664.9 573.8 665.5 573.3 666.2 624.7 666.9 541.6 667.5 540.9 668.2 561.5 668.9 579.1 669.5 560.8 670.2 531.3 670.9 541.2 671.5 598.8 672.2 619.1 672.9 628.1 673.5 594.4 674.2 554.6 674.9 533.0 675.5 550.6 676.2 536.9 676.9 581.7 677.5 557.7 678.2 570.3 678.9 584.7 679.5 622.0 680.2 544.5 680.9 625.8 681.5 577.3 682.2 596.1 682.9 559.2 683.5 577.3 684.2 544.5 684.9 569.7 685.5 597.0 686.2 593.5 686.9 624.3 687.5 576.7 688.2 536.2 688.9 535.4 689.5 552.0 690.2 527.6 690.9 581.6 691.5 550.4 692.2 558.5 692.9 578.6 693.5 555.5 694.2 591.9 694.9 575.8 695.5 552.9 696.2 589.4 696.9 576.6 697.5 546.7 698.2 529.4 698.9 574.8 699.5 532.3 700.2 555.6 700.9 550.0 701.5 573.8 702.2 538.9 702.9 575.4 703.5 561.9 704.2 550.6 704.9 534.0 705.5 579.2 706.2 544.3 706.9 557.2 707.5 523.2 708.2 557.0 708.9 575.4 709.5 573.2 710.2 573.8 710.9 569.5 711.5 597.3 712.2 624.3 712.9 622.5 713.5 587.4 714.2 563.8 714.9 574.1 715.5 594.6 716.2 577.2 716.9 563.2 717.5 520.9 718.2 521.3 718.9 530.3 719.5 588.5 720.2 574.7 720.9 574.5 721.5 539.8 722.2 521.3 722.9 528.3 723.5 596.6 724.2 574.9 724.9 610.7 725.5 534.5 726.2 522.8 726.9 525.9 727.5 581.9 728.2 570.1 728.9 525.9 729.5 574.8 730.2 581.5 730.9 567.5 731.5 542.5 732.2 555.3 732.8 551.6 733.5 561.4 734.2 582.4 734.8 576.7 735.5 566.3 736.2 612.4 736.8 580.7 737.5 578.2 738.2 570.9 738.8 574.1 739.5 607.1 740.2 621.2 740.8 577.2 741.5 575.0 742.2 563.8 742.8 578.8 743.5 618.0 744.2 578.6 744.8 578.9 745.5 549.0 746.2 531.5 746.8 527.8 747.5 527.2 748.2 579.6 748.8 627.6 749.5 610.0 750.2 621.7 750.8 625.1 751.5 573.3 752.2 613.9 752.8 543.2 753.5 526.6 754.2 522.6 754.8 523.5 755.5 522.8 756.2 549.6 756.8 583.1 757.5 538.8 758.2 599.3 758.8 542.8 759.5 577.3 760.2 628.1 760.8 533.6 761.5 589.7 762.2 524.0 762.8 583.2 763.5 597.3 764.2 576.4 764.8 576.4 765.5 621.3 766.2 583.3 766.8 576.6 767.5 558.8 768.2 616.8 768.8 608.4 769.5 580.8 770.2 546.1 770.8 558.3 771.5 577.5 772.2 584.0 772.8 535.8 773.5 583.5 774.2 566.8 774.8 630.0 775.5 541.1 776.2 548.4 776.8 624.0 777.5 573.6 778.2 532.4 778.8 535.2 779.5 554.7 780.2 537.5 780.8 581.2 781.5 582.9 782.2 588.3 782.8 580.6 783.5 612.8 784.2 544.1 784.8 575.7 785.5 597.2 786.2 589.0 786.8 572.5 787.5 576.4 788.2 539.1 788.8 578.7 789.5 602.6 790.2 579.0 790.8 538.5 791.5 590.1 792.2 629.7 792.8 618.5 793.5 592.5 794.2 621.6 794.8 591.7 795.5 618.1 796.2 569.2 796.8 622.7 797.5 630.5 798.2 604.1 798.8 579.8 799.5 566.2 800.2 605.4 800.8 596.6 801.5 581.0 802.2 542.4 802.8 608.3 803.5 628.8 804.2 590.8 804.8 601.6 805.5 549.5 806.2 579.6 806.8 580.2 807.5 615.2 808.2 588.6 808.8 545.5 809.5 579.5 810.2 612.7 810.8 559.0 811.5 579.2 812.2 572.5 812.8 589.1 813.5 545.7 814.2 582.8 814.8 585.6 815.5 579.4 816.2 581.3 816.8 632.4 817.5 581.4 818.2 614.6 818.8 579.5 819.5 580.7 820.2 576.0 820.8 583.1 821.5 598.9 822.2 576.3 822.8 555.6 823.5 530.6 824.2 531.6 824.8 578.3 825.5 530.1 826.2 524.2 826.8 525.6 827.5 545.3 828.2 591.1 828.8 578.0 829.5 621.4 830.2 563.7 830.8 576.1 831.5 581.7 832.2 570.1 832.8 602.6 833.5 629.8 834.2 604.4 834.8 544.3 835.5 590.2 836.2 545.6 836.8 623.5 837.5 590.6 838.2 567.2 838.8 526.1 839.5 604.3 840.2 580.5 840.8 596.1 841.5 577.2 842.2 586.0 842.8 579.9 843.5 594.9 844.2 599.3 844.8 577.2 845.5 527.6 846.2 539.5 846.8 554.0 847.5 579.2 848.2 528.7 848.8 615.2 849.5 629.9 850.2 617.8 850.8 564.9 851.5 529.4 852.2 530.7 852.8 528.3 853.5 537.1 854.2 575.1 854.8 598.2 855.5 555.8 856.2 584.1 856.8 555.0 857.5 535.9 858.2 577.4 858.8 580.4 859.5 582.5 860.2 539.4 860.8 543.4 861.5 578.3 862.2 556.0 862.8 524.5 863.5 533.5 864.1 542.3 864.8 573.3 865.5 588.0 866.1 575.7 866.8 560.3 867.5 571.5 868.1 528.1 868.8 550.2 869.5 562.3 870.1 559.0 870.8 542.4 871.5 612.4 872.1 568.9 872.8 525.7 873.5 578.0 874.1 557.7 874.8 575.4 875.5 605.5 876.1 577.0 876.8 575.9 877.5 627.1 878.1 615.7 878.8 559.2 879.5 576.1 880.1 589.5 880.8 579.7 881.5 582.1 882.1 550.9 882.8 579.5 883.5 606.6 884.1 571.1 884.8 534.0 885.5 529.9 886.1 524.4 886.8 570.2 887.5 609.1 888.1 592.7 888.8 570.4 889.5 617.4 890.1 585.2 890.8 551.9 891.5 578.6 892.1 517.3 892.8 519.9 893.5 580.4 894.1 608.7 894.8 601.7 895.5 555.3 896.1 542.1 896.8 570.3 897.5 565.7 898.1 527.9 898.8 531.7 899.5 606.7 900.1 614.7 900.8 613.3 901.5 618.2 902.1 564.1 902.8 589.7 903.5 597.6 904.1 610.3 904.8 567.2 905.5 555.1 906.1 531.1 906.8 509.8 907.5 568.2 908.1 507.9 908.8 502.1 909.5 540.3 910.1 559.8 910.8 534.3 911.5 504.9 912.1 549.3 912.8 587.5 913.5 504.6 914.1 556.7 914.8 610.1 915.5 574.9 916.1 524.0 916.8 498.1 917.5 494.8 918.1 492.9 918.8 526.2 919.5 579.3 920.1 602.5 920.8 502.5 921.5 546.0 922.1 597.2 922.8 604.4 923.5 557.8 924.1 560.4 924.8 545.0 925.5 557.1 926.1 571.4 926.8 536.1 927.5 544.4 928.1 518.5 928.8 536.7 929.5 486.4 930.1 447.2 930.8 428.0 931.5 442.7 932.1 465.7 932.8 540.7 933.5 539.7 934.1 531.7 934.8 503.4 935.5 523.2 936.1 519.6 936.8 513.4 937.5 537.5 938.1 506.8 938.8 545.9 939.5 593.2 940.1 538.5 940.8 593.6 941.5 554.5 942.1 486.8 942.8 485.7 943.5 545.7 944.1 499.0 944.8 503.3 945.5 541.5 946.1 534.6 946.8 534.4 947.5 533.9 948.1 518.9 948.8 572.8 949.5 504.4 950.1 473.2 950.8 487.1 951.5 533.3 952.1 532.2 952.8 476.7 953.5 468.0 954.1 442.6 954.8 433.0 955.5 441.2 956.1 459.5 956.8 523.9 957.5 476.9 958.1 447.2 958.8 434.0 959.5 442.1 960.1 456.0 960.8 472.7 961.5 473.7 962.1 477.0 962.8 470.3 963.5 480.1 964.1 474.2 964.8 502.9 965.5 470.7 966.1 486.7 966.8 471.0 967.5 490.0 968.1 482.3 968.8 530.4 969.5 536.0 970.1 544.2 970.8 501.0 971.5 485.2 972.1 476.2 972.8 483.3 973.5 507.8 974.1 484.8 974.8 472.4 975.5 509.2 976.1 540.2 976.8 503.2 977.5 471.7 978.1 492.4 978.8 529.4 979.5 557.4 980.1 554.4 980.8 558.8 981.5 559.4 982.1 486.3 982.8 474.1 983.5 489.0 984.1 497.4 984.8 480.5 985.5 496.2 986.1 504.8 986.8 492.6 987.5 518.2 988.1 480.5 988.8 472.6 989.5 487.0 990.1 505.1 990.8 542.9 991.5 539.4 992.1 527.3 992.8 500.7 993.5 521.9 994.1 553.6 994.8 509.5 995.5 535.7 996.1 502.5 996.8 463.4 997.4 427.6 998.1 403.0 998.8 431.1 999.4 446.4 1000.1 542.6 1000.8 526.2 1001.4 496.9 1002.1 535.1 1002.8 573.1 1003.4 519.3 1004.1 552.3 1004.8 536.3 1005.4 503.3 1006.1 536.1 1006.8 586.6 1007.4 565.3 1008.1 523.9 1008.8 545.5 1009.4 494.3 1010.1 552.7 1010.8 556.0 1011.4 589.8 1012.1 568.7 1012.8 480.8 1013.4 481.8 1014.1 501.2 1014.8 534.9 1015.4 452.3 1016.1 438.3 1016.8 425.0 1017.4 432.8 1018.1 474.2 1018.8 499.9 1019.4 482.6 1020.1 476.6 1020.8 474.1 1021.4 474.9 1022.1 499.6 1022.8 478.4 1023.4 483.9 1024.1 536.3 1024.8 544.5 1025.4 544.5 1026.1 590.1 1026.8 519.7 1027.4 486.7 1028.1 481.5 1028.8 526.1 1029.4 519.4 1030.1 477.3 1030.8 481.3 1031.4 499.3 1032.1 533.9 1032.8 532.5 1033.4 460.1 1034.1 451.1 1034.8 440.0 1035.4 444.8 1036.1 455.1 1036.8 542.5 1037.4 532.0 1038.1 475.5 1038.8 504.4 1039.4 535.5 1040.1 522.6 1040.8 471.8 1041.4 491.5 1042.1 578.6 1042.8 532.6 1043.4 508.7 1044.1 481.6 1044.8 490.6 1045.4 493.9 1046.1 532.6 1046.8 485.9 1047.4 508.4 1048.1 501.9 1048.8 540.0 1049.4 485.0 1050.1 499.7 1050.8 533.6 1051.4 530.1 1052.1 566.7 1052.8 565.5 1053.4 514.9 1054.1 503.7 1054.8 488.3 1055.4 485.8 1056.1 523.6 1056.8 516.6 1057.4 476.4 1058.1 496.3 1058.8 569.2 1059.4 535.3 1060.1 537.0 1060.8 535.3 1061.4 527.2 1062.1 552.8 1062.8 527.8 1063.4 487.0 1064.1 450.4 1064.8 438.0 1065.4 457.5 1066.1 488.2 1066.8 484.4 1067.4 581.3 1068.1 509.7 1068.8 529.9 1069.4 489.8 1070.1 540.9 1070.8 537.7 1071.4 531.7 1072.1 480.6 1072.8 512.5 1073.4 509.3 1074.1 550.2 1074.8 538.5 1075.4 557.3 1076.1 543.3 1076.8 528.5 1077.4 506.2 1078.1 553.8 1078.8 571.1 1079.4 500.1 1080.1 541.2 1080.8 529.9 1081.4 541.8 1082.1 592.7 1082.8 545.4 1083.4 542.3 1084.1 485.0 1084.8 563.4 1085.4 551.5 1086.1 509.0 1086.8 543.2 1087.4 599.3 1088.1 543.0 1088.8 529.1 1089.4 549.0 1090.1 560.9 1090.8 562.4 1091.4 538.3 1092.1 544.3 1092.8 556.7 1093.4 528.8 1094.1 499.2 1094.8 546.1 1095.4 490.4 1096.1 502.3 1096.8 500.5 1097.4 504.1 1098.1 504.0 1098.8 512.9 1099.4 600.6 1100.1 588.0 1100.8 508.7 1101.4 554.9 1102.1 534.6 1102.8 576.5 1103.4 557.4 1104.1 495.6 1104.8 504.3 1105.4 550.5 1106.1 555.4 1106.8 601.3 1107.4 544.4 1108.1 549.0 1108.8 510.2 1109.4 499.8 1110.1 533.4 1110.8 565.5 1111.4 593.9 1112.1 574.7 1112.8 552.7 1113.4 502.0 1114.1 556.2 1114.8 535.0 1115.4 569.9 1116.1 572.5 1116.8 529.7 1117.4 519.4 1118.1 551.6 1118.8 561.4 1119.4 507.5 1120.1 537.5 1120.8 549.3 1121.4 571.5 1122.1 491.8 1122.8 491.4 1123.4 495.5 1124.1 491.2 1124.8 495.4 1125.4 534.2 1126.1 511.4 1126.8 493.4 1127.4 549.1 1128.1 497.9 1128.8 494.7 1129.4 492.0 1130.1 497.1 1130.8 495.8 1131.4 574.5 1132.1 556.3 1132.7 507.2 1133.4 509.0 1134.1 511.1 1134.7 566.4 1135.4 552.6 1136.1 600.4 1136.7 567.7 1137.4 548.1 1138.1 554.6 1138.7 529.6 1139.4 547.1 1140.1 510.9 1140.7 545.2 1141.4 598.7 1142.1 601.4 1142.7 579.0 1143.4 551.1 1144.1 538.0 1144.7 555.4 1145.4 548.6 1146.1 554.7 1146.7 514.6 1147.4 569.6 1148.1 506.9 1148.7 509.7 1149.4 539.7 1150.1 566.4 1150.7 528.8 1151.4 552.1 1152.1 518.9 1152.7 493.6 1153.4 503.8 1154.1 512.9 1154.7 503.6 1155.4 536.4 1156.1 492.8 1156.7 504.2 1157.4 498.1 1158.1 501.2 1158.7 524.6 1159.4 493.8 1160.1 496.4 1160.7 520.6 1161.4 544.9 1162.1 589.3 1162.7 580.1 1163.4 512.9 1164.1 499.9 1164.7 549.8 1165.4 506.1 1166.1 496.6 1166.7 496.1 1167.4 494.3 1168.1 565.7 1168.7 533.7 1169.4 560.2 1170.1 511.7 1170.7 549.8 1171.4 524.0 1172.1 499.8 1172.7 564.6 1173.4 554.4 1174.1 555.2 1174.7 542.6 1175.4 587.5 1176.1 524.5 1176.7 495.1 1177.4 518.7 1178.1 509.0 1178.7 605.4 1179.4 603.3 1180.1 543.7 1180.7 531.6 1181.4 507.3 1182.1 498.1 1182.7 515.4 1183.4 550.8 1184.1 555.8 1184.7 543.9 1185.4 605.0 1186.1 518.9 1186.7 604.5 1187.4 606.9 1188.1 563.5 1188.7 520.8 1189.4 519.9 1190.1 501.3 1190.7 552.6 1191.4 570.3 1192.1 538.7 1192.7 579.0 1193.4 554.3 1194.1 540.8 1194.7 532.7 1195.4 605.3 1196.1 567.1 1196.7 609.3 1197.4 545.5 1198.1 558.8 1198.7 520.3 1199.4 505.4 1200.1 580.3 1200.7 527.0 1201.4 539.5 1202.1 505.5 1202.7 569.7 1203.4 598.0 1204.1 588.2 1204.7 609.4 1205.4 562.6 1206.1 575.4 1206.7 556.6 1207.4 551.1 1208.1 518.4 1208.7 584.4 1209.4 538.9 1210.1 515.6 1210.7 561.6 1211.4 564.8 1212.1 602.3 1212.7 528.2 1213.4 506.7 1214.1 562.2 1214.7 561.0 1215.4 548.2 1216.1 529.5 1216.7 557.7 1217.4 507.6 1218.1 560.2 1218.7 523.9 1219.4 547.3 1220.1 545.3 1220.7 577.6 1221.4 613.1 1222.1 603.2 1222.7 559.5 1223.4 583.0 1224.1 612.5 1224.7 578.2 1225.4 561.2 1226.1 591.8 1226.7 570.4 1227.4 557.1 1228.1 545.7 1228.7 522.7 1229.4 512.5 1230.1 559.6 1230.7 591.2 1231.4 614.5 1232.1 564.3 1232.7 560.9 1233.4 536.7 1234.1 581.4 1234.7 566.9 1235.4 597.4 1236.1 610.1 1236.7 614.3 1237.4 595.0 1238.1 560.3 1238.7 521.2 1239.4 530.9 1240.1 556.4 1240.7 508.0 1241.4 507.7 1242.1 509.6 1242.7 520.7 1243.4 511.2 1244.1 562.8 1244.7 601.8 1245.4 548.8 1246.1 551.4 1246.7 520.4 1247.4 571.1 1248.1 557.1 1248.7 584.6 1249.4 568.2 1250.1 536.6 1250.7 543.9 1251.4 567.2 1252.1 593.4 1252.7 566.5 1253.4 571.8 1254.1 587.2 1254.7 545.5 1255.4 567.5 1256.1 517.0 1256.7 509.8 1257.4 510.3 1258.1 509.4 1258.7 537.9 1259.4 596.1 1260.1 565.5 1260.7 609.5 1261.4 564.8 1262.1 523.2 1262.7 517.9 1263.4 515.9 1264.0 552.1 1264.7 557.0 1265.4 545.5 1266.0 554.7 1266.7 523.7 1267.4 564.2 1268.0 562.7 1268.7 575.7 1269.4 534.8 1270.0 546.6 1270.7 549.2 1271.4 571.2 1272.0 616.8 1272.7 597.4 1273.4 618.2 1274.0 600.0 1274.7 616.0 1275.4 549.0 1276.0 581.0 1276.7 572.3 1277.4 589.7 1278.0 614.8 1278.7 618.3 1279.4 618.6 1280.0 618.1 1280.7 618.5 1281.4 572.8 1282.0 615.9 1282.7 615.1 1283.4 593.3 1284.0 589.7 1284.7 549.9 1285.4 578.5 1286.0 606.1 1286.7 599.1 1287.4 538.6 1288.0 550.1 1288.7 617.5 1289.4 596.4 1290.0 612.1 1290.7 580.7 1291.4 565.6 1292.0 567.3 1292.7 551.7 1293.4 517.0 1294.0 600.5 1294.7 576.5 1295.4 568.1 1296.0 551.9 1296.7 524.5 1297.4 494.5 1298.0 486.0 1298.7 494.9 1299.4 538.8 1300.0 569.1 1300.7 602.6 1301.4 566.9 1302.0 519.5 1302.7 544.4 1303.4 546.4 1304.0 537.5 1304.7 519.0 1305.4 524.2 1306.0 520.1 1306.7 568.2 1307.4 568.1 1308.0 612.9 1308.7 522.5 1309.4 585.1 1310.0 540.3 1310.7 549.6 1311.4 557.4 1312.0 600.7 1312.7 570.2 1313.4 568.1 1314.0 551.4 1314.7 566.4 1315.4 552.3 1316.0 579.1 1316.7 523.3 1317.4 565.5 1318.0 513.1 1318.7 520.4 1319.4 560.9 1320.0 542.3 1320.7 518.1 1321.4 492.2 1322.0 486.0 1322.7 495.5 1323.4 521.7 1324.0 572.7 1324.7 538.4 1325.4 518.3 1326.0 520.7 1326.7 542.4 1327.4 542.7 1328.0 525.0 1328.7 514.7 1329.4 526.5 1330.0 515.0 1330.7 544.2 1331.4 537.5 1332.0 516.6 1332.7 563.9 1333.4 601.5 1334.0 601.9 1334.7 569.4 1335.4 593.2 1336.0 568.0 1336.7 520.4 1337.4 550.5 1338.0 515.5 1338.7 501.4 1339.4 502.1 1340.0 486.0 1340.7 491.6 1341.4 500.5 1342.0 538.7 1342.7 548.0 1343.4 569.1 1344.0 588.0 1344.7 563.5 1345.4 527.0 1346.0 563.3 1346.7 515.1 1347.4 562.1 1348.0 551.0 1348.7 598.3 1349.4 519.9 1350.0 520.6 1350.7 515.9 1351.4 574.1 1352.0 520.9 1352.7 525.7 1353.4 564.6 1354.0 570.1 1354.7 611.2 1355.4 585.7 1356.0 544.7 1356.7 580.0 1357.4 557.5 1358.0 594.6 1358.7 614.7 1359.4 608.6 1360.0 533.2 1360.7 523.1 1361.4 573.3 1362.0 535.9 1362.7 527.3 1363.4 549.2 1364.0 573.9 1364.7 549.8 1365.4 566.2 1366.0 586.8 1366.7 553.4 1367.4 583.8 1368.0 563.9 1368.7 520.2 1369.4 570.8 1370.0 564.0 1370.7 539.8 1371.4 607.5 1372.0 589.7 1372.7 579.0 1373.4 575.2 1374.0 576.3 1374.7 518.6 1375.4 564.0 1376.0 551.1 1376.7 524.2 1377.4 513.2 1378.0 568.6 1378.7 584.2 1379.4 576.2 1380.0 555.1 1380.7 516.6 1381.4 530.1 1382.0 531.2 1382.7 514.1 1383.4 526.7 1384.0 526.5 1384.7 513.3 1385.4 514.4 1386.0 534.7 1386.7 563.9 1387.4 517.7 1388.0 564.7 1388.7 569.8 1389.4 522.7 1390.0 514.0 1390.7 513.4 1391.4 542.0 1392.0 523.9 1392.7 615.0 1393.4 602.4 1394.0 513.6 1394.7 513.6 1395.4 515.0 1396.0 559.8 1396.7 582.4 1397.3 522.9 1398.0 538.5 1398.7 565.5 1399.3 527.8 1400.0 517.8 1400.7 553.2 1401.3 560.7 1402.0 511.0 1402.7 546.8 1403.3 513.9 1404.0 554.6 1404.7 567.4 1405.3 588.6 1406.0 564.4 1406.7 559.3 1407.3 524.3 1408.0 559.0 1408.7 529.8 1409.3 558.2 1410.0 563.3 1410.7 530.4 1411.3 520.7 1412.0 572.5 1412.7 554.7 1413.3 603.0 1414.0 602.9 1414.7 520.6 1415.3 509.4 1416.0 537.6 1416.7 533.6 1417.3 515.0 1418.0 506.4 1418.7 504.9 1419.3 555.5 1420.0 558.2 1420.7 554.7 1421.3 603.2 1422.0 602.0 1422.7 560.5 1423.3 560.1 1424.0 575.7 1424.7 596.7 1425.3 590.8 1426.0 559.9 1426.7 559.4 1427.3 513.4 1428.0 509.9 1428.7 574.4 1429.3 519.0 1430.0 531.4 1430.7 508.8 1431.3 547.4 1432.0 504.0 1432.7 539.6 1433.3 504.3 1434.0 516.0 1434.7 536.3 1435.3 570.2 1436.0 589.2 1436.7 519.6 1437.3 555.8 1438.0 574.1 1438.7 531.9 1439.3 520.7 1440.0 501.6 1440.7 552.8 1441.3 590.9 1442.0 574.5 1442.7 505.2 1443.3 510.7 1444.0 500.7 1444.7 496.4 1445.3 499.8 1446.0 499.4 1446.7 503.5 1447.3 499.3 1448.0 498.4 1448.7 529.2 1449.3 498.9 1450.0 506.3 1450.7 516.4 1451.3 470.9 1452.0 431.7 1452.7 416.0 1453.3 427.1 1454.0 470.3 1454.7 509.0 1455.3 567.5 1456.0 536.9 1456.7 541.8 1457.3 542.6 1458.0 568.6 1458.7 540.9 1459.3 527.6 1460.0 580.3 1460.7 553.4 1461.3 536.0 1462.0 520.1 1462.7 519.2 1463.3 558.2 1464.0 502.3" stroke="#1F3CFF" stroke-opacity="0.2"/>
<path d="M131.5 853.7L131.7 685.0 132.3 696.4 133.0 697.3 133.7 694.6 134.3 630.5 135.0 649.3 135.7 632.4 136.3 616.3 137.0 666.4 137.7 602.0 138.3 649.0 139.0 632.6 139.7 600.2 140.3 619.0 141.0 639.6 141.7 655.6 142.3 636.4 143.0 690.6 143.7 680.6 144.3 604.5 145.0 618.5 145.7 644.4 146.3 631.1 147.0 626.8 147.7 633.8 148.3 611.7 149.0 682.8 149.7 640.0 150.3 658.1 151.0 624.4 151.7 639.2 152.3 661.6 153.0 648.9 153.7 672.6 154.3 620.3 155.0 632.7 155.7 604.9 156.3 657.6 157.0 597.8 157.7 625.6 158.3 594.7 159.0 595.9 159.7 654.3 160.3 636.9 161.0 646.9 161.7 626.7 162.3 592.9 163.0 595.1 163.7 593.0 164.3 645.4 165.0 635.3 165.7 623.6 166.3 598.2 167.0 641.3 167.7 612.8 168.3 605.5 169.0 665.7 169.7 671.0 170.3 626.9 171.0 654.9 171.7 669.0 172.3 612.8 173.0 608.4 173.7 629.8 174.3 624.4 175.0 635.9 175.7 640.6 176.3 642.2 177.0 618.5 177.7 589.6 178.3 630.3 179.0 632.4 179.7 634.2 180.3 666.6 181.0 634.1 181.7 602.5 182.3 643.4 183.0 603.1 183.7 633.9 184.3 592.4 185.0 585.5 185.7 621.0 186.3 671.8 187.0 653.0 187.7 667.8 188.3 667.8 189.0 645.9 189.7 588.4 190.3 602.5 191.0 610.8 191.7 662.5 192.3 640.8 193.0 658.5 193.7 610.2 194.3 628.1 195.0 625.2 195.7 624.2 196.3 624.0 197.0 589.1 197.6 586.6 198.3 606.0 199.0 597.1 199.6 588.8 200.3 579.8 201.0 587.0 201.6 579.8 202.3 606.6 203.0 611.6 203.6 650.6 204.3 598.4 205.0 635.2 205.6 653.9 206.3 595.2 207.0 624.9 207.6 639.0 208.3 592.7 209.0 615.4 209.6 587.3 210.3 615.6 211.0 587.7 211.6 583.6 212.3 594.7 213.0 581.3 213.6 602.1 214.3 624.8 215.0 624.6 215.6 590.8 216.3 625.3 217.0 641.1 217.6 630.0 218.3 593.4 219.0 629.3 219.6 665.0 220.3 644.7 221.0 615.9 221.6 637.4 222.3 630.9 223.0 670.4 223.6 648.9 224.3 631.9 225.0 608.4 225.6 606.7 226.3 601.5 227.0 648.9 227.6 614.1 228.3 666.9 229.0 658.8 229.6 606.6 230.3 594.5 231.0 666.1 231.6 626.0 232.3 633.6 233.0 644.1 233.6 623.3 234.3 617.1 235.0 588.1 235.6 642.0 236.3 634.6 237.0 629.2 237.6 668.5 238.3 598.6 239.0 586.7 239.6 621.7 240.3 606.7 241.0 626.1 241.6 614.0 242.3 638.5 243.0 603.2 243.6 646.6 244.3 593.6 245.0 599.0 245.6 587.2 246.3 646.6 247.0 643.0 247.6 671.1 248.3 645.4 249.0 626.2 249.6 653.1 250.3 671.8 251.0 674.3 251.6 642.9 252.3 599.7 253.0 595.9 253.6 616.9 254.3 653.9 255.0 658.0 255.6 674.5 256.3 675.6 257.0 633.6 257.6 647.2 258.3 634.9 259.0 640.5 259.6 599.2 260.3 592.6 261.0 636.3 261.6 644.5 262.3 658.6 263.0 601.4 263.6 593.3 264.3 616.0 265.0 591.3 265.6 599.6 266.3 646.5 267.0 675.8 267.6 651.5 268.3 623.2 269.0 642.7 269.6 620.5 270.3 597.0 271.0 620.6 271.6 603.4 272.3 593.5 273.0 601.0 273.6 638.4 274.3 625.1 275.0 612.8 275.6 592.4 276.3 617.7 277.0 669.9 277.6 636.4 278.3 621.7 279.0 642.1 279.6 621.3 280.3 624.9 281.0 598.2 281.6 645.8 282.3 662.3 283.0 646.0 283.6 663.2 284.3 620.5 285.0 626.4 285.6 642.6 286.3 608.1 287.0 626.0 287.6 612.2 288.3 612.5 289.0 637.0 289.6 642.8 290.3 642.4 291.0 668.4 291.6 655.8 292.3 618.5 293.0 624.5 293.6 657.9 294.3 592.6 295.0 637.2 295.6 612.1 296.3 599.7 297.0 592.2 297.6 632.1 298.3 620.0 299.0 631.8 299.6 596.8 300.3 601.7 301.0 603.8 301.6 601.7 302.3 589.7 303.0 593.3 303.6 592.5 304.3 633.9 305.0 602.1 305.6 654.7 306.3 609.4 307.0 624.3 307.6 656.6 308.3 668.3 309.0 648.3 309.6 631.1 310.3 646.3 311.0 640.7 311.6 641.7 312.3 645.8 313.0 634.2 313.6 625.6 314.3 591.6 315.0 593.5 315.6 628.0 316.3 588.4 317.0 588.0 317.6 626.1 318.3 596.3 319.0 630.3 319.6 648.6 320.3 651.4 321.0 587.9 321.6 600.0 322.3 597.3 323.0 613.6 323.6 631.9 324.3 618.9 325.0 600.5 325.6 582.4 326.3 626.3 327.0 584.0 327.6 585.0 328.3 656.0 329.0 601.0 329.6 581.2 330.3 580.7 330.9 588.6 331.6 597.0 332.3 661.1 332.9 622.9 333.6 605.3 334.3 632.7 334.9 620.8 335.6 636.4 336.3 579.3 336.9 632.9 337.6 650.8 338.3 662.4 338.9 652.3 339.6 623.6 340.3 617.3 340.9 633.1 341.6 590.5 342.3 596.7 342.9 580.9 343.6 599.8 344.3 654.5 344.9 625.5 345.6 637.9 346.3 590.0 346.9 617.5 347.6 618.1 348.3 611.0 348.9 650.4 349.6 563.6 350.3 512.8 350.9 492.0 351.6 511.9 352.3 548.6 352.9 630.9 353.6 621.4 354.3 596.5 354.9 616.1 355.6 602.3 356.3 607.9 356.9 632.3 357.6 647.0 358.3 573.3 358.9 571.7 359.6 598.1 360.3 583.8 360.9 578.5 361.6 579.0 362.3 614.6 362.9 652.2 363.6 654.1 364.3 642.8 364.9 588.3 365.6 570.3 366.3 603.0 366.9 613.7 367.6 574.6 368.3 566.3 368.9 609.1 369.6 586.5 370.3 588.6 370.9 608.0 371.6 608.4 372.3 610.6 372.9 598.7 373.6 640.3 374.3 606.9 374.9 572.5 375.6 567.5 376.3 564.5 376.9 566.0 377.6 570.3 378.3 561.5 378.9 567.1 379.6 572.0 380.3 561.5 380.9 566.2 381.6 604.7 382.3 603.2 382.9 595.3 383.6 578.5 384.3 588.1 384.9 561.1 385.6 561.1 386.3 561.1 386.9 572.2 387.6 558.6 388.3 557.7 388.9 556.8 389.6 562.5 390.3 568.9 390.9 557.4 391.6 582.5 392.3 564.5 392.9 561.4 393.6 560.3 394.3 583.8 394.9 565.0 395.6 606.9 396.3 558.2 396.9 570.5 397.6 564.3 398.3 565.6 398.9 566.3 399.6 568.9 400.3 562.5 400.9 585.0 401.6 575.5 402.3 604.7 402.9 620.8 403.6 623.8 404.3 621.6 404.9 631.0 405.6 615.6 406.3 573.2 406.9 566.9 407.6 590.8 408.3 578.0 408.9 566.9 409.6 553.3 410.3 604.0 410.9 585.4 411.6 622.0 412.3 561.1 412.9 579.7 413.6 563.3 414.3 565.5 414.9 558.1 415.6 545.6 416.3 487.5 416.9 451.0 417.6 476.7 418.3 505.4 418.9 553.3 419.6 597.3 420.3 596.6 420.9 565.4 421.6 551.9 422.3 551.9 422.9 553.3 423.6 595.8 424.3 585.4 424.9 583.8 425.6 605.6 426.3 579.7 426.9 594.0 427.6 601.8 428.3 552.6 428.9 571.0 429.6 552.5 430.3 577.2 430.9 520.4 431.6 485.7 432.3 450.0 432.9 466.6 433.6 509.5 434.3 639.8 434.9 573.2 435.6 614.3 436.3 618.0 436.9 603.2 437.6 641.1 438.3 575.6 438.9 561.7 439.6 601.0 440.3 597.2 440.9 608.3 441.6 627.7 442.3 620.2 442.9 643.2 443.6 637.1 444.3 634.7 444.9 562.4 445.6 633.7 446.3 580.9 446.9 575.0 447.6 592.5 448.3 618.9 448.9 560.0 449.6 557.6 450.3 576.8 450.9 605.3 451.6 602.3 452.3 559.0 452.9 608.4 453.6 600.0 454.3 564.1 454.9 629.3 455.6 610.3 456.3 569.6 456.9 603.9 457.6 606.0 458.3 646.2 458.9 607.9 459.6 642.0 460.3 629.2 460.9 603.3 461.6 617.0 462.3 575.0 462.9 571.9 463.6 577.6 464.2 567.4 464.9 592.4 465.6 649.6 466.2 605.5 466.9 578.2 467.6 608.6 468.2 634.8 468.9 576.2 469.6 606.4 470.2 609.3 470.9 610.7 471.6 561.7 472.2 590.8 472.9 651.9 473.6 624.7 474.2 637.4 474.9 651.6 475.6 617.1 476.2 626.5 476.9 588.2 477.6 617.2 478.2 581.7 478.9 577.5 479.6 604.5 480.2 584.7 480.9 566.2 481.6 574.2 482.2 647.0 482.9 627.9 483.6 613.9 484.2 582.1 484.9 615.8 485.6 585.1 486.2 615.5 486.9 616.8 487.6 624.7 488.2 623.0 488.9 628.6 489.6 617.2 490.2 647.0 490.9 654.6 491.6 640.6 492.2 625.3 492.9 633.6 493.6 613.4 494.2 602.0 494.9 569.3 495.6 638.8 496.2 569.8 496.9 654.7 497.6 656.6 498.2 625.7 498.9 640.0 499.6 620.9 500.2 620.9 500.9 646.8 501.6 653.5 502.2 639.1 502.9 610.7 503.6 585.8 504.2 599.0 504.9 614.4 505.6 576.3 506.2 653.0 506.9 629.4 507.6 576.4 508.2 566.7 508.9 567.6 509.6 566.9 510.2 569.0 510.9 595.7 511.6 654.8 512.2 650.4 512.9 640.3 513.6 575.3 514.2 610.5 514.9 620.5 515.6 596.8 516.2 641.5 516.9 623.0 517.6 609.0 518.2 628.5 518.9 626.9 519.6 653.4 520.2 653.4 520.9 648.3 521.6 590.9 522.2 620.0 522.9 641.7 523.6 641.7 524.2 603.2 524.9 645.4 525.6 612.3 526.2 616.7 526.9 605.6 527.6 624.6 528.2 608.5 528.9 567.7 529.6 602.9 530.2 620.9 530.9 652.8 531.6 621.3 532.2 631.8 532.9 609.5 533.6 609.6 534.2 639.1 534.9 639.0 535.6 651.3 536.2 570.4 536.9 570.9 537.6 571.5 538.2 567.7 538.9 566.8 539.6 570.3 540.2 568.7 540.9 561.9 541.6 628.0 542.2 607.3 542.9 626.5 543.6 613.4 544.2 651.7 544.9 651.2 545.6 609.7 546.2 647.8 546.9 609.5 547.6 639.5 548.2 625.2 548.9 649.5 549.6 643.3 550.2 650.5 550.9 610.5 551.6 650.2 552.2 616.6 552.9 633.9 553.6 621.9 554.2 571.3 554.9 606.7 555.6 625.0 556.2 611.5 556.9 586.6 557.6 615.0 558.2 567.7 558.9 586.6 559.6 613.8 560.2 629.7 560.9 619.9 561.6 592.9 562.2 571.2 562.9 596.3 563.6 619.8 564.2 613.1 564.9 650.0 565.6 601.9 566.2 582.0 566.9 610.0 567.6 591.0 568.2 635.4 568.9 567.8 569.6 601.9 570.2 620.9 570.9 562.3 571.6 614.5 572.2 597.9 572.9 626.6 573.6 633.7 574.2 621.1 574.9 633.5 575.6 573.0 576.2 565.8 576.9 604.5 577.6 559.2 578.2 578.4 578.9 603.1 579.6 588.2 580.2 630.9 580.9 569.2 581.6 618.8 582.2 643.0 582.9 588.5 583.6 625.4 584.2 620.9 584.9 642.6 585.6 634.1 586.2 612.9 586.9 646.5 587.6 638.4 588.2 640.8 588.9 577.4 589.6 557.3 590.2 565.5 590.9 568.8 591.6 562.1 592.2 560.3 592.9 622.3 593.6 640.6 594.2 630.8 594.9 641.9 595.6 623.8 596.2 605.0 596.9 628.3 597.5 599.7 598.2 559.5 598.9 580.4 599.5 575.3 600.2 595.2 600.9 598.4 601.5 616.4 602.2 636.1 602.9 596.7 603.5 563.1 604.2 591.5 604.9 597.6 605.5 638.8 606.2 622.2 606.9 604.4 607.5 607.6 608.2 606.9 608.9 638.9 609.5 641.9 610.2 631.4 610.9 565.6 611.5 602.4 612.2 639.2 612.9 634.7 613.5 615.1 614.2 565.6 614.9 555.8 615.5 600.0 616.2 623.5 616.9 608.1 617.5 597.6 618.2 621.7 618.9 570.2 619.5 592.6 620.2 584.1 620.9 588.4 621.5 563.6 622.2 575.1 622.9 564.1 623.5 550.4 624.2 555.4 624.9 549.8 625.5 592.5 626.2 578.3 626.9 599.1 627.5 610.3 628.2 578.2 628.9 547.9 629.5 549.4 630.2 547.9 630.9 601.5 631.5 568.9 632.2 598.4 632.9 571.9 633.5 548.7 634.2 570.2 634.9 549.5 635.5 587.9 636.2 578.3 636.9 591.4 637.5 579.0 638.2 578.6 638.9 632.5 639.5 600.0 640.2 592.3 640.9 545.5 641.5 623.3 642.2 583.8 642.9 551.1 643.5 543.9 644.2 543.7 644.9 552.3 645.5 544.5 646.2 554.5 646.9 564.6 647.5 577.3 648.2 579.1 648.9 543.6 649.5 592.1 650.2 618.7 650.9 556.7 651.5 552.2 652.2 544.8 652.9 563.2 653.5 550.5 654.2 568.6 654.9 589.3 655.5 591.0 656.2 579.5 656.9 572.8 657.5 588.3 658.2 544.7 658.9 549.9 659.5 587.1 660.2 614.9 660.9 588.4 661.5 624.4 662.2 618.7 662.9 624.7 663.5 615.1 664.2 587.9 664.9 632.2 665.5 561.8 666.2 558.1 666.9 580.4 667.5 596.2 668.2 559.3 668.9 575.1 669.5 544.6 670.2 568.0 670.9 606.9 671.5 628.2 672.2 608.5 672.9 561.9 673.5 611.8 674.2 553.4 674.9 552.3 675.5 581.7 676.2 550.7 676.9 622.3 677.5 632.9 678.2 613.5 678.9 593.5 679.5 583.4 680.2 589.6 680.9 630.5 681.5 597.8 682.2 607.5 682.9 574.0 683.5 587.8 684.2 625.9 684.9 590.4 685.5 571.3 686.2 571.3 686.9 618.1 687.5 631.2 688.2 592.4 688.9 597.3 689.5 599.3 690.2 567.5 690.9 556.6 691.5 562.2 692.2 593.5 692.9 554.4 693.5 609.5 694.2 596.6 694.9 589.7 695.5 631.2 696.2 631.5 696.9 591.2 697.5 603.1 698.2 629.4 698.9 569.7 699.5 589.5 700.2 597.6 700.9 551.8 701.5 623.0 702.2 622.1 702.9 627.5 703.5 571.0 704.2 616.8 704.9 548.7 705.5 563.2 706.2 586.3 706.9 564.5 707.5 591.0 708.2 624.4 708.9 625.5 709.5 614.5 710.2 629.3 710.9 610.9 711.5 621.3 712.2 612.4 712.9 600.7 713.5 554.9 714.2 544.8 714.9 544.5 715.5 569.1 716.2 606.2 716.9 567.4 717.5 550.8 718.2 554.2 718.9 597.4 719.5 590.7 720.2 602.4 720.9 573.1 721.5 557.9 722.2 576.9 722.9 601.0 723.5 550.8 724.2 581.1 724.9 566.0 725.5 567.6 726.2 556.6 726.9 549.2 727.5 589.5 728.2 608.1 728.9 584.9 729.5 631.8 730.2 628.8 730.9 622.6 731.5 588.4 732.2 587.9 732.8 592.5 733.5 572.8 734.2 537.4 734.8 519.0 735.5 530.0 736.2 549.9 736.8 611.3 737.5 586.5 738.2 606.0 738.8 584.8 739.5 571.3 740.2 551.2 740.8 574.4 741.5 546.0 742.2 582.7 742.8 609.2 743.5 576.4 744.2 617.9 744.8 588.9 745.5 574.5 746.2 572.1 746.8 562.7 747.5 562.6 748.2 545.6 748.8 562.4 749.5 622.8 750.2 602.5 750.8 557.1 751.5 546.6 752.2 548.1 752.8 556.7 753.5 592.6 754.2 544.8 754.8 579.5 755.5 606.2 756.2 628.0 756.8 544.1 757.5 552.3 758.2 613.1 758.8 553.4 759.5 546.4 760.2 606.1 760.8 555.9 761.5 559.6 762.2 545.8 762.8 541.5 763.5 562.4 764.2 540.6 764.8 549.0 765.5 584.3 766.2 546.7 766.8 583.9 767.5 588.5 768.2 561.2 768.8 597.5 769.5 622.7 770.2 587.2 770.8 586.0 771.5 605.8 772.2 572.7 772.8 613.0 773.5 565.0 774.2 600.4 774.8 562.2 775.5 603.7 776.2 561.0 776.8 580.6 777.5 590.4 778.2 583.3 778.8 584.8 779.5 549.8 780.2 587.4 780.8 566.7 781.5 586.2 782.2 601.2 782.8 606.7 783.5 622.5 784.2 595.7 784.8 588.7 785.5 584.4 786.2 627.2 786.8 624.2 787.5 564.5 788.2 554.0 788.8 588.9 789.5 597.5 790.2 591.7 790.8 560.2 791.5 549.0 792.2 562.8 792.8 572.7 793.5 587.7 794.2 576.7 794.8 547.3 795.5 589.2 796.2 568.3 796.8 611.6 797.5 625.4 798.2 631.6 798.8 623.6 799.5 555.1 800.2 548.1 800.8 549.9 801.5 569.1 802.2 554.1 802.8 603.9 803.5 631.3 804.2 631.3 804.8 620.2 805.5 634.2 806.2 632.6 806.8 564.5 807.5 594.2 808.2 608.0 808.8 618.9 809.5 582.9 810.2 572.3 810.8 583.7 811.5 593.3 812.2 634.5 812.8 635.0 813.5 619.1 814.2 615.4 814.8 610.3 815.5 613.1 816.2 557.5 816.8 556.5 817.5 608.4 818.2 573.4 818.8 567.9 819.5 589.1 820.2 596.1 820.8 579.5 821.5 553.6 822.2 580.6 822.8 590.9 823.5 592.6 824.2 634.2 824.8 599.5 825.5 613.3 826.2 585.5 826.8 572.4 827.5 554.8 828.2 571.5 828.8 594.3 829.5 564.9 830.2 554.7 830.8 560.2 831.5 560.4 832.2 562.2 832.8 562.3 833.5 598.8 834.2 617.3 834.8 623.6 835.5 620.2 836.2 599.5 836.8 625.7 837.5 633.8 838.2 609.0 838.8 607.3 839.5 601.9 840.2 636.2 840.8 563.4 841.5 594.7 842.2 605.5 842.8 619.9 843.5 587.6 844.2 564.3 844.8 589.0 845.5 600.9 846.2 605.4 846.8 560.1 847.5 567.8 848.2 602.3 848.8 594.8 849.5 568.9 850.2 589.8 850.8 598.4 851.5 603.0 852.2 613.8 852.8 602.5 853.5 565.8 854.2 575.5 854.8 606.3 855.5 635.1 856.2 619.4 856.8 627.5 857.5 640.2 858.2 605.4 858.8 598.4 859.5 569.9 860.2 574.6 860.8 603.3 861.5 573.7 862.2 576.3 862.8 566.1 863.5 607.4 864.1 611.6 864.8 604.5 865.5 569.4 866.1 579.8 866.8 633.7 867.5 644.2 868.1 610.6 868.8 647.3 869.5 641.5 870.1 622.5 870.8 621.1 871.5 606.8 872.1 578.2 872.8 586.2 873.5 625.0 874.1 571.7 874.8 568.8 875.5 611.0 876.1 614.4 876.8 643.5 877.5 578.1 878.1 609.3 878.8 584.2 879.5 581.6 880.1 570.2 880.8 580.0 881.5 599.7 882.1 582.8 882.8 571.4 883.5 602.4 884.1 605.9 884.8 642.0 885.5 575.5 886.1 609.9 886.8 574.5 887.5 571.8 888.1 571.3 888.8 570.9 889.5 605.7 890.1 589.7 890.8 613.0 891.5 604.2 892.1 618.1 892.8 569.8 893.5 574.1 894.1 571.7 894.8 599.0 895.5 570.4 896.1 577.2 896.8 591.2 897.5 596.0 898.1 638.6 898.8 652.5 899.5 616.0 900.1 634.4 900.8 618.3 901.5 571.5 902.1 588.7 902.8 570.9 903.5 577.3 904.1 624.5 904.8 595.2 905.5 576.6 906.1 578.4 906.8 616.7 907.5 639.8 908.1 603.0 908.8 571.7 909.5 570.5 910.1 593.0 910.8 612.5 911.5 607.4 912.1 577.8 912.8 584.5 913.5 589.7 914.1 606.4 914.8 653.1 915.5 651.5 916.1 615.2 916.8 646.2 917.5 573.5 918.1 611.5 918.8 583.6 919.5 576.2 920.1 573.0 920.8 624.1 921.5 621.9 922.1 576.0 922.8 593.7 923.5 580.0 924.1 651.3 924.8 614.3 925.5 611.3 926.1 615.0 926.8 650.6 927.5 646.2 928.1 631.4 928.8 630.8 929.5 646.0 930.1 594.7 930.8 579.3 931.5 610.7 932.1 572.3 932.8 619.3 933.5 602.8 934.1 571.9 934.8 574.3 935.5 589.9 936.1 586.2 936.8 602.7 937.5 614.3 938.1 628.0 938.8 611.5 939.5 612.1 940.1 595.3 940.8 620.0 941.5 606.1 942.1 577.8 942.8 614.3 943.5 572.2 944.1 614.6 944.8 629.5 945.5 634.9 946.1 648.3 946.8 650.5 947.5 649.8 948.1 635.4 948.8 641.0 949.5 583.5 950.1 610.2 950.8 624.5 951.5 632.1 952.1 605.4 952.8 602.4 953.5 595.2 954.1 581.4 954.8 569.6 955.5 611.0 956.1 583.8 956.8 601.8 957.5 601.8 958.1 621.4 958.8 602.5 959.5 589.6 960.1 596.6 960.8 627.7 961.5 607.2 962.1 636.2 962.8 648.9 963.5 609.2 964.1 614.7 964.8 649.1 965.5 647.8 966.1 633.3 966.8 603.9 967.5 621.4 968.1 639.8 968.8 647.7 969.5 649.8 970.1 640.0 970.8 643.5 971.5 608.6 972.1 626.0 972.8 584.4 973.5 607.8 974.1 605.4 974.8 600.6 975.5 608.6 976.1 570.4 976.8 609.0 977.5 620.0 978.1 610.0 978.8 581.1 979.5 614.8 980.1 570.3 980.8 609.9 981.5 612.5 982.1 594.4 982.8 588.3 983.5 610.8 984.1 573.2 984.8 567.4 985.5 570.9 986.1 569.8 986.8 570.5 987.5 567.1 988.1 569.0 988.8 570.6 989.5 587.6 990.1 574.8 990.8 588.1 991.5 601.6 992.1 596.6 992.8 572.7 993.5 584.5 994.1 570.5 994.8 581.4 995.5 570.5 996.1 613.3 996.8 629.0 997.4 590.9 998.1 569.1 998.8 590.5 999.4 645.1 1000.1 581.7 1000.8 577.2 1001.4 608.4 1002.1 573.3 1002.8 570.3 1003.4 606.3 1004.1 610.6 1004.8 579.2 1005.4 573.0 1006.1 568.5 1006.8 570.2 1007.4 567.9 1008.1 579.0 1008.8 610.5 1009.4 614.2 1010.1 622.3 1010.8 606.6 1011.4 618.3 1012.1 579.5 1012.8 570.9 1013.4 568.5 1014.1 589.3 1014.8 633.2 1015.4 616.1 1016.1 605.9 1016.8 612.1 1017.4 588.2 1018.1 578.2 1018.8 581.1 1019.4 613.0 1020.1 579.0 1020.8 619.5 1021.4 650.0 1022.1 640.9 1022.8 591.9 1023.4 611.8 1024.1 648.7 1024.8 643.1 1025.4 603.0 1026.1 610.0 1026.8 618.7 1027.4 644.8 1028.1 633.1 1028.8 641.8 1029.4 588.8 1030.1 608.2 1030.8 596.5 1031.4 646.3 1032.1 631.2 1032.8 601.4 1033.4 570.9 1034.1 570.7 1034.8 622.3 1035.4 566.9 1036.1 601.9 1036.8 619.8 1037.4 626.7 1038.1 644.4 1038.8 634.3 1039.4 637.2 1040.1 635.1 1040.8 639.5 1041.4 626.4 1042.1 602.0 1042.8 624.8 1043.4 642.9 1044.1 606.5 1044.8 610.9 1045.4 585.2 1046.1 622.5 1046.8 614.5 1047.4 627.2 1048.1 642.0 1048.8 631.2 1049.4 619.3 1050.1 604.7 1050.8 634.8 1051.4 601.4 1052.1 578.4 1052.8 595.7 1053.4 611.9 1054.1 630.7 1054.8 592.2 1055.4 627.2 1056.1 584.4 1056.8 641.5 1057.4 644.5 1058.1 616.6 1058.8 638.2 1059.4 594.3 1060.1 609.8 1060.8 615.2 1061.4 603.0 1062.1 574.4 1062.8 569.8 1063.4 591.9 1064.1 606.9 1064.8 584.9 1065.4 614.2 1066.1 631.4 1066.8 633.8 1067.4 560.3 1068.1 560.3 1068.8 566.3 1069.4 599.6 1070.1 580.2 1070.8 633.1 1071.4 618.2 1072.1 583.0 1072.8 580.6 1073.4 624.8 1074.1 602.2 1074.8 601.0 1075.4 563.2 1076.1 564.1 1076.8 574.4 1077.4 558.4 1078.1 578.9 1078.8 562.0 1079.4 566.8 1080.1 585.9 1080.8 604.0 1081.4 584.3 1082.1 560.2 1082.8 624.4 1083.4 599.8 1084.1 570.0 1084.8 606.0 1085.4 616.0 1086.1 563.4 1086.8 588.0 1087.4 599.0 1088.1 575.5 1088.8 575.9 1089.4 566.9 1090.1 564.2 1090.8 557.0 1091.4 562.4 1092.1 559.4 1092.8 597.4 1093.4 587.2 1094.1 600.6 1094.8 559.8 1095.4 563.5 1096.1 556.8 1096.8 570.0 1097.4 603.8 1098.1 568.3 1098.8 587.0 1099.4 627.3 1100.1 605.0 1100.8 609.9 1101.4 561.2 1102.1 576.4 1102.8 566.1 1103.4 565.6 1104.1 556.2 1104.8 560.3 1105.4 562.9 1106.1 562.8 1106.8 610.6 1107.4 592.0 1108.1 611.9 1108.8 619.9 1109.4 595.0 1110.1 629.5 1110.8 605.7 1111.4 563.7 1112.1 577.3 1112.8 562.0 1113.4 603.9 1114.1 594.3 1114.8 635.5 1115.4 632.1 1116.1 618.4 1116.8 556.0 1117.4 552.5 1118.1 613.3 1118.8 606.6 1119.4 611.7 1120.1 556.8 1120.8 557.7 1121.4 593.1 1122.1 563.2 1122.8 556.6 1123.4 596.2 1124.1 565.6 1124.8 564.7 1125.4 564.8 1126.1 629.3 1126.8 611.5 1127.4 634.7 1128.1 605.8 1128.8 612.1 1129.4 560.8 1130.1 553.7 1130.8 619.2 1131.4 559.6 1132.1 594.7 1132.7 566.3 1133.4 581.4 1134.1 595.2 1134.7 596.9 1135.4 604.1 1136.1 559.4 1136.7 575.9 1137.4 614.0 1138.1 585.6 1138.7 604.0 1139.4 582.8 1140.1 602.5 1140.7 584.9 1141.4 610.0 1142.1 613.9 1142.7 592.8 1143.4 561.7 1144.1 573.2 1144.7 584.7 1145.4 551.1 1146.1 567.7 1146.7 634.1 1147.4 599.1 1148.1 617.6 1148.7 633.3 1149.4 592.7 1150.1 567.8 1150.7 598.3 1151.4 609.6 1152.1 595.7 1152.7 560.1 1153.4 599.9 1154.1 557.0 1154.7 563.9 1155.4 565.4 1156.1 552.0 1156.7 565.6 1157.4 559.0 1158.1 565.5 1158.7 633.6 1159.4 614.5 1160.1 592.9 1160.7 594.1 1161.4 557.1 1162.1 588.9 1162.7 578.3 1163.4 574.8 1164.1 576.3 1164.7 630.3 1165.4 623.6 1166.1 619.3 1166.7 560.1 1167.4 592.5 1168.1 577.1 1168.7 588.7 1169.4 624.8 1170.1 628.1 1170.7 597.0 1171.4 565.7 1172.1 549.8 1172.7 567.0 1173.4 614.6 1174.1 596.2 1174.7 621.9 1175.4 556.2 1176.1 576.6 1176.7 582.3 1177.4 549.0 1178.1 554.8 1178.7 606.3 1179.4 570.7 1180.1 596.3 1180.7 620.5 1181.4 617.3 1182.1 627.9 1182.7 594.2 1183.4 617.3 1184.1 613.8 1184.7 565.1 1185.4 589.8 1186.1 597.2 1186.7 588.9 1187.4 606.7 1188.1 596.6 1188.7 597.4 1189.4 568.1 1190.1 594.8 1190.7 612.5 1191.4 608.6 1192.1 630.5 1192.7 614.8 1193.4 571.4 1194.1 547.8 1194.7 558.9 1195.4 549.9 1196.1 618.2 1196.7 557.9 1197.4 560.2 1198.1 548.3 1198.7 576.0 1199.4 564.7 1200.1 571.0 1200.7 585.3 1201.4 575.2 1202.1 547.4 1202.7 600.4 1203.4 592.2 1204.1 568.6 1204.7 546.9 1205.4 589.1 1206.1 617.1 1206.7 629.0 1207.4 588.5 1208.1 587.6 1208.7 579.6 1209.4 572.4 1210.1 622.7 1210.7 557.3 1211.4 549.0 1212.1 596.9 1212.7 599.9 1213.4 605.4 1214.1 597.1 1214.7 546.6 1215.4 546.4 1216.1 574.8 1216.7 546.4 1217.4 547.7 1218.1 550.2 1218.7 575.9 1219.4 587.1 1220.1 565.6 1220.7 546.2 1221.4 560.1 1222.1 586.8 1222.7 550.7 1223.4 553.4 1224.1 578.5 1224.7 546.7 1225.4 551.7 1226.1 566.0 1226.7 567.2 1227.4 552.6 1228.1 551.6 1228.7 548.9 1229.4 552.0 1230.1 571.8 1230.7 548.9 1231.4 561.7 1232.1 590.2 1232.7 557.7 1233.4 548.8 1234.1 568.9 1234.7 589.7 1235.4 587.5 1236.1 599.3 1236.7 592.9 1237.4 557.8 1238.1 554.3 1238.7 629.6 1239.4 556.8 1240.1 549.9 1240.7 596.3 1241.4 552.1 1242.1 604.9 1242.7 554.0 1243.4 579.0 1244.1 564.3 1244.7 563.8 1245.4 555.6 1246.1 599.8 1246.7 551.1 1247.4 551.1 1248.1 554.6 1248.7 550.2 1249.4 561.5 1250.1 549.7 1250.7 549.7 1251.4 549.2 1252.1 569.7 1252.7 572.3 1253.4 630.0 1254.1 597.2 1254.7 612.5 1255.4 619.4 1256.1 565.4 1256.7 571.5 1257.4 553.2 1258.1 592.5 1258.7 593.9 1259.4 562.1 1260.1 625.3 1260.7 620.8 1261.4 582.3 1262.1 621.4 1262.7 572.4 1263.4 597.1 1264.0 557.0 1264.7 582.6 1265.4 550.9 1266.0 610.0 1266.7 555.8 1267.4 614.3 1268.0 555.5 1268.7 570.5 1269.4 629.9 1270.0 581.0 1270.7 604.6 1271.4 599.7 1272.0 596.7 1272.7 561.2 1273.4 591.0 1274.0 569.7 1274.7 608.7 1275.4 607.5 1276.0 572.2 1276.7 551.1 1277.4 558.5 1278.0 577.1 1278.7 563.1 1279.4 556.3 1280.0 593.6 1280.7 547.8 1281.4 563.9 1282.0 608.4 1282.7 593.8 1283.4 564.3 1284.0 577.4 1284.7 592.0 1285.4 586.4 1286.0 559.2 1286.7 585.9 1287.4 599.1 1288.0 573.2 1288.7 563.4 1289.4 598.5 1290.0 547.3 1290.7 547.7 1291.4 547.1 1292.0 547.3 1292.7 590.2 1293.4 547.2 1294.0 601.8 1294.7 609.7 1295.4 575.4 1296.0 591.1 1296.7 556.5 1297.4 550.2 1298.0 564.0 1298.7 547.2 1299.4 595.2 1300.0 564.0 1300.7 552.2 1301.4 546.3 1302.0 547.0 1302.7 594.4 1303.4 558.5 1304.0 573.6 1304.7 562.0 1305.4 554.0 1306.0 547.5 1306.7 563.3 1307.4 553.4 1308.0 547.0 1308.7 546.8 1309.4 546.7 1310.0 594.1 1310.7 558.4 1311.4 547.5 1312.0 565.4 1312.7 553.9 1313.4 572.6 1314.0 553.8 1314.7 555.7 1315.4 599.0 1316.0 574.6 1316.7 557.3 1317.4 608.8 1318.0 593.2 1318.7 595.1 1319.4 617.1 1320.0 556.4 1320.7 589.8 1321.4 575.1 1322.0 625.6 1322.7 594.4 1323.4 617.5 1324.0 576.4 1324.7 589.5 1325.4 558.6 1326.0 547.1 1326.7 621.6 1327.4 599.7 1328.0 599.8 1328.7 613.8 1329.4 625.4 1330.0 611.6 1330.7 589.1 1331.4 582.4 1332.0 561.4 1332.7 592.0 1333.4 561.8 1334.0 564.4 1334.7 556.6 1335.4 555.5 1336.0 563.9 1336.7 557.5 1337.4 607.2 1338.0 633.9 1338.7 633.8 1339.4 597.5 1340.0 593.5 1340.7 608.2 1341.4 558.9 1342.0 558.8 1342.7 549.8 1343.4 601.6 1344.0 607.0 1344.7 582.9 1345.4 559.0 1346.0 550.4 1346.7 560.8 1347.4 552.0 1348.0 551.0 1348.7 564.8 1349.4 552.0 1350.0 558.3 1350.7 559.7 1351.4 606.2 1352.0 623.0 1352.7 625.6 1353.4 596.5 1354.0 628.5 1354.7 636.6 1355.4 630.3 1356.0 552.6 1356.7 580.6 1357.4 623.8 1358.0 622.6 1358.7 591.6 1359.4 563.8 1360.0 576.2 1360.7 552.5 1361.4 554.7 1362.0 598.1 1362.7 556.9 1363.4 594.4 1364.0 554.2 1364.7 560.1 1365.4 626.8 1366.0 637.4 1366.7 608.4 1367.4 579.5 1368.0 554.9 1368.7 557.0 1369.4 551.7 1370.0 552.5 1370.7 558.4 1371.4 599.8 1372.0 554.5 1372.7 553.1 1373.4 552.7 1374.0 586.7 1374.7 557.3 1375.4 629.4 1376.0 588.3 1376.7 588.7 1377.4 587.5 1378.0 639.0 1378.7 563.5 1379.4 617.9 1380.0 630.7 1380.7 621.5 1381.4 627.0 1382.0 639.2 1382.7 602.6 1383.4 609.4 1384.0 599.2 1384.7 637.6 1385.4 608.3 1386.0 602.6 1386.7 562.1 1387.4 607.5 1388.0 639.5 1388.7 622.1 1389.4 596.4 1390.0 562.6 1390.7 562.3 1391.4 610.1 1392.0 598.6 1392.7 628.8 1393.4 596.0 1394.0 552.5 1394.7 600.6 1395.4 631.7 1396.0 636.5 1396.7 612.7 1397.3 583.5 1398.0 585.9 1398.7 634.1 1399.3 597.8 1400.0 568.5 1400.7 554.0 1401.3 557.3 1402.0 625.2 1402.7 574.9 1403.3 600.0 1404.0 634.5 1404.7 612.7 1405.3 598.4 1406.0 586.2 1406.7 609.8 1407.3 611.4 1408.0 601.4 1408.7 583.5 1409.3 578.1 1410.0 627.6 1410.7 577.4 1411.3 630.6 1412.0 604.2 1412.7 601.4 1413.3 640.7 1414.0 639.3 1414.7 621.4 1415.3 596.8 1416.0 600.2 1416.7 588.0 1417.3 597.8 1418.0 604.6 1418.7 573.2 1419.3 552.1 1420.0 566.9 1420.7 599.8 1421.3 593.3 1422.0 621.7 1422.7 582.4 1423.3 601.7 1424.0 556.7 1424.7 621.3 1425.3 610.0 1426.0 635.1 1426.7 605.2 1427.3 630.5 1428.0 639.4 1428.7 639.3 1429.3 637.8 1430.0 618.0 1430.7 635.8 1431.3 596.9 1432.0 600.4 1432.7 600.5 1433.3 603.9 1434.0 600.6 1434.7 554.8 1435.3 605.7 1436.0 599.8 1436.7 593.9 1437.3 579.3 1438.0 602.2 1438.7 639.9 1439.3 599.9 1440.0 577.2 1440.7 566.8 1441.3 569.0 1442.0 619.9 1442.7 562.6 1443.3 595.7 1444.0 589.0 1444.7 552.8 1445.3 554.6 1446.0 601.1 1446.7 595.6 1447.3 556.4 1448.0 554.7 1448.7 575.9 1449.3 626.8 1450.0 632.3 1450.7 621.3 1451.3 599.9 1452.0 558.3 1452.7 554.5 1453.3 632.1 1454.0 622.7 1454.7 634.2 1455.3 632.9 1456.0 596.4 1456.7 599.3 1457.3 633.8 1458.0 561.2 1458.7 603.5 1459.3 631.7 1460.0 623.4 1460.7 556.2 1461.3 556.8 1462.0 597.5 1462.7 587.0 1463.3 621.6 1464.0 576.7" stroke="#A2E637" stroke-opacity="0.22"/>
</g>
<g fill="none" stroke-linejoin="round" stroke-linecap="round" stroke-width="5.5">
<path d="M132.9 605.7L134.9 604.7 136.9 603.6 138.9 602.6 140.9 601.5 142.9 600.5 144.9 599.4 146.9 598.4 148.9 597.4 150.9 596.3 152.9 595.3 154.9 594.3 156.9 593.3 158.9 592.3 160.9 591.3 162.9 590.3 164.9 589.3 166.9 588.3 168.9 587.3 170.9 586.3 172.9 585.3 174.9 584.3 176.9 583.3 178.9 582.4 180.9 581.4 182.9 580.6 184.9 579.7 186.9 578.9 188.9 578.1 190.9 577.4 192.9 576.8 194.9 576.4 196.9 576.0 198.9 575.8 200.9 575.6 202.9 575.5 204.9 575.3 206.9 575.2 208.9 575.1 210.9 574.9 212.9 574.7 214.9 574.5 216.9 574.3 218.9 574.0 220.9 573.7 222.9 573.2 224.9 572.7 226.9 572.0 228.9 571.2 230.9 570.3 232.9 569.3 234.9 568.1 236.9 566.8 238.9 565.4 240.9 563.8 242.9 562.1 244.9 560.2 246.9 558.1 248.9 555.8 250.9 553.3 252.9 550.6 254.9 547.7 256.9 544.6 258.9 541.2 260.9 537.7 262.9 533.9 264.9 530.0 266.9 525.9 268.9 521.7 270.9 517.4 272.9 513.0 274.9 508.7 276.9 504.4 278.9 500.2 280.9 496.0 282.9 491.9 284.9 487.9 286.9 483.9 288.9 479.9 290.9 476.0 292.9 472.1 294.9 468.1 296.9 464.2 298.9 460.2 300.9 456.1 302.9 452.0 304.9 447.9 306.9 443.7 308.9 439.6 310.9 435.4 312.9 431.2 314.9 427.1 316.9 423.0 318.9 419.0 320.9 415.1 322.9 411.4 324.9 408.0 326.9 404.8 328.9 401.8 330.9 399.0 332.9 396.5 334.9 394.2 336.9 392.1 338.9 390.2 340.9 388.4 342.9 386.8 344.9 385.3 346.9 384.0 348.9 382.9 350.9 382.0 352.9 381.4 354.9 381.0 356.9 380.9 358.9 381.0 360.9 381.2 362.9 381.4 364.9 381.6 366.9 381.9 368.9 382.3 370.9 382.7 372.9 383.1 374.9 383.6 376.9 384.2 378.9 384.8 380.9 385.4 382.9 386.0 384.9 386.6 386.9 387.3 388.9 388.0 390.9 388.6 392.9 389.3 394.9 389.9 396.9 390.6 398.9 391.3 400.9 391.9 402.9 392.5 404.9 393.0 406.9 393.5 408.9 393.9 410.9 394.2 412.9 394.5 414.9 394.8 416.9 395.0 418.9 395.2 420.9 395.4 422.9 395.6 424.9 395.8 426.9 395.9 428.9 396.1 430.9 396.3 432.9 396.6 434.9 396.9 436.9 397.2 438.9 397.6 440.9 398.1 442.9 398.6 444.9 399.2 446.9 400.0 448.9 400.8 450.9 401.8 452.9 402.9 454.9 404.1 456.9 405.4 458.9 407.0 460.9 408.7 462.9 410.5 464.9 412.5 466.9 414.5 468.9 416.7 470.9 418.9 472.9 421.2 474.9 423.6 476.9 426.0 478.9 428.4 480.9 430.9 482.9 433.4 484.9 436.0 486.9 438.7 488.9 441.4 490.9 444.2 492.9 447.0 494.9 449.7 496.9 452.2 498.9 454.7 500.9 456.9 502.9 459.0 504.9 460.9 506.9 462.8 508.9 464.5 510.9 466.1 512.9 467.6 514.9 469.1 516.9 470.4 518.9 471.7 520.9 473.0 522.9 474.2 524.9 475.2 526.9 475.9 528.9 476.3 530.9 476.3 532.9 475.8 534.9 475.0 536.9 473.9 538.9 472.7 540.9 471.3 542.9 469.9 544.9 468.5 546.9 466.9 548.9 465.3 550.9 463.6 552.9 461.8 554.9 460.0 556.9 458.1 558.9 456.1 560.9 454.2 562.9 452.4 564.9 450.7 566.9 449.2 568.9 447.9 570.9 446.9 572.9 446.1 574.9 445.4 576.9 444.9 578.9 444.5 580.9 444.2 582.9 444.0 584.9 444.1 586.9 444.2 588.9 444.5 590.9 445.0 592.9 445.4 594.9 445.9 596.9 446.5 598.9 447.0 600.9 447.5 602.9 448.1 604.9 448.6 606.9 449.1 608.9 449.7 610.9 450.2 612.9 450.6 614.9 451.1 616.9 451.6 618.9 452.1 620.9 452.5 622.9 453.0 624.9 453.5 626.9 453.9 628.9 454.4 630.9 454.8 632.9 455.3 634.9 455.6 636.9 455.8 638.9 455.9 640.9 455.8 642.9 455.6 644.9 455.2 646.9 454.7 648.9 454.1 650.9 453.5 652.9 452.9 654.9 452.2 656.9 451.6 658.9 450.9 660.9 450.3 662.9 449.7 664.9 449.2 666.9 448.6 668.9 448.2 670.9 447.8 672.9 447.5 674.9 447.2 676.9 446.9 678.9 446.6 680.9 446.4 682.9 446.1 684.9 445.9 686.9 445.6 688.9 445.4 690.9 445.2 692.9 444.9 694.9 444.8 696.9 444.6 698.9 444.6 700.9 444.6 702.9 444.8 704.9 445.0 706.9 445.3 708.9 445.6 710.9 446.0 712.9 446.3 714.9 446.6 716.9 446.9 718.9 447.0 720.9 447.0 722.9 446.9 724.9 446.6 726.9 446.1 728.9 445.6 730.9 445.0 732.9 444.2 734.9 443.4 736.9 442.5 738.9 441.4 740.9 440.1 742.9 438.5 744.9 436.8 746.9 435.0 748.9 433.0 750.9 431.1 752.9 429.0 754.9 426.9 756.9 424.7 758.9 422.4 760.9 419.9 762.9 417.2 764.9 414.4 766.9 411.6 768.9 408.6 770.9 405.6 772.9 402.6 774.9 399.5 776.9 396.3 778.9 393.1 780.9 389.7 782.9 386.1 784.9 382.5 786.9 378.8 788.9 375.1 790.9 371.3 792.9 367.6 794.9 363.9 796.9 360.4 798.9 357.0 800.9 353.8 802.9 350.7 804.9 347.9 806.9 345.1 808.9 342.5 810.9 339.9 812.9 337.4 814.9 334.9 816.9 332.6 818.9 330.6 820.9 328.7 822.9 327.1 824.9 325.7 826.9 324.4 828.9 323.2 830.9 322.1 832.9 321.0 834.9 320.0 836.9 319.0 838.9 318.0 840.9 317.2 842.9 316.6 844.9 316.1 846.9 315.9 848.9 315.8 850.9 315.9 852.9 316.0 854.9 316.2 856.9 316.4 858.9 316.6 860.9 316.8 862.9 317.0 864.9 317.2 866.9 317.3 868.9 317.4 870.9 317.4 872.9 317.3 874.9 317.2 876.9 316.9 878.9 316.6 880.9 316.2 882.9 315.8 884.9 315.4 886.9 315.0 888.9 314.7 890.9 314.3 892.9 314.0 894.9 313.7 896.9 313.4 898.9 313.1 900.9 312.8 902.9 312.5 904.9 312.3 906.9 312.0 908.9 311.8 910.9 311.7 912.9 311.6 914.9 311.7 916.9 311.8 918.9 312.0 920.9 312.3 922.9 312.6 924.9 313.0 926.9 313.4 928.9 313.8 930.9 314.2 932.9 314.7 934.9 315.3 936.9 316.0 938.9 316.9 940.9 317.8 942.9 318.8 944.9 319.8 946.9 320.9 948.9 322.0 950.9 323.1 952.9 324.2 954.9 325.3 956.9 326.5 958.9 327.8 960.9 329.1 962.9 330.5 964.9 332.0 966.9 333.6 968.9 335.1 970.9 336.7 972.9 338.3 974.9 339.8 976.9 341.3 978.9 342.8 980.9 344.1 982.9 345.4 984.9 346.6 986.9 347.7 988.9 348.9 990.9 350.0 992.9 351.1 994.9 352.1 996.9 353.1 998.9 354.0 1000.9 354.9 1002.9 355.7 1004.9 356.4 1006.9 357.0 1008.9 357.7 1010.9 358.3 1012.9 358.8 1014.9 359.4 1016.9 359.9 1018.9 360.4 1020.9 360.9 1022.9 361.2 1024.9 361.6 1026.9 361.9 1028.9 362.2 1030.9 362.5 1032.9 362.7 1034.9 363.0 1036.9 363.3 1038.9 363.5 1040.9 363.8 1042.9 364.0 1044.9 364.2 1046.9 364.3 1048.9 364.4 1050.9 364.4 1052.9 364.3 1054.9 364.1 1056.9 363.8 1058.9 363.5 1060.9 363.2 1062.9 362.8 1064.9 362.5 1066.9 362.2 1068.9 361.9 1070.9 361.5 1072.9 361.2 1074.9 360.9 1076.9 360.6 1078.9 360.3 1080.9 360.0 1082.9 359.7 1084.9 359.5 1086.9 359.2 1088.9 359.0 1090.9 358.8 1092.9 358.5 1094.9 358.3 1096.9 358.1 1098.9 357.9 1100.9 357.6 1102.9 357.4 1104.9 357.2 1106.9 357.0 1108.9 356.9 1110.9 356.7 1112.9 356.6 1114.9 356.5 1116.9 356.5 1118.9 356.4 1120.9 356.4 1122.9 356.3 1124.9 356.3 1126.9 356.3 1128.9 356.2 1130.9 356.2 1132.9 356.2 1134.9 356.1 1136.9 356.1 1138.9 356.1 1140.9 356.2 1142.9 356.2 1144.9 356.3 1146.9 356.4 1148.9 356.4 1150.9 356.5 1152.9 356.6 1154.9 356.7 1156.9 356.7 1158.9 356.6 1160.9 356.5 1162.9 356.3 1164.9 356.0 1166.9 355.6 1168.9 355.3 1170.9 354.9 1172.9 354.4 1174.9 353.8 1176.9 353.2 1178.9 352.5 1180.9 351.8 1182.9 351.0 1184.9 350.2 1186.9 349.3 1188.9 348.4 1190.9 347.5 1192.9 346.6 1194.9 345.7 1196.9 344.8 1198.9 343.8 1200.9 342.9 1202.9 342.0 1204.9 341.0 1206.9 340.1 1208.9 339.2 1210.9 338.2 1212.9 337.3 1214.9 336.3 1216.9 335.3 1218.9 334.2 1220.9 333.1 1222.9 332.0 1224.9 330.7 1226.9 329.5 1228.9 328.2 1230.9 326.9 1232.9 325.6 1234.9 324.4 1236.9 323.2 1238.9 322.0 1240.9 320.8 1242.9 319.8 1244.9 318.7 1246.9 317.8 1248.9 316.9 1250.9 316.1 1252.9 315.4 1254.9 314.8 1256.9 314.4 1258.9 314.2 1260.9 314.1 1262.9 314.1 1264.9 314.2 1266.9 314.3 1268.9 314.5 1270.9 314.7 1272.9 314.9 1274.9 315.2 1276.9 315.5 1278.9 315.8 1280.9 316.1 1282.9 316.5 1284.9 316.8 1286.9 317.1 1288.9 317.5 1290.9 317.8 1292.9 318.1 1294.9 318.5 1296.9 318.8 1298.9 319.1 1300.9 319.4 1302.9 319.8 1304.9 320.1 1306.9 320.4 1308.9 320.7 1310.9 321.0 1312.9 321.4 1314.9 321.7 1316.9 322.0 1318.9 322.3 1320.9 322.6 1322.9 322.8 1324.9 322.9 1326.9 323.0 1328.9 322.9 1330.9 322.8 1332.9 322.5 1334.9 322.2 1336.9 321.8 1338.9 321.4 1340.9 321.0 1342.9 320.6 1344.9 320.1 1346.9 319.5 1348.9 318.8 1350.9 318.1 1352.9 317.3 1354.9 316.5 1356.9 315.7 1358.9 314.8 1360.9 313.9 1362.9 313.0 1364.9 312.2 1366.9 311.3 1368.9 310.3 1370.9 309.4 1372.9 308.4 1374.9 307.4 1376.9 306.3 1378.9 305.3 1380.9 304.2 1382.9 303.2 1384.9 302.1 1386.9 301.1 1388.9 300.1 1390.9 299.1 1392.9 298.1 1394.9 297.2 1396.9 296.4 1398.9 295.6 1400.9 294.9 1402.9 294.2 1404.9 293.6 1406.9 293.0 1408.9 292.5 1410.9 292.0 1412.9 291.5 1414.9 291.1 1416.9 290.7 1418.9 290.3 1420.9 289.9 1422.9 289.4 1424.9 289.0 1426.9 288.6 1428.9 288.2 1430.9 287.9 1432.9 287.5 1434.9 287.2 1436.9 286.9 1438.9 286.5 1440.9 286.2 1442.9 285.9 1444.9 285.6 1446.9 285.3 1448.9 285.0 1450.9 284.7 1452.9 284.4 1454.9 284.1 1456.9 283.8 1458.9 283.5 1460.9 283.2 1462.4 283.0" stroke="#000"/>
<path d="M132.9 650.4L134.9 649.3 136.9 648.2 138.9 647.1 140.9 646.0 142.9 644.9 144.9 643.8 146.9 642.7 148.9 641.6 150.9 640.5 152.9 639.4 154.9 638.3 156.9 637.2 158.9 636.2 160.9 635.1 162.9 634.1 164.9 633.1 166.9 632.1 168.9 631.1 170.9 630.1 172.9 629.1 174.9 628.1 176.9 627.0 178.9 626.0 180.9 625.1 182.9 624.0 184.9 623.1 186.9 622.1 188.9 621.1 190.9 620.1 192.9 619.1 194.9 618.2 196.9 617.3 198.9 616.5 200.9 615.8 202.9 615.1 204.9 614.5 206.9 613.9 208.9 613.4 210.9 612.8 212.9 612.3 214.9 611.7 216.9 611.2 218.9 610.6 220.9 610.1 222.9 609.5 224.9 609.0 226.9 608.5 228.9 608.0 230.9 607.6 232.9 607.2 234.9 606.8 236.9 606.5 238.9 606.2 240.9 605.9 242.9 605.6 244.9 605.3 246.9 605.0 248.9 604.7 250.9 604.4 252.9 604.1 254.9 603.8 256.9 603.5 258.9 603.2 260.9 602.9 262.9 602.6 264.9 602.3 266.9 602.0 268.9 601.7 270.9 601.4 272.9 601.1 274.9 600.8 276.9 600.5 278.9 600.2 280.9 599.9 282.9 599.6 284.9 599.3 286.9 599.0 288.9 598.7 290.9 598.4 292.9 598.1 294.9 597.8 296.9 597.5 298.9 597.1 300.9 596.8 302.9 596.4 304.9 596.0 306.9 595.6 308.9 595.1 310.9 594.7 312.9 594.3 314.9 593.8 316.9 593.4 318.9 592.9 320.9 592.2 322.9 591.5 324.9 590.5 326.9 589.4 328.9 588.2 330.9 586.8 332.9 585.4 334.9 584.0 336.9 582.7 338.9 581.4 340.9 580.2 342.9 579.1 344.9 577.9 346.9 576.8 348.9 575.7 350.9 574.6 352.9 573.5 354.9 572.4 356.9 571.3 358.9 570.2 360.9 569.1 362.9 568.0 364.9 566.9 366.9 565.8 368.9 564.7 370.9 563.6 372.9 562.5 374.9 561.4 376.9 560.2 378.9 559.1 380.9 558.0 382.9 556.8 384.9 555.7 386.9 554.6 388.9 553.5 390.9 552.4 392.9 551.3 394.9 550.3 396.9 549.5 398.9 548.7 400.9 548.0 402.9 547.5 404.9 547.0 406.9 546.6 408.9 546.3 410.9 545.9 412.9 545.6 414.9 545.2 416.9 544.9 418.9 544.5 420.9 544.2 422.9 543.9 424.9 543.7 426.9 543.6 428.9 543.6 430.9 543.7 432.9 543.9 434.9 544.1 436.9 544.4 438.9 544.8 440.9 545.1 442.9 545.5 444.9 545.8 446.9 546.2 448.9 546.6 450.9 547.1 452.9 547.6 454.9 548.2 456.9 548.8 458.9 549.5 460.9 550.3 462.9 551.0 464.9 551.8 466.9 552.5 468.9 553.3 470.9 554.1 472.9 554.8 474.9 555.6 476.9 556.3 478.9 557.1 480.9 557.8 482.9 558.6 484.9 559.3 486.9 560.0 488.9 560.6 490.9 561.2 492.9 561.8 494.9 562.4 496.9 563.0 498.9 563.6 500.9 564.1 502.9 564.7 504.9 565.2 506.9 565.8 508.9 566.3 510.9 566.9 512.9 567.5 514.9 568.0 516.9 568.5 518.9 569.0 520.9 569.4 522.9 569.8 524.9 570.1 526.9 570.4 528.9 570.6 530.9 570.8 532.9 570.9 534.9 571.1 536.9 571.2 538.9 571.4 540.9 571.5 542.9 571.6 544.9 571.8 546.9 571.9 548.9 572.1 550.9 572.2 552.9 572.3 554.9 572.4 556.9 572.5 558.9 572.5 560.9 572.5 562.9 572.5 564.9 572.5 566.9 572.4 568.9 572.4 570.9 572.3 572.9 572.3 574.9 572.2 576.9 572.2 578.9 572.1 580.9 572.0 582.9 572.0 584.9 571.9 586.9 571.9 588.9 571.8 590.9 571.7 592.9 571.5 594.9 571.3 596.9 571.0 598.9 570.7 600.9 570.2 602.9 569.8 604.9 569.3 606.9 568.7 608.9 568.2 610.9 567.6 612.9 567.1 614.9 566.6 616.9 566.0 618.9 565.4 620.9 564.8 622.9 564.2 624.9 563.5 626.9 562.7 628.9 561.9 630.9 561.1 632.9 560.2 634.9 559.4 636.9 558.5 638.9 557.6 640.9 556.8 642.9 555.9 644.9 555.0 646.9 554.0 648.9 553.1 650.9 552.1 652.9 551.0 654.9 550.0 656.9 548.9 658.9 547.9 660.9 546.8 662.9 545.7 664.9 544.7 666.9 543.6 668.9 542.4 670.9 541.3 672.9 540.1 674.9 538.8 676.9 537.6 678.9 536.2 680.9 534.9 682.9 533.6 684.9 532.2 686.9 530.9 688.9 529.5 690.9 528.2 692.9 526.8 694.9 525.4 696.9 524.0 698.9 522.5 700.9 521.0 702.9 519.5 704.9 518.0 706.9 516.4 708.9 514.9 710.9 513.4 712.9 511.8 714.9 510.3 716.9 508.8 718.9 507.2 720.9 505.7 722.9 504.2 724.9 502.6 726.9 501.1 728.9 499.6 730.9 498.0 732.9 496.5 734.9 495.0 736.9 493.5 738.9 492.1 740.9 490.7 742.9 489.4 744.9 488.2 746.9 487.2 748.9 486.3 750.9 485.5 752.9 484.8 754.9 484.2 756.9 483.9 758.9 483.7 760.9 483.7 762.9 484.0 764.9 484.4 766.9 485.0 768.9 485.7 770.9 486.5 772.9 487.6 774.9 488.8 776.9 490.3 778.9 491.8 780.9 493.5 782.9 495.2 784.9 497.0 786.9 498.8 788.9 500.7 790.9 502.6 792.9 504.5 794.9 506.6 796.9 508.7 798.9 510.8 800.9 513.0 802.9 515.2 804.9 517.3 806.9 519.4 808.9 521.5 810.9 523.6 812.9 525.7 814.9 527.7 816.9 529.6 818.9 531.5 820.9 533.4 822.9 535.1 824.9 536.7 826.9 538.2 828.9 539.6 830.9 540.9 832.9 542.1 834.9 543.2 836.9 544.3 838.9 545.2 840.9 545.9 842.9 546.6 844.9 547.1 846.9 547.5 848.9 547.8 850.9 548.2 852.9 548.5 854.9 548.8 856.9 549.0 858.9 549.2 860.9 549.4 862.9 549.6 864.9 549.7 866.9 549.8 868.9 549.9 870.9 550.0 872.9 550.0 874.9 550.1 876.9 550.2 878.9 550.3 880.9 550.4 882.9 550.5 884.9 550.6 886.9 550.7 888.9 550.9 890.9 551.1 892.9 551.3 894.9 551.5 896.9 551.7 898.9 551.9 900.9 552.1 902.9 552.3 904.9 552.6 906.9 552.9 908.9 553.2 910.9 553.6 912.9 554.0 914.9 554.4 916.9 554.8 918.9 555.3 920.9 555.7 922.9 556.2 924.9 556.7 926.9 557.1 928.9 557.6 930.9 558.1 932.9 558.6 934.9 559.1 936.9 559.6 938.9 560.1 940.9 560.6 942.9 561.1 944.9 561.6 946.9 562.1 948.9 562.6 950.9 563.1 952.9 563.6 954.9 564.1 956.9 564.5 958.9 565.0 960.9 565.4 962.9 565.9 964.9 566.3 966.9 566.8 968.9 567.2 970.9 567.6 972.9 568.0 974.9 568.5 976.9 568.9 978.9 569.2 980.9 569.6 982.9 569.9 984.9 570.2 986.9 570.5 988.9 570.8 990.9 571.0 992.9 571.3 994.9 571.6 996.9 571.8 998.9 572.1 1000.9 572.4 1002.9 572.6 1004.9 572.8 1006.9 573.0 1008.9 573.1 1010.9 573.2 1012.9 573.1 1014.9 573.0 1016.9 572.8 1018.9 572.6 1020.9 572.3 1022.9 572.1 1024.9 571.8 1026.9 571.5 1028.9 571.3 1030.9 571.0 1032.9 570.7 1034.9 570.5 1036.9 570.2 1038.9 569.9 1040.9 569.6 1042.9 569.4 1044.9 569.1 1046.9 568.8 1048.9 568.5 1050.9 568.2 1052.9 567.9 1054.9 567.6 1056.9 567.3 1058.9 567.0 1060.9 566.7 1062.9 566.4 1064.9 566.1 1066.9 565.8 1068.9 565.5 1070.9 565.2 1072.9 564.9 1074.9 564.6 1076.9 564.3 1078.9 564.0 1080.9 563.7 1082.9 563.5 1084.9 563.3 1086.9 563.1 1088.9 562.9 1090.9 562.8 1092.9 562.6 1094.9 562.5 1096.9 562.4 1098.9 562.3 1100.9 562.2 1102.9 562.1 1104.9 562.0 1106.9 561.9 1108.9 561.8 1110.9 561.7 1112.9 561.6 1114.9 561.5 1116.9 561.4 1118.9 561.3 1120.9 561.2 1122.9 561.1 1124.9 561.1 1126.9 561.1 1128.9 561.1 1130.9 561.2 1132.9 561.3 1134.9 561.4 1136.9 561.6 1138.9 561.7 1140.9 561.9 1142.9 562.1 1144.9 562.2 1146.9 562.4 1148.9 562.5 1150.9 562.6 1152.9 562.8 1154.9 562.8 1156.9 562.9 1158.9 563.0 1160.9 563.1 1162.9 563.1 1164.9 563.2 1166.9 563.3 1168.9 563.4 1170.9 563.4 1172.9 563.5 1174.9 563.6 1176.9 563.7 1178.9 563.8 1180.9 564.0 1182.9 564.2 1184.9 564.4 1186.9 564.7 1188.9 565.0 1190.9 565.3 1192.9 565.6 1194.9 565.9 1196.9 566.3 1198.9 566.6 1200.9 566.9 1202.9 567.3 1204.9 567.6 1206.9 567.9 1208.9 568.2 1210.9 568.6 1212.9 568.9 1214.9 569.2 1216.9 569.5 1218.9 569.8 1220.9 570.1 1222.9 570.4 1224.9 570.7 1226.9 571.0 1228.9 571.3 1230.9 571.6 1232.9 571.9 1234.9 572.2 1236.9 572.5 1238.9 572.8 1240.9 573.1 1242.9 573.4 1244.9 573.7 1246.9 574.0 1248.9 574.3 1250.9 574.6 1252.9 574.8 1254.9 575.0 1256.9 575.2 1258.9 575.3 1260.9 575.3 1262.9 575.3 1264.9 575.3 1266.9 575.2 1268.9 575.2 1270.9 575.1 1272.9 575.1 1274.9 575.0 1276.9 575.0 1278.9 574.9 1280.9 574.9 1282.9 574.8 1284.9 574.8 1286.9 574.7 1288.9 574.7 1290.9 574.6 1292.9 574.6 1294.9 574.5 1296.9 574.4 1298.9 574.3 1300.9 574.2 1302.9 574.0 1304.9 573.8 1306.9 573.6 1308.9 573.4 1310.9 573.3 1312.9 573.1 1314.9 572.9 1316.9 572.7 1318.9 572.5 1320.9 572.3 1322.9 572.1 1324.9 571.9 1326.9 571.6 1328.9 571.4 1330.9 571.2 1332.9 571.0 1334.9 570.7 1336.9 570.5 1338.9 570.2 1340.9 570.0 1342.9 569.7 1344.9 569.4 1346.9 569.2 1348.9 568.9 1350.9 568.7 1352.9 568.4 1354.9 568.1 1356.9 567.9 1358.9 567.6 1360.9 567.4 1362.9 567.2 1364.9 567.0 1366.9 566.8 1368.9 566.7 1370.9 566.5 1372.9 566.4 1374.9 566.2 1376.9 566.1 1378.9 565.9 1380.9 565.8 1382.9 565.7 1384.9 565.5 1386.9 565.4 1388.9 565.3 1390.9 565.2 1392.9 565.1 1394.9 565.1 1396.9 565.1 1398.9 565.1 1400.9 565.2 1402.9 565.3 1404.9 565.5 1406.9 565.6 1408.9 565.7 1410.9 565.9 1412.9 566.0 1414.9 566.1 1416.9 566.3 1418.9 566.4 1420.9 566.5 1422.9 566.7 1424.9 566.8 1426.9 566.9 1428.9 567.1 1430.9 567.2 1432.9 567.3 1434.9 567.4 1436.9 567.6 1438.9 567.7 1440.9 567.8 1442.9 567.9 1444.9 568.1 1446.9 568.2 1448.9 568.3 1450.9 568.4 1452.9 568.5 1454.9 568.7 1456.9 568.8 1458.9 568.9 1460.9 569.0 1461.9 569.1" stroke="#EF8229"/>
<path d="M132.9 635.5L134.9 634.3 136.9 633.0 138.9 631.8 140.9 630.5 142.9 629.3 144.9 628.1 146.9 626.9 148.9 625.6 150.9 624.4 152.9 623.3 154.9 622.1 156.9 620.9 158.9 619.8 160.9 618.7 162.9 617.5 164.9 616.4 166.9 615.3 168.9 614.1 170.9 613.0 172.9 611.9 174.9 610.8 176.9 609.8 178.9 608.8 180.9 607.8 182.9 606.8 184.9 605.9 186.9 605.0 188.9 604.1 190.9 603.2 192.9 602.3 194.9 601.5 196.9 600.8 198.9 600.2 200.9 599.7 202.9 599.4 204.9 599.0 206.9 598.8 208.9 598.6 210.9 598.4 212.9 598.2 214.9 597.9 216.9 597.7 218.9 597.5 220.9 597.3 222.9 597.2 224.9 597.0 226.9 596.8 228.9 596.6 230.9 596.5 232.9 596.4 234.9 596.3 236.9 596.3 238.9 596.2 240.9 596.2 242.9 596.1 244.9 596.1 246.9 596.0 248.9 596.0 250.9 595.9 252.9 595.9 254.9 595.8 256.9 595.8 258.9 595.7 260.9 595.7 262.9 595.7 264.9 595.6 266.9 595.6 268.9 595.5 270.9 595.5 272.9 595.4 274.9 595.4 276.9 595.3 278.9 595.2 280.9 595.0 282.9 594.8 284.9 594.6 286.9 594.3 288.9 594.0 290.9 593.6 292.9 593.2 294.9 592.8 296.9 592.5 298.9 592.1 300.9 591.7 302.9 591.3 304.9 590.9 306.9 590.5 308.9 590.1 310.9 589.8 312.9 589.4 314.9 589.0 316.9 588.7 318.9 588.4 320.9 588.1 322.9 587.8 324.9 587.6 326.9 587.4 328.9 587.1 330.9 586.9 332.9 586.7 334.9 586.5 336.9 586.3 338.9 586.2 340.9 586.1 342.9 586.2 344.9 586.3 346.9 586.5 348.9 586.7 350.9 587.0 352.9 587.3 354.9 587.7 356.9 588.0 358.9 588.3 360.9 588.7 362.9 589.0 364.9 589.3 366.9 589.7 368.9 590.1 370.9 590.6 372.9 591.0 374.9 591.6 376.9 592.1 378.9 592.7 380.9 593.2 382.9 593.8 384.9 594.4 386.9 595.0 388.9 595.5 390.9 596.1 392.9 596.6 394.9 597.2 396.9 597.6 398.9 598.0 400.9 598.4 402.9 598.6 404.9 598.9 406.9 599.1 408.9 599.3 410.9 599.5 412.9 599.7 414.9 599.9 416.9 600.1 418.9 600.2 420.9 600.4 422.9 600.5 424.9 600.6 426.9 600.7 428.9 600.7 430.9 600.8 432.9 600.8 434.9 600.9 436.9 601.0 438.9 601.1 440.9 601.1 442.9 601.1 444.9 601.1 446.9 601.0 448.9 600.9 450.9 600.8 452.9 600.6 454.9 600.5 456.9 600.4 458.9 600.3 460.9 600.1 462.9 600.0 464.9 599.9 466.9 599.7 468.9 599.6 470.9 599.5 472.9 599.3 474.9 599.2 476.9 599.1 478.9 598.9 480.9 598.8 482.9 598.7 484.9 598.5 486.9 598.4 488.9 598.3 490.9 598.2 492.9 598.0 494.9 597.9 496.9 597.8 498.9 597.8 500.9 597.7 502.9 597.6 504.9 597.6 506.9 597.5 508.9 597.5 510.9 597.4 512.9 597.4 514.9 597.3 516.9 597.3 518.9 597.2 520.9 597.2 522.9 597.1 524.9 597.1 526.9 597.0 528.9 597.0 530.9 596.9 532.9 596.9 534.9 596.8 536.9 596.8 538.9 596.7 540.9 596.7 542.9 596.6 544.9 596.6 546.9 596.5 548.9 596.4 550.9 596.3 552.9 596.2 554.9 596.1 556.9 595.9 558.9 595.7 560.9 595.5 562.9 595.3 564.9 595.1 566.9 594.9 568.9 594.7 570.9 594.5 572.9 594.3 574.9 594.1 576.9 593.9 578.9 593.7 580.9 593.5 582.9 593.3 584.9 593.1 586.9 592.9 588.9 592.7 590.9 592.5 592.9 592.3 594.9 592.1 596.9 591.9 598.9 591.7 600.9 591.5 602.9 591.3 604.9 591.0 606.9 590.7 608.9 590.4 610.9 590.1 612.9 589.7 614.9 589.2 616.9 588.8 618.9 588.4 620.9 587.9 622.9 587.5 624.9 587.0 626.9 586.6 628.9 586.1 630.9 585.7 632.9 585.2 634.9 584.8 636.9 584.3 638.9 583.9 640.9 583.4 642.9 583.0 644.9 582.5 646.9 582.1 648.9 581.6 650.9 581.2 652.9 580.7 654.9 580.3 656.9 579.9 658.9 579.4 660.9 579.0 662.9 578.6 664.9 578.3 666.9 577.9 668.9 577.6 670.9 577.3 672.9 577.0 674.9 576.8 676.9 576.5 678.9 576.2 680.9 576.0 682.9 575.7 684.9 575.4 686.9 575.2 688.9 574.9 690.9 574.6 692.9 574.4 694.9 574.1 696.9 573.8 698.9 573.6 700.9 573.4 702.9 573.2 704.9 573.0 706.9 572.9 708.9 572.9 710.9 572.9 712.9 573.0 714.9 573.0 716.9 573.1 718.9 573.2 720.9 573.3 722.9 573.4 724.9 573.5 726.9 573.6 728.9 573.7 730.9 573.8 732.9 573.9 734.9 574.0 736.9 574.1 738.9 574.2 740.9 574.3 742.9 574.4 744.9 574.5 746.9 574.6 748.9 574.7 750.9 574.8 752.9 574.9 754.9 575.0 756.9 575.1 758.9 575.2 760.9 575.4 762.9 575.5 764.9 575.6 766.9 575.7 768.9 575.8 770.9 576.0 772.9 576.1 774.9 576.2 776.9 576.4 778.9 576.5 780.9 576.6 782.9 576.8 784.9 576.9 786.9 577.0 788.9 577.2 790.9 577.3 792.9 577.4 794.9 577.6 796.9 577.7 798.9 577.8 800.9 577.9 802.9 577.9 804.9 577.9 806.9 577.9 808.9 577.8 810.9 577.7 812.9 577.5 814.9 577.4 816.9 577.2 818.9 577.1 820.9 576.9 822.9 576.8 824.9 576.6 826.9 576.5 828.9 576.3 830.9 576.2 832.9 576.0 834.9 575.9 836.9 575.8 838.9 575.7 840.9 575.5 842.9 575.5 844.9 575.4 846.9 575.3 848.9 575.2 850.9 575.2 852.9 575.1 854.9 575.0 856.9 574.9 858.9 574.7 860.9 574.4 862.9 574.2 864.9 573.8 866.9 573.4 868.9 573.0 870.9 572.6 872.9 572.1 874.9 571.6 876.9 571.1 878.9 570.5 880.9 569.8 882.9 569.1 884.9 568.4 886.9 567.7 888.9 566.9 890.9 566.1 892.9 565.2 894.9 564.2 896.9 563.2 898.9 562.2 900.9 561.1 902.9 559.9 904.9 558.8 906.9 557.6 908.9 556.3 910.9 555.0 912.9 553.7 914.9 552.4 916.9 551.0 918.9 549.6 920.9 548.3 922.9 547.1 924.9 545.9 926.9 544.7 928.9 543.6 930.9 542.6 932.9 541.6 934.9 540.6 936.9 539.7 938.9 538.8 940.9 538.0 942.9 537.3 944.9 536.6 946.9 536.0 948.9 535.4 950.9 534.8 952.9 534.3 954.9 533.8 956.9 533.3 958.9 533.0 960.9 532.7 962.9 532.4 964.9 532.3 966.9 532.2 968.9 532.3 970.9 532.5 972.9 532.7 974.9 533.0 976.9 533.4 978.9 533.7 980.9 534.1 982.9 534.4 984.9 534.7 986.9 535.0 988.9 535.3 990.9 535.6 992.9 535.9 994.9 536.2 996.9 536.5 998.9 536.8 1000.9 537.1 1002.9 537.2 1004.9 537.4 1006.9 537.4 1008.9 537.3 1010.9 537.1 1012.9 536.9 1014.9 536.6 1016.9 536.3 1018.9 535.9 1020.9 535.6 1022.9 535.3 1024.9 535.0 1026.9 534.6 1028.9 534.3 1030.9 534.0 1032.9 533.6 1034.9 533.3 1036.9 533.1 1038.9 532.9 1040.9 532.7 1042.9 532.7 1044.9 532.8 1046.9 533.0 1048.9 533.3 1050.9 533.7 1052.9 534.0 1054.9 534.4 1056.9 534.8 1058.9 535.2 1060.9 535.6 1062.9 536.0 1064.9 536.4 1066.9 536.8 1068.9 537.2 1070.9 537.7 1072.9 538.1 1074.9 538.6 1076.9 539.1 1078.9 539.7 1080.9 540.2 1082.9 540.8 1084.9 541.4 1086.9 542.0 1088.9 542.6 1090.9 543.2 1092.9 543.8 1094.9 544.4 1096.9 545.0 1098.9 545.6 1100.9 546.1 1102.9 546.6 1104.9 547.1 1106.9 547.4 1108.9 547.6 1110.9 547.8 1112.9 547.9 1114.9 547.9 1116.9 547.9 1118.9 547.9 1120.9 547.9 1122.9 547.9 1124.9 547.9 1126.9 547.9 1128.9 547.9 1130.9 547.9 1132.9 547.9 1134.9 547.9 1136.9 547.9 1138.9 547.9 1140.9 547.8 1142.9 547.8 1144.9 547.9 1146.9 547.9 1148.9 547.9 1150.9 548.0 1152.9 548.1 1154.9 548.2 1156.9 548.3 1158.9 548.4 1160.9 548.5 1162.9 548.6 1164.9 548.8 1166.9 548.9 1168.9 549.0 1170.9 549.2 1172.9 549.3 1174.9 549.5 1176.9 549.6 1178.9 549.8 1180.9 550.1 1182.9 550.4 1184.9 550.7 1186.9 551.1 1188.9 551.5 1190.9 552.0 1192.9 552.5 1194.9 552.9 1196.9 553.4 1198.9 553.9 1200.9 554.3 1202.9 554.8 1204.9 555.3 1206.9 555.7 1208.9 556.2 1210.9 556.6 1212.9 557.0 1214.9 557.4 1216.9 557.7 1218.9 558.0 1220.9 558.3 1222.9 558.6 1224.9 558.8 1226.9 559.1 1228.9 559.4 1230.9 559.6 1232.9 559.9 1234.9 560.1 1236.9 560.4 1238.9 560.7 1240.9 560.9 1242.9 561.2 1244.9 561.4 1246.9 561.7 1248.9 561.9 1250.9 562.2 1252.9 562.4 1254.9 562.6 1256.9 562.9 1258.9 563.1 1260.9 563.3 1262.9 563.5 1264.9 563.8 1266.9 564.0 1268.9 564.2 1270.9 564.5 1272.9 564.7 1274.9 564.9 1276.9 565.0 1278.9 565.2 1280.9 565.3 1282.9 565.3 1284.9 565.4 1286.9 565.5 1288.9 565.5 1290.9 565.5 1292.9 565.6 1294.9 565.6 1296.9 565.7 1298.9 565.7 1300.9 565.7 1302.9 565.7 1304.9 565.8 1306.9 565.7 1308.9 565.7 1310.9 565.6 1312.9 565.5 1314.9 565.3 1316.9 565.1 1318.9 564.9 1320.9 564.7 1322.9 564.5 1324.9 564.2 1326.9 564.0 1328.9 563.8 1330.9 563.6 1332.9 563.3 1334.9 563.1 1336.9 562.9 1338.9 562.7 1340.9 562.6 1342.9 562.5 1344.9 562.4 1346.9 562.3 1348.9 562.3 1350.9 562.3 1352.9 562.3 1354.9 562.3 1356.9 562.3 1358.9 562.3 1360.9 562.3 1362.9 562.3 1364.9 562.3 1366.9 562.4 1368.9 562.4 1370.9 562.4 1372.9 562.4 1374.9 562.4 1376.9 562.5 1378.9 562.5 1380.9 562.5 1382.9 562.5 1384.9 562.6 1386.9 562.6 1388.9 562.5 1390.9 562.4 1392.9 562.2 1394.9 561.9 1396.9 561.4 1398.9 560.8 1400.9 560.1 1402.9 559.3 1404.9 558.5 1406.9 557.6 1408.9 556.7 1410.9 555.8 1412.9 554.9 1414.9 553.9 1416.9 553.0 1418.9 552.0 1420.9 551.1 1422.9 550.1 1424.9 549.1 1426.9 548.1 1428.9 547.1 1430.9 546.1 1432.9 545.0 1434.9 544.0 1436.9 543.0 1438.9 541.9 1440.9 540.9 1442.9 539.8 1444.9 538.7 1446.9 537.6 1448.9 536.6 1450.9 535.5 1452.9 534.4 1454.9 533.3 1456.9 532.2 1458.9 531.1 1460.9 530.0 1461.9 529.5" stroke="#1F3CFF"/>
<path d="M132.9 645.2L134.9 644.3 136.9 643.4 138.9 642.5 140.9 641.6 142.9 640.7 144.9 639.8 146.9 638.8 148.9 637.9 150.9 637.0 152.9 636.1 154.9 635.3 156.9 634.4 158.9 633.6 160.9 632.8 162.9 632.0 164.9 631.3 166.9 630.6 168.9 629.9 170.9 629.2 172.9 628.5 174.9 627.8 176.9 627.2 178.9 626.5 180.9 625.8 182.9 625.1 184.9 624.5 186.9 623.8 188.9 623.1 190.9 622.5 192.9 621.9 194.9 621.4 196.9 621.0 198.9 620.8 200.9 620.8 202.9 620.9 204.9 621.1 206.9 621.5 208.9 621.8 210.9 622.2 212.9 622.6 214.9 622.9 216.9 623.3 218.9 623.7 220.9 624.1 222.9 624.5 224.9 624.9 226.9 625.3 228.9 625.7 230.9 626.1 232.9 626.4 234.9 626.8 236.9 627.2 238.9 627.6 240.9 628.0 242.9 628.4 244.9 628.8 246.9 629.2 248.9 629.6 250.9 630.0 252.9 630.4 254.9 630.8 256.9 631.2 258.9 631.6 260.9 632.0 262.9 632.3 264.9 632.6 266.9 632.9 268.9 633.1 270.9 633.4 272.9 633.5 274.9 633.7 276.9 633.9 278.9 634.0 280.9 634.1 282.9 634.2 284.9 634.1 286.9 634.0 288.9 633.8 290.9 633.5 292.9 633.1 294.9 632.7 296.9 632.2 298.9 631.7 300.9 631.3 302.9 630.8 304.9 630.2 306.9 629.7 308.9 629.0 310.9 628.3 312.9 627.6 314.9 626.8 316.9 625.9 318.9 625.1 320.9 624.3 322.9 623.5 324.9 622.8 326.9 622.1 328.9 621.4 330.9 620.8 332.9 620.2 334.9 619.7 336.9 619.1 338.9 618.5 340.9 618.0 342.9 617.4 344.9 616.9 346.9 616.3 348.9 615.7 350.9 615.0 352.9 614.3 354.9 613.6 356.9 612.8 358.9 611.9 360.9 611.1 362.9 610.2 364.9 609.3 366.9 608.4 368.9 607.5 370.9 606.6 372.9 605.7 374.9 604.8 376.9 603.9 378.9 603.0 380.9 602.2 382.9 601.4 384.9 600.6 386.9 599.9 388.9 599.3 390.9 598.8 392.9 598.4 394.9 598.0 396.9 597.6 398.9 597.3 400.9 596.9 402.9 596.6 404.9 596.2 406.9 595.8 408.9 595.4 410.9 595.0 412.9 594.6 414.9 594.3 416.9 594.0 418.9 593.7 420.9 593.5 422.9 593.4 424.9 593.4 426.9 593.4 428.9 593.5 430.9 593.6 432.9 593.8 434.9 594.0 436.9 594.2 438.9 594.5 440.9 594.8 442.9 595.2 444.9 595.7 446.9 596.2 448.9 596.8 450.9 597.3 452.9 597.9 454.9 598.5 456.9 599.0 458.9 599.6 460.9 600.2 462.9 600.8 464.9 601.4 466.9 602.0 468.9 602.6 470.9 603.2 472.9 603.8 474.9 604.4 476.9 604.9 478.9 605.5 480.9 606.1 482.9 606.7 484.9 607.2 486.9 607.7 488.9 608.0 490.9 608.2 492.9 608.3 494.9 608.2 496.9 608.1 498.9 607.9 500.9 607.7 502.9 607.4 504.9 607.2 506.9 606.9 508.9 606.7 510.9 606.4 512.9 606.2 514.9 605.9 516.9 605.7 518.9 605.5 520.9 605.2 522.9 605.0 524.9 604.8 526.9 604.7 528.9 604.5 530.9 604.4 532.9 604.2 534.9 604.1 536.9 603.9 538.9 603.8 540.9 603.7 542.9 603.5 544.9 603.4 546.9 603.3 548.9 603.1 550.9 603.0 552.9 602.9 554.9 602.7 556.9 602.6 558.9 602.5 560.9 602.3 562.9 602.1 564.9 601.9 566.9 601.7 568.9 601.4 570.9 601.2 572.9 600.8 574.9 600.5 576.9 600.2 578.9 599.9 580.9 599.5 582.9 599.2 584.9 598.9 586.9 598.5 588.9 598.2 590.9 597.9 592.9 597.5 594.9 597.2 596.9 596.9 598.9 596.5 600.9 596.2 602.9 595.8 604.9 595.5 606.9 595.1 608.9 594.6 610.9 594.2 612.9 593.7 614.9 593.2 616.9 592.6 618.9 592.1 620.9 591.6 622.9 591.1 624.9 590.5 626.9 590.0 628.9 589.5 630.9 588.9 632.9 588.4 634.9 587.9 636.9 587.3 638.9 586.8 640.9 586.3 642.9 585.8 644.9 585.3 646.9 584.9 648.9 584.6 650.9 584.4 652.9 584.3 654.9 584.3 656.9 584.3 658.9 584.4 660.9 584.5 662.9 584.7 664.9 584.8 666.9 584.9 668.9 585.1 670.9 585.2 672.9 585.3 674.9 585.4 676.9 585.6 678.9 585.7 680.9 585.8 682.9 586.0 684.9 586.1 686.9 586.2 688.9 586.3 690.9 586.4 692.9 586.4 694.9 586.4 696.9 586.4 698.9 586.4 700.9 586.3 702.9 586.2 704.9 586.2 706.9 586.1 708.9 586.0 710.9 586.0 712.9 585.9 714.9 585.8 716.9 585.8 718.9 585.7 720.9 585.6 722.9 585.6 724.9 585.5 726.9 585.4 728.9 585.4 730.9 585.3 732.9 585.2 734.9 585.0 736.9 584.9 738.9 584.7 740.9 584.5 742.9 584.3 744.9 584.1 746.9 583.9 748.9 583.7 750.9 583.5 752.9 583.3 754.9 583.1 756.9 582.9 758.9 582.7 760.9 582.5 762.9 582.3 764.9 582.1 766.9 582.0 768.9 581.8 770.9 581.7 772.9 581.6 774.9 581.7 776.9 581.9 778.9 582.2 780.9 582.6 782.9 583.1 784.9 583.6 786.9 584.2 788.9 584.8 790.9 585.4 792.9 586.0 794.9 586.6 796.9 587.2 798.9 587.8 800.9 588.4 802.9 589.0 804.9 589.6 806.9 590.2 808.9 590.8 810.9 591.4 812.9 592.0 814.9 592.5 816.9 593.1 818.9 593.6 820.9 594.1 822.9 594.5 824.9 595.0 826.9 595.4 828.9 595.8 830.9 596.3 832.9 596.7 834.9 597.2 836.9 597.6 838.9 598.1 840.9 598.7 842.9 599.3 844.9 599.9 846.9 600.5 848.9 601.2 850.9 601.8 852.9 602.5 854.9 603.1 856.9 603.8 858.9 604.4 860.9 605.1 862.9 605.6 864.9 606.2 866.9 606.7 868.9 607.1 870.9 607.5 872.9 607.8 874.9 608.2 876.9 608.5 878.9 608.8 880.9 609.1 882.9 609.4 884.9 609.7 886.9 610.1 888.9 610.4 890.9 610.7 892.9 611.0 894.9 611.2 896.9 611.5 898.9 611.6 900.9 611.8 902.9 611.8 904.9 611.8 906.9 611.7 908.9 611.7 910.9 611.6 912.9 611.5 914.9 611.4 916.9 611.3 918.9 611.2 920.9 611.2 922.9 611.1 924.9 611.0 926.9 610.9 928.9 610.8 930.9 610.7 932.9 610.6 934.9 610.5 936.9 610.4 938.9 610.4 940.9 610.3 942.9 610.2 944.9 610.1 946.9 610.0 948.9 610.0 950.9 609.9 952.9 609.8 954.9 609.8 956.9 609.7 958.9 609.7 960.9 609.6 962.9 609.6 964.9 609.5 966.9 609.5 968.9 609.4 970.9 609.4 972.9 609.3 974.9 609.3 976.9 609.2 978.9 609.2 980.9 609.1 982.9 609.1 984.9 609.0 986.9 609.0 988.9 609.0 990.9 609.0 992.9 609.1 994.9 609.1 996.9 609.2 998.9 609.2 1000.9 609.3 1002.9 609.4 1004.9 609.4 1006.9 609.5 1008.9 609.6 1010.9 609.6 1012.9 609.7 1014.9 609.7 1016.9 609.7 1018.9 609.7 1020.9 609.6 1022.9 609.5 1024.9 609.3 1026.9 609.0 1028.9 608.7 1030.9 608.4 1032.9 608.1 1034.9 607.7 1036.9 607.4 1038.9 607.1 1040.9 606.7 1042.9 606.4 1044.9 606.0 1046.9 605.7 1048.9 605.4 1050.9 605.0 1052.9 604.6 1054.9 604.3 1056.9 603.9 1058.9 603.5 1060.9 603.1 1062.9 602.7 1064.9 602.3 1066.9 601.9 1068.9 601.5 1070.9 601.1 1072.9 600.7 1074.9 600.3 1076.9 599.9 1078.9 599.5 1080.9 599.1 1082.9 598.7 1084.9 598.4 1086.9 598.0 1088.9 597.6 1090.9 597.2 1092.9 596.8 1094.9 596.5 1096.9 596.2 1098.9 595.9 1100.9 595.7 1102.9 595.4 1104.9 595.2 1106.9 595.0 1108.9 594.8 1110.9 594.6 1112.9 594.4 1114.9 594.2 1116.9 594.0 1118.9 593.8 1120.9 593.6 1122.9 593.5 1124.9 593.3 1126.9 593.2 1128.9 593.0 1130.9 592.9 1132.9 592.9 1134.9 592.8 1136.9 592.8 1138.9 592.8 1140.9 592.7 1142.9 592.7 1144.9 592.6 1146.9 592.6 1148.9 592.5 1150.9 592.3 1152.9 592.2 1154.9 592.0 1156.9 591.8 1158.9 591.6 1160.9 591.4 1162.9 591.2 1164.9 590.9 1166.9 590.7 1168.9 590.5 1170.9 590.3 1172.9 590.0 1174.9 589.8 1176.9 589.6 1178.9 589.4 1180.9 589.1 1182.9 588.9 1184.9 588.7 1186.9 588.5 1188.9 588.2 1190.9 588.0 1192.9 587.8 1194.9 587.6 1196.9 587.4 1198.9 587.2 1200.9 587.1 1202.9 587.0 1204.9 587.0 1206.9 587.1 1208.9 587.2 1210.9 587.3 1212.9 587.5 1214.9 587.7 1216.9 587.8 1218.9 588.0 1220.9 588.2 1222.9 588.4 1224.9 588.6 1226.9 588.8 1228.9 588.9 1230.9 589.1 1232.9 589.3 1234.9 589.5 1236.9 589.7 1238.9 589.9 1240.9 590.0 1242.9 590.2 1244.9 590.4 1246.9 590.6 1248.9 590.8 1250.9 590.9 1252.9 591.0 1254.9 591.1 1256.9 591.2 1258.9 591.2 1260.9 591.1 1262.9 591.0 1264.9 590.9 1266.9 590.7 1268.9 590.6 1270.9 590.4 1272.9 590.3 1274.9 590.1 1276.9 590.0 1278.9 589.8 1280.9 589.7 1282.9 589.5 1284.9 589.3 1286.9 589.2 1288.9 589.0 1290.9 588.9 1292.9 588.7 1294.9 588.6 1296.9 588.4 1298.9 588.3 1300.9 588.1 1302.9 588.0 1304.9 587.8 1306.9 587.7 1308.9 587.5 1310.9 587.4 1312.9 587.2 1314.9 587.1 1316.9 587.0 1318.9 587.0 1320.9 587.0 1322.9 587.1 1324.9 587.3 1326.9 587.5 1328.9 587.8 1330.9 588.0 1332.9 588.3 1334.9 588.6 1336.9 588.9 1338.9 589.1 1340.9 589.4 1342.9 589.7 1344.9 590.0 1346.9 590.3 1348.9 590.5 1350.9 590.8 1352.9 591.1 1354.9 591.4 1356.9 591.7 1358.9 591.9 1360.9 592.1 1362.9 592.4 1364.9 592.5 1366.9 592.7 1368.9 592.8 1370.9 593.0 1372.9 593.1 1374.9 593.2 1376.9 593.3 1378.9 593.4 1380.9 593.5 1382.9 593.6 1384.9 593.7 1386.9 593.8 1388.9 593.8 1390.9 593.9 1392.9 594.0 1394.9 594.1 1396.9 594.2 1398.9 594.3 1400.9 594.4 1402.9 594.5 1404.9 594.5 1406.9 594.5 1408.9 594.5 1410.9 594.5 1412.9 594.4 1414.9 594.4 1416.9 594.3 1418.9 594.2 1420.9 594.1 1422.9 594.1 1424.9 594.0 1426.9 593.9 1428.9 593.8 1430.9 593.8 1432.9 593.7 1434.9 593.6 1436.9 593.5 1438.9 593.5 1440.9 593.4 1442.9 593.3 1444.9 593.2 1446.9 593.2 1448.9 593.1 1450.9 593.0 1452.9 592.9 1454.9 592.9 1456.9 592.8 1458.9 592.7 1460.9 592.6 1461.9 592.6" stroke="#A2E637"/>
</g>
<rect x="131.0" y="18.8" width="1333.0" height="834.9" fill="none" stroke="#000" stroke-width="4.2"/>
<path d="M131.0 853.7H109.5M131.0 770.2H120.5M131.0 686.7H109.5M131.0 603.2H120.5M131.0 519.7H109.5M131.0 436.3H120.5M131.0 352.8H109.5M131.0 269.3H120.5M131.0 185.8H109.5M131.0 102.3H120.5M131.0 18.8H109.5M131.0 853.7V874.7M297.6 853.7V863.7M464.2 853.7V874.7M630.9 853.7V863.7M797.5 853.7V874.7M964.1 853.7V863.7M1130.8 853.7V874.7M1297.4 853.7V863.7M1464.0 853.7V874.7" stroke="#000" stroke-width="4.2" fill="none"/>
<g style="font-family:'Liberation Serif',serif;font-weight:bold" font-size="47" fill="#000">
<text x="95.5" y="867.9" text-anchor="end">0</text>
<text x="95.5" y="700.9" text-anchor="end">1</text>
<text x="95.5" y="533.9" text-anchor="end">2</text>
<text x="95.5" y="367.0" text-anchor="end">3</text>
<text x="95.5" y="200.0" text-anchor="end">4</text>
<text x="95.5" y="33.0" text-anchor="end">5</text>
<text x="131.0" y="925.3" text-anchor="middle">0</text>
<text x="464.2" y="925.3" text-anchor="middle">50</text>
<text x="797.5" y="925.3" text-anchor="middle">100</text>
<text x="1130.8" y="925.3" text-anchor="middle">150</text>
<text x="1464.0" y="925.3" text-anchor="middle">200</text>
</g>
<text x="797.5" y="1012.6" text-anchor="middle" style="font-family:'Liberation Serif',serif;font-weight:bold" font-size="56">Time (ns)</text>
<text transform="translate(48.6 435.6) rotate(-90)" text-anchor="middle" style="font-family:'Liberation Serif',serif;font-weight:bold" font-size="56">RMSD (Å)</text>
<line x1="444.0" y1="45.6" x2="490.0" y2="45.6" stroke="#000" stroke-width="10" stroke-linecap="round"/>
<text transform="translate(522.4 59.6) scale(1 1.08)" style="font-family:'Liberation Serif',serif;font-weight:bold" font-size="41">APO</text>
<line x1="641.0" y1="45.6" x2="687.0" y2="45.6" stroke="#EF8229" stroke-width="10" stroke-linecap="round"/>
<text transform="translate(720.1 59.6) scale(1 1.08)" style="font-family:'Liberation Serif',serif;font-weight:bold" font-size="41">6M0J</text>
<line x1="852.0" y1="45.6" x2="898.0" y2="45.6" stroke="#1F3CFF" stroke-width="10" stroke-linecap="round"/>
<text transform="translate(930.6 59.6) scale(1 1.08)" style="font-family:'Liberation Serif',serif;font-weight:bold" font-size="41">C3</text>
<line x1="1013.6" y1="45.6" x2="1059.0" y2="45.6" stroke="#A2E637" stroke-width="10" stroke-linecap="round"/>
<text transform="translate(1090.8 59.6) scale(1 1.08)" style="font-family:'Liberation Serif',serif;font-weight:bold" font-size="41">C6E</text>
</svg></body></html>
